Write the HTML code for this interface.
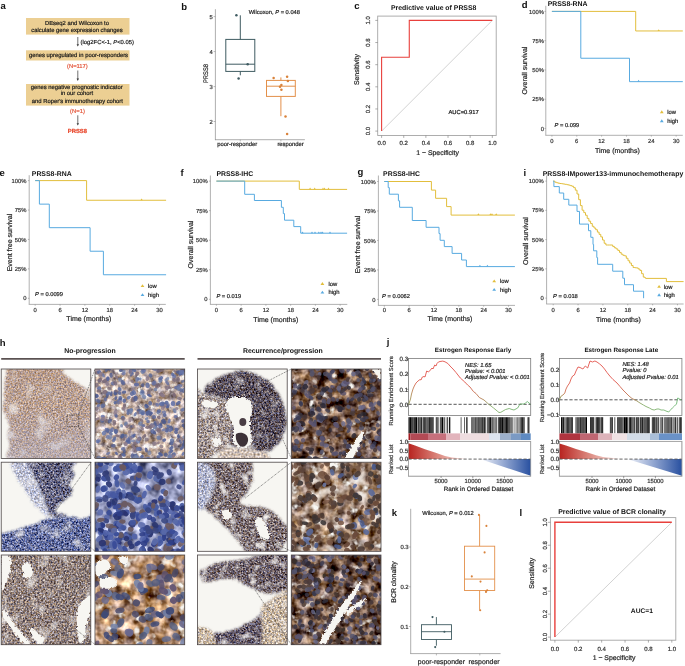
<!DOCTYPE html><html><head><meta charset="utf-8"><title>Figure</title><style>html,body{margin:0;padding:0;background:#fff;}body{width:685px;height:666px;overflow:hidden;font-family:"Liberation Sans",sans-serif;}svg{display:block;will-change:transform;}text{stroke-width:0.2px;paint-order:stroke;}</style></head><body><svg width="685" height="666" viewBox="0 0 685 666" font-family='"Liberation Sans", sans-serif' text-rendering="geometricPrecision"><rect width="685" height="666" fill="#fff"/><defs><filter id="f000" x="0" y="0" width="1" height="1" color-interpolation-filters="sRGB"><feTurbulence type="fractalNoise" baseFrequency="0.6" numOctaves="3" seed="1" result="n"/><feColorMatrix in="n" type="matrix" values="0.700 0.329 0 0 0.215 0.700 0.094 0 0 0.230 0.700 -0.376 0 0 0.411 0 0 0 0 1" result="c"/><feTurbulence type="fractalNoise" baseFrequency="0.06" numOctaves="2" seed="78" result="cn"/><feColorMatrix in="cn" type="matrix" values="0 0 0 0 0.97 0 0 0 0 0.96 0 0 0 0 0.95 2.5 0 0 0 -1.375" result="cw"/><feComposite in="cw" in2="c" operator="over" result="cc"/><feColorMatrix in="n" type="matrix" values="0 0 0 0 0.97 0 0 0 0 0.965 0 0 0 0 0.95 0 0 3 0 -1.920" result="w"/><feComposite in="w" in2="cc" operator="over"/></filter><filter id="f100" x="0" y="0" width="1" height="1" color-interpolation-filters="sRGB"><feTurbulence type="fractalNoise" baseFrequency="0.16" numOctaves="3" seed="4" result="n"/><feColorMatrix in="n" type="matrix" values="1.100 0.192 0 0 0.083 1.100 0.055 0 0 0.074 1.100 -0.220 0 0 0.179 0 0 0 0 1" result="c"/><feColorMatrix in="n" type="matrix" values="0 0 0 0 0.97 0 0 0 0 0.965 0 0 0 0 0.95 0 0 5 0 -2.850" result="w"/><feComposite in="w" in2="c" operator="over"/></filter><filter id="f010" x="0" y="0" width="1" height="1" color-interpolation-filters="sRGB"><feTurbulence type="fractalNoise" baseFrequency="0.55" numOctaves="3" seed="6" result="n"/><feColorMatrix in="n" type="matrix" values="0.900 0.220 0 0 0.166 0.900 0.063 0 0 0.256 0.900 -0.251 0 0 0.499 0 0 0 0 1" result="c"/><feTurbulence type="fractalNoise" baseFrequency="0.08" numOctaves="2" seed="83" result="cn"/><feColorMatrix in="cn" type="matrix" values="0 0 0 0 0.97 0 0 0 0 0.96 0 0 0 0 0.95 2.0 0 0 0 -1.100" result="cw"/><feComposite in="cw" in2="c" operator="over" result="cc"/><feColorMatrix in="n" type="matrix" values="0 0 0 0 0.97 0 0 0 0 0.965 0 0 0 0 0.95 0 0 3 0 -1.800" result="w"/><feComposite in="w" in2="cc" operator="over"/></filter><filter id="f011" x="0" y="0" width="1" height="1" color-interpolation-filters="sRGB"><feTurbulence type="fractalNoise" baseFrequency="0.55" numOctaves="3" seed="7" result="n"/><feColorMatrix in="n" type="matrix" values="1.200 0.275 0 0 -0.376 1.200 0.078 0 0 -0.278 1.200 -0.314 0 0 0.035 0 0 0 0 1" result="c"/><feTurbulence type="fractalNoise" baseFrequency="0.08" numOctaves="2" seed="84" result="cn"/><feColorMatrix in="cn" type="matrix" values="0 0 0 0 0.97 0 0 0 0 0.96 0 0 0 0 0.95 1.5 0 0 0 -0.825" result="cw"/><feComposite in="cw" in2="c" operator="over" result="cc"/><feColorMatrix in="n" type="matrix" values="0 0 0 0 0.97 0 0 0 0 0.965 0 0 0 0 0.95 0 0 3 0 -1.800" result="w"/><feComposite in="w" in2="cc" operator="over"/></filter><filter id="f012" x="0" y="0" width="1" height="1" color-interpolation-filters="sRGB"><feTurbulence type="fractalNoise" baseFrequency="0.55" numOctaves="3" seed="8" result="n"/><feColorMatrix in="n" type="matrix" values="1.200 0.275 0 0 -0.365 1.200 0.078 0 0 -0.227 1.200 -0.314 0 0 0.165 0 0 0 0 1" result="c"/><feTurbulence type="fractalNoise" baseFrequency="0.08" numOctaves="2" seed="85" result="cn"/><feColorMatrix in="cn" type="matrix" values="0 0 0 0 0.97 0 0 0 0 0.96 0 0 0 0 0.95 2.5 0 0 0 -1.375" result="cw"/><feComposite in="cw" in2="c" operator="over" result="cc"/><feColorMatrix in="n" type="matrix" values="0 0 0 0 0.97 0 0 0 0 0.965 0 0 0 0 0.95 0 0 3 0 -1.800" result="w"/><feComposite in="w" in2="cc" operator="over"/></filter><filter id="f110" x="0" y="0" width="1" height="1" color-interpolation-filters="sRGB"><feTurbulence type="fractalNoise" baseFrequency="0.08" numOctaves="3" seed="10" result="n"/><feColorMatrix in="n" type="matrix" values="1.400 0.059 0 0 -0.102 1.400 0.049 0 0 -0.077 1.400 0.020 0 0 0.075 0 0 0 0 1" result="c"/></filter><filter id="f020" x="0" y="0" width="1" height="1" color-interpolation-filters="sRGB"><feTurbulence type="fractalNoise" baseFrequency="0.55" numOctaves="3" seed="13" result="n"/><feColorMatrix in="n" type="matrix" values="1.050 0.275 0 0 -0.113 1.050 0.078 0 0 -0.078 1.050 -0.314 0 0 0.102 0 0 0 0 1" result="c"/><feTurbulence type="fractalNoise" baseFrequency="0.08" numOctaves="2" seed="90" result="cn"/><feColorMatrix in="cn" type="matrix" values="0 0 0 0 0.97 0 0 0 0 0.96 0 0 0 0 0.95 2.5 0 0 0 -1.375" result="cw"/><feComposite in="cw" in2="c" operator="over" result="cc"/><feColorMatrix in="n" type="matrix" values="0 0 0 0 0.97 0 0 0 0 0.965 0 0 0 0 0.95 0 0 3 0 -1.800" result="w"/><feComposite in="w" in2="cc" operator="over"/></filter><filter id="f120" x="0" y="0" width="1" height="1" color-interpolation-filters="sRGB"><feTurbulence type="fractalNoise" baseFrequency="0.09" numOctaves="3" seed="17" result="n"/><feColorMatrix in="n" type="matrix" values="1.500 0.220 0 0 -0.201 1.500 0.063 0 0 -0.272 1.500 -0.251 0 0 -0.232 0 0 0 0 1" result="c"/><feColorMatrix in="n" type="matrix" values="0 0 0 0 0.97 0 0 0 0 0.965 0 0 0 0 0.95 0 0 4.5 0 -2.610" result="w"/><feComposite in="w" in2="c" operator="over"/></filter><filter id="f200" x="0" y="0" width="1" height="1" color-interpolation-filters="sRGB"><feTurbulence type="fractalNoise" baseFrequency="0.55" numOctaves="3" seed="21" result="n"/><feColorMatrix in="n" type="matrix" values="1.050 0.275 0 0 -0.325 1.050 0.078 0 0 -0.266 1.050 -0.314 0 0 -0.023 0 0 0 0 1" result="c"/><feTurbulence type="fractalNoise" baseFrequency="0.09" numOctaves="2" seed="98" result="cn"/><feColorMatrix in="cn" type="matrix" values="0 0 0 0 0.97 0 0 0 0 0.96 0 0 0 0 0.95 2.0 0 0 0 -1.100" result="cw"/><feComposite in="cw" in2="c" operator="over" result="cc"/><feColorMatrix in="n" type="matrix" values="0 0 0 0 0.97 0 0 0 0 0.965 0 0 0 0 0.95 0 0 3 0 -1.860" result="w"/><feComposite in="w" in2="cc" operator="over"/></filter><filter id="f201" x="0" y="0" width="1" height="1" color-interpolation-filters="sRGB"><feTurbulence type="fractalNoise" baseFrequency="0.55" numOctaves="3" seed="20" result="n"/><feColorMatrix in="n" type="matrix" values="1.050 0.275 0 0 -0.074 1.050 0.078 0 0 -0.031 1.050 -0.314 0 0 0.157 0 0 0 0 1" result="c"/><feTurbulence type="fractalNoise" baseFrequency="0.1" numOctaves="2" seed="97" result="cn"/><feColorMatrix in="cn" type="matrix" values="0 0 0 0 0.97 0 0 0 0 0.96 0 0 0 0 0.95 3.5 0 0 0 -1.925" result="cw"/><feComposite in="cw" in2="c" operator="over" result="cc"/><feColorMatrix in="n" type="matrix" values="0 0 0 0 0.97 0 0 0 0 0.965 0 0 0 0 0.95 0 0 3 0 -1.680" result="w"/><feComposite in="w" in2="cc" operator="over"/></filter><filter id="f202" x="0" y="0" width="1" height="1" color-interpolation-filters="sRGB"><feTurbulence type="fractalNoise" baseFrequency="0.5" numOctaves="3" seed="22" result="n"/><feColorMatrix in="n" type="matrix" values="0.800 0.165 0 0 0.322 0.800 0.047 0 0 0.322 0.800 -0.188 0 0 0.400 0 0 0 0 1" result="c"/></filter><filter id="f300" x="0" y="0" width="1" height="1" color-interpolation-filters="sRGB"><feTurbulence type="fractalNoise" baseFrequency="0.11" numOctaves="3" seed="24" result="n"/><feColorMatrix in="n" type="matrix" values="1.400 0.165 0 0 -0.343 1.400 0.047 0 0 -0.402 1.400 -0.188 0 0 -0.355 0 0 0 0 1" result="c"/><feColorMatrix in="n" type="matrix" values="0 0 0 0 0.97 0 0 0 0 0.965 0 0 0 0 0.95 0 0 4 0 -2.400" result="w"/><feComposite in="w" in2="c" operator="over"/></filter><filter id="f210" x="0" y="0" width="1" height="1" color-interpolation-filters="sRGB"><feTurbulence type="fractalNoise" baseFrequency="0.55" numOctaves="3" seed="26" result="n"/><feColorMatrix in="n" type="matrix" values="1.000 0.220 0 0 0.057 1.000 0.063 0 0 0.151 1.000 -0.251 0 0 0.410 0 0 0 0 1" result="c"/><feTurbulence type="fractalNoise" baseFrequency="0.1" numOctaves="2" seed="103" result="cn"/><feColorMatrix in="cn" type="matrix" values="0 0 0 0 0.97 0 0 0 0 0.96 0 0 0 0 0.95 3.0 0 0 0 -1.650" result="cw"/><feComposite in="cw" in2="c" operator="over" result="cc"/><feColorMatrix in="n" type="matrix" values="0 0 0 0 0.97 0 0 0 0 0.965 0 0 0 0 0.95 0 0 3 0 -1.650" result="w"/><feComposite in="w" in2="cc" operator="over"/></filter><filter id="f211" x="0" y="0" width="1" height="1" color-interpolation-filters="sRGB"><feTurbulence type="fractalNoise" baseFrequency="0.55" numOctaves="3" seed="27" result="n"/><feColorMatrix in="n" type="matrix" values="1.050 0.275 0 0 -0.223 1.050 0.078 0 0 -0.180 1.050 -0.314 0 0 0.032 0 0 0 0 1" result="c"/><feTurbulence type="fractalNoise" baseFrequency="0.1" numOctaves="2" seed="104" result="cn"/><feColorMatrix in="cn" type="matrix" values="0 0 0 0 0.97 0 0 0 0 0.96 0 0 0 0 0.95 3.5 0 0 0 -1.925" result="cw"/><feComposite in="cw" in2="c" operator="over" result="cc"/><feColorMatrix in="n" type="matrix" values="0 0 0 0 0.97 0 0 0 0 0.965 0 0 0 0 0.95 0 0 3 0 -1.650" result="w"/><feComposite in="w" in2="cc" operator="over"/></filter><filter id="f310" x="0" y="0" width="1" height="1" color-interpolation-filters="sRGB"><feTurbulence type="fractalNoise" baseFrequency="0.1" numOctaves="3" seed="30" result="n"/><feColorMatrix in="n" type="matrix" values="1.500 0.165 0 0 -0.283 1.500 0.047 0 0 -0.334 1.500 -0.188 0 0 -0.295 0 0 0 0 1" result="c"/><feTurbulence type="fractalNoise" baseFrequency="0.07" numOctaves="2" seed="107" result="cn"/><feColorMatrix in="cn" type="matrix" values="0 0 0 0 0.97 0 0 0 0 0.96 0 0 0 0 0.95 3.0 0 0 0 -1.650" result="cw"/><feComposite in="cw" in2="c" operator="over" result="cc"/><feColorMatrix in="n" type="matrix" values="0 0 0 0 0.97 0 0 0 0 0.965 0 0 0 0 0.95 0 0 4.5 0 -2.520" result="w"/><feComposite in="w" in2="cc" operator="over"/></filter><filter id="f220" x="0" y="0" width="1" height="1" color-interpolation-filters="sRGB"><feTurbulence type="fractalNoise" baseFrequency="0.55" numOctaves="3" seed="33" result="n"/><feColorMatrix in="n" type="matrix" values="1.050 0.275 0 0 -0.250 1.050 0.078 0 0 -0.203 1.050 -0.314 0 0 0.024 0 0 0 0 1" result="c"/><feTurbulence type="fractalNoise" baseFrequency="0.1" numOctaves="2" seed="110" result="cn"/><feColorMatrix in="cn" type="matrix" values="0 0 0 0 0.97 0 0 0 0 0.96 0 0 0 0 0.95 3.0 0 0 0 -1.650" result="cw"/><feComposite in="cw" in2="c" operator="over" result="cc"/><feColorMatrix in="n" type="matrix" values="0 0 0 0 0.97 0 0 0 0 0.965 0 0 0 0 0.95 0 0 3 0 -1.740" result="w"/><feComposite in="w" in2="cc" operator="over"/></filter><filter id="f221" x="0" y="0" width="1" height="1" color-interpolation-filters="sRGB"><feTurbulence type="fractalNoise" baseFrequency="0.55" numOctaves="3" seed="35" result="n"/><feColorMatrix in="n" type="matrix" values="1.050 0.275 0 0 -0.290 1.050 0.078 0 0 -0.231 1.050 -0.314 0 0 0.024 0 0 0 0 1" result="c"/><feTurbulence type="fractalNoise" baseFrequency="0.1" numOctaves="2" seed="112" result="cn"/><feColorMatrix in="cn" type="matrix" values="0 0 0 0 0.97 0 0 0 0 0.96 0 0 0 0 0.95 2.5 0 0 0 -1.375" result="cw"/><feComposite in="cw" in2="c" operator="over" result="cc"/><feColorMatrix in="n" type="matrix" values="0 0 0 0 0.97 0 0 0 0 0.965 0 0 0 0 0.95 0 0 3 0 -1.800" result="w"/><feComposite in="w" in2="cc" operator="over"/></filter><filter id="f222" x="0" y="0" width="1" height="1" color-interpolation-filters="sRGB"><feTurbulence type="fractalNoise" baseFrequency="0.55" numOctaves="3" seed="34" result="n"/><feColorMatrix in="n" type="matrix" values="1.000 0.275 0 0 0.131 1.000 0.078 0 0 0.159 1.000 -0.314 0 0 0.284 0 0 0 0 1" result="c"/><feTurbulence type="fractalNoise" baseFrequency="0.1" numOctaves="2" seed="111" result="cn"/><feColorMatrix in="cn" type="matrix" values="0 0 0 0 0.97 0 0 0 0 0.96 0 0 0 0 0.95 2.5 0 0 0 -1.375" result="cw"/><feComposite in="cw" in2="c" operator="over" result="cc"/><feColorMatrix in="n" type="matrix" values="0 0 0 0 0.97 0 0 0 0 0.965 0 0 0 0 0.95 0 0 3 0 -1.800" result="w"/><feComposite in="w" in2="cc" operator="over"/></filter><filter id="f320" x="0" y="0" width="1" height="1" color-interpolation-filters="sRGB"><feTurbulence type="fractalNoise" baseFrequency="0.11" numOctaves="3" seed="37" result="n"/><feColorMatrix in="n" type="matrix" values="1.400 0.165 0 0 -0.351 1.400 0.047 0 0 -0.402 1.400 -0.188 0 0 -0.347 0 0 0 0 1" result="c"/><feColorMatrix in="n" type="matrix" values="0 0 0 0 0.97 0 0 0 0 0.965 0 0 0 0 0.95 0 0 4 0 -2.400" result="w"/><feComposite in="w" in2="c" operator="over"/></filter></defs><text x="0.50" y="8.80" font-size="9.5" font-weight="bold" fill="#111">a</text>
<rect x="26.00" y="18.00" width="103.50" height="16.60" fill="#ECCF93"/>
<text x="77.00" y="24.80" font-size="5.85" text-anchor="middle" fill="#1a1a1a" stroke="#1a1a1a">DEseq2 and Wilcoxon to</text>
<text x="77.00" y="31.50" font-size="5.85" text-anchor="middle" fill="#1a1a1a" stroke="#1a1a1a">calculate gene expression changes</text>
<line x1="77.80" y1="37.00" x2="77.80" y2="44.50" stroke="#333" stroke-width="0.7"/>
<path d="M76.6,44.2 L79,44.2 L77.8,46.6 Z" fill="#333"/>
<text x="80.6" y="43.6" font-size="5.85" fill="#1a1a1a" stroke="#1a1a1a">(log2FC&lt;-1, <tspan font-style="italic">P</tspan>&lt;0.05)</text>
<rect x="26.00" y="50.30" width="103.50" height="10.20" fill="#ECCF93"/>
<text x="78.50" y="57.40" font-size="5.85" text-anchor="middle" fill="#1a1a1a" stroke="#1a1a1a">genes upregulated in poor-responders</text>
<text x="77.40" y="68.10" font-size="5.85" text-anchor="middle" fill="#E4573C" stroke="#E4573C">(N=117)</text>
<line x1="77.80" y1="70.50" x2="77.80" y2="79.00" stroke="#333" stroke-width="0.7"/>
<path d="M76.6,78.6 L79,78.6 L77.8,81 Z" fill="#333"/>
<rect x="26.00" y="84.00" width="103.50" height="21.60" fill="#ECCF93"/>
<text x="76.70" y="88.90" font-size="5.85" text-anchor="middle" fill="#1a1a1a" stroke="#1a1a1a">genes negative prognostic indicator</text>
<text x="76.90" y="95.40" font-size="5.85" text-anchor="middle" fill="#1a1a1a" stroke="#1a1a1a">in our cohort</text>
<text x="77.40" y="102.60" font-size="5.85" text-anchor="middle" fill="#1a1a1a" stroke="#1a1a1a">and Roper's immunotherapy cohort</text>
<text x="77.50" y="112.90" font-size="5.85" text-anchor="middle" fill="#E4573C" stroke="#E4573C">(N=1)</text>
<line x1="77.80" y1="115.30" x2="77.80" y2="123.50" stroke="#333" stroke-width="0.7"/>
<path d="M76.6,123.2 L79,123.2 L77.8,125.6 Z" fill="#333"/>
<text x="77.40" y="132.80" font-size="5.9" text-anchor="middle" font-weight="bold" fill="#E8452A" stroke="#E8452A">PRSS8</text>
<text x="181.20" y="10.00" font-size="9.5" font-weight="bold" fill="#111">b</text>
<line x1="215.40" y1="9.20" x2="215.40" y2="140.10" stroke="#8C8C8C" stroke-width="0.7"/>
<line x1="215.00" y1="139.70" x2="304.90" y2="139.70" stroke="#8C8C8C" stroke-width="0.7"/>
<line x1="213.60" y1="16.60" x2="215.40" y2="16.60" stroke="#8C8C8C" stroke-width="0.6"/>
<text x="212.80" y="18.70" font-size="5.85" text-anchor="end" fill="#333" stroke="#333">5</text>
<line x1="213.60" y1="51.60" x2="215.40" y2="51.60" stroke="#8C8C8C" stroke-width="0.6"/>
<text x="212.80" y="53.70" font-size="5.85" text-anchor="end" fill="#333" stroke="#333">4</text>
<line x1="213.60" y1="86.60" x2="215.40" y2="86.60" stroke="#8C8C8C" stroke-width="0.6"/>
<text x="212.80" y="88.70" font-size="5.85" text-anchor="end" fill="#333" stroke="#333">3</text>
<line x1="213.60" y1="121.50" x2="215.40" y2="121.50" stroke="#8C8C8C" stroke-width="0.6"/>
<text x="212.80" y="123.60" font-size="5.85" text-anchor="end" fill="#333" stroke="#333">2</text>
<line x1="240.30" y1="139.70" x2="240.30" y2="141.40" stroke="#8C8C8C" stroke-width="0.6"/>
<line x1="280.90" y1="139.70" x2="280.90" y2="141.40" stroke="#8C8C8C" stroke-width="0.6"/>
<text x="237.20" y="146.30" font-size="5.85" text-anchor="middle" fill="#222" stroke="#222">poor-responder</text>
<text x="290.60" y="146.30" font-size="5.85" text-anchor="middle" fill="#222" stroke="#222">responder</text>
<text x="206.60" y="73.50" font-size="6.6" text-anchor="middle" fill="#222" stroke="#222" transform="rotate(-90 206.60 73.50)" dominant-baseline="central" textLength="19" lengthAdjust="spacingAndGlyphs">PRSS8</text>
<text x="248.7" y="14.0" font-size="5.75" fill="#222" stroke="#222">Wilcoxon, <tspan font-style="italic">P</tspan> = 0.048</text>
<rect x="225.80" y="39.40" width="29.00" height="32.00" fill="#fff" stroke="#3F5B61" stroke-width="1.0"/>
<line x1="225.80" y1="64.20" x2="254.80" y2="64.20" stroke="#3F5B61" stroke-width="1.0"/>
<line x1="240.30" y1="39.40" x2="240.30" y2="15.30" stroke="#3F5B61" stroke-width="1.0"/>
<line x1="240.30" y1="71.40" x2="240.30" y2="75.30" stroke="#3F5B61" stroke-width="1.0"/>
<circle cx="236.40" cy="15.30" r="1.25" fill="#3F5B61"/>
<circle cx="247.70" cy="64.30" r="1.25" fill="#3F5B61"/>
<circle cx="238.60" cy="78.40" r="1.25" fill="#3F5B61"/>
<rect x="266.50" y="80.40" width="28.80" height="16.00" fill="#fff" stroke="#E3904A" stroke-width="1.0"/>
<line x1="266.50" y1="86.20" x2="295.30" y2="86.20" stroke="#E3904A" stroke-width="1.0"/>
<line x1="280.90" y1="80.40" x2="280.90" y2="77.40" stroke="#E3904A" stroke-width="1.0"/>
<line x1="280.90" y1="96.40" x2="280.90" y2="116.20" stroke="#E3904A" stroke-width="1.0"/>
<circle cx="273.60" cy="78.00" r="1.25" fill="#D9823A"/>
<circle cx="287.10" cy="76.80" r="1.25" fill="#D9823A"/>
<circle cx="287.90" cy="81.00" r="1.25" fill="#D9823A"/>
<circle cx="281.40" cy="85.10" r="1.25" fill="#D9823A"/>
<circle cx="280.00" cy="86.80" r="1.25" fill="#D9823A"/>
<circle cx="281.40" cy="89.80" r="1.25" fill="#D9823A"/>
<circle cx="285.50" cy="116.40" r="1.25" fill="#D9823A"/>
<circle cx="287.10" cy="134.00" r="1.25" fill="#D9823A"/>
<text x="354.30" y="9.30" font-size="9.5" font-weight="bold" fill="#111">c</text>
<rect x="377.70" y="16.10" width="118.50" height="119.40" fill="none" stroke="#A5A5A5" stroke-width="0.9"/>
<line x1="381.60" y1="131.10" x2="492.30" y2="20.40" stroke="#B4B4B4" stroke-width="0.6"/>
<polyline points="381.60,131.10 381.60,57.26 409.28,57.26 409.28,20.40 492.30,20.40" fill="none" stroke="#E8403C" stroke-width="1.1" stroke-linejoin="miter"/>
<line x1="375.30" y1="131.10" x2="377.70" y2="131.10" stroke="#777" stroke-width="0.6"/>
<text x="369.30" y="131.10" font-size="6.0" text-anchor="middle" fill="#333" stroke="#333" transform="rotate(-90 369.30 131.10)" dominant-baseline="central">0.0</text>
<line x1="381.60" y1="135.50" x2="381.60" y2="137.90" stroke="#777" stroke-width="0.6"/>
<text x="381.60" y="144.70" font-size="6.0" text-anchor="middle" fill="#333" stroke="#333">0.0</text>
<line x1="375.30" y1="108.96" x2="377.70" y2="108.96" stroke="#777" stroke-width="0.6"/>
<text x="369.30" y="108.96" font-size="6.0" text-anchor="middle" fill="#333" stroke="#333" transform="rotate(-90 369.30 108.96)" dominant-baseline="central">0.2</text>
<line x1="403.74" y1="135.50" x2="403.74" y2="137.90" stroke="#777" stroke-width="0.6"/>
<text x="403.74" y="144.70" font-size="6.0" text-anchor="middle" fill="#333" stroke="#333">0.2</text>
<line x1="375.30" y1="86.82" x2="377.70" y2="86.82" stroke="#777" stroke-width="0.6"/>
<text x="369.30" y="86.82" font-size="6.0" text-anchor="middle" fill="#333" stroke="#333" transform="rotate(-90 369.30 86.82)" dominant-baseline="central">0.4</text>
<line x1="425.88" y1="135.50" x2="425.88" y2="137.90" stroke="#777" stroke-width="0.6"/>
<text x="425.88" y="144.70" font-size="6.0" text-anchor="middle" fill="#333" stroke="#333">0.4</text>
<line x1="375.30" y1="64.68" x2="377.70" y2="64.68" stroke="#777" stroke-width="0.6"/>
<text x="369.30" y="64.68" font-size="6.0" text-anchor="middle" fill="#333" stroke="#333" transform="rotate(-90 369.30 64.68)" dominant-baseline="central">0.6</text>
<line x1="448.02" y1="135.50" x2="448.02" y2="137.90" stroke="#777" stroke-width="0.6"/>
<text x="448.02" y="144.70" font-size="6.0" text-anchor="middle" fill="#333" stroke="#333">0.6</text>
<line x1="375.30" y1="42.54" x2="377.70" y2="42.54" stroke="#777" stroke-width="0.6"/>
<text x="369.30" y="42.54" font-size="6.0" text-anchor="middle" fill="#333" stroke="#333" transform="rotate(-90 369.30 42.54)" dominant-baseline="central">0.8</text>
<line x1="470.16" y1="135.50" x2="470.16" y2="137.90" stroke="#777" stroke-width="0.6"/>
<text x="470.16" y="144.70" font-size="6.0" text-anchor="middle" fill="#333" stroke="#333">0.8</text>
<line x1="375.30" y1="20.40" x2="377.70" y2="20.40" stroke="#777" stroke-width="0.6"/>
<text x="369.30" y="20.40" font-size="6.0" text-anchor="middle" fill="#333" stroke="#333" transform="rotate(-90 369.30 20.40)" dominant-baseline="central">1.0</text>
<line x1="492.30" y1="135.50" x2="492.30" y2="137.90" stroke="#777" stroke-width="0.6"/>
<text x="492.30" y="144.70" font-size="6.0" text-anchor="middle" fill="#333" stroke="#333">1.0</text>
<text x="433.70" y="10.10" font-size="6.9" text-anchor="middle" font-weight="bold" fill="#111">Predictive value of PRSS8</text>
<text x="357.10" y="69.60" font-size="6.9" text-anchor="middle" fill="#222" stroke="#222" transform="rotate(-90 357.10 69.60)" dominant-baseline="central">Sensitivity</text>
<text x="437.60" y="154.50" font-size="6.9" text-anchor="middle" fill="#222" stroke="#222">1 − Specificity</text>
<text x="448.50" y="113.80" font-size="5.8" fill="#111" stroke="#111">AUC=0.917</text>
<text x="519.50" y="516.30" font-size="9.5" font-weight="bold" fill="#111">l</text>
<rect x="550.40" y="517.60" width="125.40" height="122.60" fill="none" stroke="#A5A5A5" stroke-width="0.9"/>
<line x1="554.90" y1="637.10" x2="671.80" y2="522.30" stroke="#B4B4B4" stroke-width="0.6"/>
<polyline points="554.90,637.10 554.90,522.30 671.80,522.30" fill="none" stroke="#E8403C" stroke-width="1.4" stroke-linejoin="miter"/>
<line x1="548.00" y1="637.10" x2="550.40" y2="637.10" stroke="#777" stroke-width="0.6"/>
<text x="545.70" y="637.10" font-size="6.0" text-anchor="middle" fill="#333" stroke="#333" transform="rotate(-90 545.70 637.10)" dominant-baseline="central">0.0</text>
<line x1="554.90" y1="640.20" x2="554.90" y2="642.60" stroke="#777" stroke-width="0.6"/>
<text x="554.90" y="651.20" font-size="6.0" text-anchor="middle" fill="#333" stroke="#333">0.0</text>
<line x1="548.00" y1="614.14" x2="550.40" y2="614.14" stroke="#777" stroke-width="0.6"/>
<text x="545.70" y="614.14" font-size="6.0" text-anchor="middle" fill="#333" stroke="#333" transform="rotate(-90 545.70 614.14)" dominant-baseline="central">0.2</text>
<line x1="578.28" y1="640.20" x2="578.28" y2="642.60" stroke="#777" stroke-width="0.6"/>
<text x="578.28" y="651.20" font-size="6.0" text-anchor="middle" fill="#333" stroke="#333">0.2</text>
<line x1="548.00" y1="591.18" x2="550.40" y2="591.18" stroke="#777" stroke-width="0.6"/>
<text x="545.70" y="591.18" font-size="6.0" text-anchor="middle" fill="#333" stroke="#333" transform="rotate(-90 545.70 591.18)" dominant-baseline="central">0.4</text>
<line x1="601.66" y1="640.20" x2="601.66" y2="642.60" stroke="#777" stroke-width="0.6"/>
<text x="601.66" y="651.20" font-size="6.0" text-anchor="middle" fill="#333" stroke="#333">0.4</text>
<line x1="548.00" y1="568.22" x2="550.40" y2="568.22" stroke="#777" stroke-width="0.6"/>
<text x="545.70" y="568.22" font-size="6.0" text-anchor="middle" fill="#333" stroke="#333" transform="rotate(-90 545.70 568.22)" dominant-baseline="central">0.6</text>
<line x1="625.04" y1="640.20" x2="625.04" y2="642.60" stroke="#777" stroke-width="0.6"/>
<text x="625.04" y="651.20" font-size="6.0" text-anchor="middle" fill="#333" stroke="#333">0.6</text>
<line x1="548.00" y1="545.26" x2="550.40" y2="545.26" stroke="#777" stroke-width="0.6"/>
<text x="545.70" y="545.26" font-size="6.0" text-anchor="middle" fill="#333" stroke="#333" transform="rotate(-90 545.70 545.26)" dominant-baseline="central">0.8</text>
<line x1="648.42" y1="640.20" x2="648.42" y2="642.60" stroke="#777" stroke-width="0.6"/>
<text x="648.42" y="651.20" font-size="6.0" text-anchor="middle" fill="#333" stroke="#333">0.8</text>
<line x1="548.00" y1="522.30" x2="550.40" y2="522.30" stroke="#777" stroke-width="0.6"/>
<text x="545.70" y="522.30" font-size="6.0" text-anchor="middle" fill="#333" stroke="#333" transform="rotate(-90 545.70 522.30)" dominant-baseline="central">1.0</text>
<line x1="671.80" y1="640.20" x2="671.80" y2="642.60" stroke="#777" stroke-width="0.6"/>
<text x="671.80" y="651.20" font-size="6.0" text-anchor="middle" fill="#333" stroke="#333">1.0</text>
<text x="612.00" y="514.00" font-size="6.9" text-anchor="middle" font-weight="bold" fill="#111">Predictive value of BCR clonality</text>
<text x="532.30" y="573.30" font-size="6.9" text-anchor="middle" fill="#222" stroke="#222" transform="rotate(-90 532.30 573.30)" dominant-baseline="central">Sensitivity</text>
<text x="614.00" y="660.10" font-size="6.9" text-anchor="middle" fill="#222" stroke="#222">1 − Specificity</text>
<text x="630.80" y="613.00" font-size="6.7" font-weight="bold" fill="#111">AUC=1</text>
<text x="521.80" y="8.00" font-size="9.5" font-weight="bold" fill="#111">d</text>
<line x1="545.80" y1="5.80" x2="545.80" y2="135.30" stroke="#A8A8A8" stroke-width="0.9"/>
<line x1="545.35" y1="135.30" x2="682.80" y2="135.30" stroke="#A8A8A8" stroke-width="0.9"/>
<line x1="544.50" y1="11.40" x2="545.80" y2="11.40" stroke="#888" stroke-width="0.6"/>
<text x="543.90" y="13.50" font-size="5.85" text-anchor="end" fill="#333" stroke="#333">100%</text>
<line x1="544.50" y1="40.68" x2="545.80" y2="40.68" stroke="#888" stroke-width="0.6"/>
<text x="543.90" y="42.78" font-size="5.85" text-anchor="end" fill="#333" stroke="#333">75%</text>
<line x1="544.50" y1="69.95" x2="545.80" y2="69.95" stroke="#888" stroke-width="0.6"/>
<text x="543.90" y="72.05" font-size="5.85" text-anchor="end" fill="#333" stroke="#333">50%</text>
<line x1="544.50" y1="99.22" x2="545.80" y2="99.22" stroke="#888" stroke-width="0.6"/>
<text x="543.90" y="101.32" font-size="5.85" text-anchor="end" fill="#333" stroke="#333">25%</text>
<line x1="544.50" y1="128.50" x2="545.80" y2="128.50" stroke="#888" stroke-width="0.6"/>
<text x="543.90" y="130.60" font-size="5.85" text-anchor="end" fill="#333" stroke="#333">0</text>
<line x1="551.90" y1="135.30" x2="551.90" y2="136.60" stroke="#888" stroke-width="0.6"/>
<text x="551.90" y="142.50" font-size="5.85" text-anchor="middle" fill="#333" stroke="#333">0</text>
<line x1="576.75" y1="135.30" x2="576.75" y2="136.60" stroke="#888" stroke-width="0.6"/>
<text x="576.75" y="142.50" font-size="5.85" text-anchor="middle" fill="#333" stroke="#333">6</text>
<line x1="601.60" y1="135.30" x2="601.60" y2="136.60" stroke="#888" stroke-width="0.6"/>
<text x="601.60" y="142.50" font-size="5.85" text-anchor="middle" fill="#333" stroke="#333">12</text>
<line x1="626.46" y1="135.30" x2="626.46" y2="136.60" stroke="#888" stroke-width="0.6"/>
<text x="626.46" y="142.50" font-size="5.85" text-anchor="middle" fill="#333" stroke="#333">18</text>
<line x1="651.31" y1="135.30" x2="651.31" y2="136.60" stroke="#888" stroke-width="0.6"/>
<text x="651.31" y="142.50" font-size="5.85" text-anchor="middle" fill="#333" stroke="#333">24</text>
<line x1="676.16" y1="135.30" x2="676.16" y2="136.60" stroke="#888" stroke-width="0.6"/>
<text x="676.16" y="142.50" font-size="5.85" text-anchor="middle" fill="#333" stroke="#333">30</text>
<text x="547.70" y="5.75" font-size="6.9" font-weight="bold" fill="#111">PRSS8-RNA</text>
<text x="525.30" y="70.50" font-size="7.0" text-anchor="middle" fill="#222" stroke="#222" transform="rotate(-90 525.30 70.50)" dominant-baseline="central">Overall survival</text>
<text x="554.50" y="126.65" font-size="5.75" fill="#222" stroke="#222"><tspan font-style="italic">P</tspan> = 0.099</text>
<text x="617.40" y="152.50" font-size="7.0" text-anchor="middle" fill="#222" stroke="#222">Time (months)</text>
<path d="M659.90,113.14 L663.70,113.14 L661.80,110.29 Z" fill="#E2BE3C"/>
<path d="M659.90,122.14 L663.70,122.14 L661.80,119.29 Z" fill="#58AAE0"/>
<text x="667.30" y="114.00" font-size="5.85" fill="#222" stroke="#222">low</text>
<text x="667.30" y="123.00" font-size="5.85" fill="#222" stroke="#222">high</text>
<polyline points="551.90,11.40 635.70,11.40 635.70,30.96 682.80,30.96" fill="none" stroke="#E2BE3C" stroke-width="1.0" stroke-linejoin="miter"/>
<path d="M657.60,30.96 L658.70,29.16 L659.80,30.96 Z" fill="#E2BE3C"/>
<polyline points="551.90,11.40 580.80,11.40 580.80,58.24 629.50,58.24 629.50,81.66 682.80,81.66" fill="none" stroke="#58AAE0" stroke-width="1.0" stroke-linejoin="miter"/>
<path d="M637.50,81.66 L638.60,79.86 L639.70,81.66 Z" fill="#58AAE0"/>
<text x="-0.50" y="175.60" font-size="9.5" font-weight="bold" fill="#111">e</text>
<line x1="29.20" y1="175.20" x2="29.20" y2="304.40" stroke="#A8A8A8" stroke-width="0.9"/>
<line x1="28.75" y1="304.40" x2="165.80" y2="304.40" stroke="#A8A8A8" stroke-width="0.9"/>
<line x1="27.90" y1="180.60" x2="29.20" y2="180.60" stroke="#888" stroke-width="0.6"/>
<text x="26.40" y="182.70" font-size="5.85" text-anchor="end" fill="#333" stroke="#333">100%</text>
<line x1="27.90" y1="210.03" x2="29.20" y2="210.03" stroke="#888" stroke-width="0.6"/>
<text x="26.40" y="212.12" font-size="5.85" text-anchor="end" fill="#333" stroke="#333">75%</text>
<line x1="27.90" y1="239.45" x2="29.20" y2="239.45" stroke="#888" stroke-width="0.6"/>
<text x="26.40" y="241.55" font-size="5.85" text-anchor="end" fill="#333" stroke="#333">50%</text>
<line x1="27.90" y1="268.88" x2="29.20" y2="268.88" stroke="#888" stroke-width="0.6"/>
<text x="26.40" y="270.98" font-size="5.85" text-anchor="end" fill="#333" stroke="#333">25%</text>
<line x1="27.90" y1="298.30" x2="29.20" y2="298.30" stroke="#888" stroke-width="0.6"/>
<text x="26.40" y="300.40" font-size="5.85" text-anchor="end" fill="#333" stroke="#333">0</text>
<line x1="35.20" y1="304.40" x2="35.20" y2="305.70" stroke="#888" stroke-width="0.6"/>
<text x="35.20" y="311.70" font-size="5.85" text-anchor="middle" fill="#333" stroke="#333">0</text>
<line x1="60.05" y1="304.40" x2="60.05" y2="305.70" stroke="#888" stroke-width="0.6"/>
<text x="60.05" y="311.70" font-size="5.85" text-anchor="middle" fill="#333" stroke="#333">6</text>
<line x1="84.90" y1="304.40" x2="84.90" y2="305.70" stroke="#888" stroke-width="0.6"/>
<text x="84.90" y="311.70" font-size="5.85" text-anchor="middle" fill="#333" stroke="#333">12</text>
<line x1="109.76" y1="304.40" x2="109.76" y2="305.70" stroke="#888" stroke-width="0.6"/>
<text x="109.76" y="311.70" font-size="5.85" text-anchor="middle" fill="#333" stroke="#333">18</text>
<line x1="134.61" y1="304.40" x2="134.61" y2="305.70" stroke="#888" stroke-width="0.6"/>
<text x="134.61" y="311.70" font-size="5.85" text-anchor="middle" fill="#333" stroke="#333">24</text>
<line x1="159.46" y1="304.40" x2="159.46" y2="305.70" stroke="#888" stroke-width="0.6"/>
<text x="159.46" y="311.70" font-size="5.85" text-anchor="middle" fill="#333" stroke="#333">30</text>
<text x="31.80" y="176.25" font-size="6.9" font-weight="bold" fill="#111">PRSS8-RNA</text>
<text x="10.50" y="242.50" font-size="7.0" text-anchor="middle" fill="#222" stroke="#222" transform="rotate(-90 10.50 242.50)" dominant-baseline="central">Event free survival</text>
<text x="35.00" y="295.65" font-size="5.75" fill="#222" stroke="#222"><tspan font-style="italic">P</tspan> = 0.0099</text>
<text x="88.80" y="321.20" font-size="7.0" text-anchor="middle" fill="#222" stroke="#222">Time (months)</text>
<path d="M140.60,287.04 L144.40,287.04 L142.50,284.19 Z" fill="#E2BE3C"/>
<path d="M140.60,296.04 L144.40,296.04 L142.50,293.19 Z" fill="#58AAE0"/>
<text x="147.90" y="287.90" font-size="5.85" fill="#222" stroke="#222">low</text>
<text x="147.90" y="296.90" font-size="5.85" fill="#222" stroke="#222">high</text>
<polyline points="35.20,180.60 86.60,180.60 86.60,200.26 166.10,200.26" fill="none" stroke="#E2BE3C" stroke-width="1.0" stroke-linejoin="miter"/>
<path d="M140.50,200.26 L141.60,198.46 L142.70,200.26 Z" fill="#E2BE3C"/>
<polyline points="35.20,180.60 39.40,180.60 39.40,204.14 49.30,204.14 49.30,227.68 90.10,227.68 90.10,251.22 103.40,251.22 103.40,274.76 166.10,274.76" fill="none" stroke="#58AAE0" stroke-width="1.0" stroke-linejoin="miter"/>
<text x="180.50" y="176.00" font-size="9.5" font-weight="bold" fill="#111">f</text>
<line x1="210.40" y1="175.50" x2="210.40" y2="304.40" stroke="#A8A8A8" stroke-width="0.9"/>
<line x1="209.95" y1="304.40" x2="347.30" y2="304.40" stroke="#A8A8A8" stroke-width="0.9"/>
<line x1="209.10" y1="181.10" x2="210.40" y2="181.10" stroke="#888" stroke-width="0.6"/>
<text x="207.60" y="183.20" font-size="5.85" text-anchor="end" fill="#333" stroke="#333">100%</text>
<line x1="209.10" y1="210.65" x2="210.40" y2="210.65" stroke="#888" stroke-width="0.6"/>
<text x="207.60" y="212.75" font-size="5.85" text-anchor="end" fill="#333" stroke="#333">75%</text>
<line x1="209.10" y1="240.20" x2="210.40" y2="240.20" stroke="#888" stroke-width="0.6"/>
<text x="207.60" y="242.30" font-size="5.85" text-anchor="end" fill="#333" stroke="#333">50%</text>
<line x1="209.10" y1="269.75" x2="210.40" y2="269.75" stroke="#888" stroke-width="0.6"/>
<text x="207.60" y="271.85" font-size="5.85" text-anchor="end" fill="#333" stroke="#333">25%</text>
<line x1="209.10" y1="299.30" x2="210.40" y2="299.30" stroke="#888" stroke-width="0.6"/>
<text x="207.60" y="301.40" font-size="5.85" text-anchor="end" fill="#333" stroke="#333">0</text>
<line x1="216.40" y1="304.40" x2="216.40" y2="305.70" stroke="#888" stroke-width="0.6"/>
<text x="216.40" y="311.70" font-size="5.85" text-anchor="middle" fill="#333" stroke="#333">0</text>
<line x1="241.15" y1="304.40" x2="241.15" y2="305.70" stroke="#888" stroke-width="0.6"/>
<text x="241.15" y="311.70" font-size="5.85" text-anchor="middle" fill="#333" stroke="#333">6</text>
<line x1="265.90" y1="304.40" x2="265.90" y2="305.70" stroke="#888" stroke-width="0.6"/>
<text x="265.90" y="311.70" font-size="5.85" text-anchor="middle" fill="#333" stroke="#333">12</text>
<line x1="290.65" y1="304.40" x2="290.65" y2="305.70" stroke="#888" stroke-width="0.6"/>
<text x="290.65" y="311.70" font-size="5.85" text-anchor="middle" fill="#333" stroke="#333">18</text>
<line x1="315.40" y1="304.40" x2="315.40" y2="305.70" stroke="#888" stroke-width="0.6"/>
<text x="315.40" y="311.70" font-size="5.85" text-anchor="middle" fill="#333" stroke="#333">24</text>
<line x1="340.15" y1="304.40" x2="340.15" y2="305.70" stroke="#888" stroke-width="0.6"/>
<text x="340.15" y="311.70" font-size="5.85" text-anchor="middle" fill="#333" stroke="#333">30</text>
<text x="216.40" y="176.25" font-size="6.9" font-weight="bold" fill="#111">PRSS8-IHC</text>
<text x="191.80" y="244.50" font-size="7.0" text-anchor="middle" fill="#222" stroke="#222" transform="rotate(-90 191.80 244.50)" dominant-baseline="central">Overall survival</text>
<text x="216.40" y="298.45" font-size="5.75" fill="#222" stroke="#222"><tspan font-style="italic">P</tspan> = 0.019</text>
<text x="275.80" y="322.00" font-size="7.0" text-anchor="middle" fill="#222" stroke="#222">Time (months)</text>
<path d="M320.50,284.94 L324.30,284.94 L322.40,282.09 Z" fill="#E2BE3C"/>
<path d="M320.50,293.54 L324.30,293.54 L322.40,290.69 Z" fill="#58AAE0"/>
<text x="328.40" y="285.80" font-size="5.85" fill="#222" stroke="#222">low</text>
<text x="328.40" y="294.40" font-size="5.85" fill="#222" stroke="#222">high</text>
<polyline points="216.40,181.10 299.30,181.10 299.30,189.40 347.10,189.40" fill="none" stroke="#E2BE3C" stroke-width="1.0" stroke-linejoin="miter"/>
<path d="M309.00,189.40 L310.10,187.60 L311.20,189.40 Z" fill="#E2BE3C"/>
<path d="M313.60,189.40 L314.70,187.60 L315.80,189.40 Z" fill="#E2BE3C"/>
<path d="M321.90,189.40 L323.00,187.60 L324.10,189.40 Z" fill="#E2BE3C"/>
<path d="M323.40,189.40 L324.50,187.60 L325.60,189.40 Z" fill="#E2BE3C"/>
<path d="M327.40,189.40 L328.50,187.60 L329.60,189.40 Z" fill="#E2BE3C"/>
<polyline points="216.40,181.10 244.70,181.10 244.70,194.30 254.40,194.30 254.40,200.50 281.40,200.50 281.40,207.30 283.30,207.30 283.30,213.60 284.50,213.60 284.50,220.20 293.80,220.20 293.80,226.60 300.70,226.60 300.70,233.20 347.10,233.20" fill="none" stroke="#58AAE0" stroke-width="1.0" stroke-linejoin="miter"/>
<path d="M301.40,233.20 L302.50,231.40 L303.60,233.20 Z" fill="#58AAE0"/>
<path d="M310.90,233.20 L312.00,231.40 L313.10,233.20 Z" fill="#58AAE0"/>
<path d="M313.90,233.20 L315.00,231.40 L316.10,233.20 Z" fill="#58AAE0"/>
<path d="M317.70,233.20 L318.80,231.40 L319.90,233.20 Z" fill="#58AAE0"/>
<path d="M319.90,233.20 L321.00,231.40 L322.10,233.20 Z" fill="#58AAE0"/>
<path d="M321.40,233.20 L322.50,231.40 L323.60,233.20 Z" fill="#58AAE0"/>
<path d="M328.90,233.20 L330.00,231.40 L331.10,233.20 Z" fill="#58AAE0"/>
<text x="357.50" y="175.00" font-size="9.5" font-weight="bold" fill="#111">g</text>
<line x1="378.40" y1="175.50" x2="378.40" y2="305.40" stroke="#A8A8A8" stroke-width="0.9"/>
<line x1="377.95" y1="305.40" x2="515.00" y2="305.40" stroke="#A8A8A8" stroke-width="0.9"/>
<line x1="377.10" y1="181.50" x2="378.40" y2="181.50" stroke="#888" stroke-width="0.6"/>
<text x="375.60" y="183.60" font-size="5.85" text-anchor="end" fill="#333" stroke="#333">100%</text>
<line x1="377.10" y1="210.97" x2="378.40" y2="210.97" stroke="#888" stroke-width="0.6"/>
<text x="375.60" y="213.07" font-size="5.85" text-anchor="end" fill="#333" stroke="#333">75%</text>
<line x1="377.10" y1="240.45" x2="378.40" y2="240.45" stroke="#888" stroke-width="0.6"/>
<text x="375.60" y="242.55" font-size="5.85" text-anchor="end" fill="#333" stroke="#333">50%</text>
<line x1="377.10" y1="269.92" x2="378.40" y2="269.92" stroke="#888" stroke-width="0.6"/>
<text x="375.60" y="272.02" font-size="5.85" text-anchor="end" fill="#333" stroke="#333">25%</text>
<line x1="377.10" y1="299.40" x2="378.40" y2="299.40" stroke="#888" stroke-width="0.6"/>
<text x="375.60" y="301.50" font-size="5.85" text-anchor="end" fill="#333" stroke="#333">0</text>
<line x1="384.30" y1="305.40" x2="384.30" y2="306.70" stroke="#888" stroke-width="0.6"/>
<text x="384.30" y="312.00" font-size="5.85" text-anchor="middle" fill="#333" stroke="#333">0</text>
<line x1="409.14" y1="305.40" x2="409.14" y2="306.70" stroke="#888" stroke-width="0.6"/>
<text x="409.14" y="312.00" font-size="5.85" text-anchor="middle" fill="#333" stroke="#333">6</text>
<line x1="433.98" y1="305.40" x2="433.98" y2="306.70" stroke="#888" stroke-width="0.6"/>
<text x="433.98" y="312.00" font-size="5.85" text-anchor="middle" fill="#333" stroke="#333">12</text>
<line x1="458.82" y1="305.40" x2="458.82" y2="306.70" stroke="#888" stroke-width="0.6"/>
<text x="458.82" y="312.00" font-size="5.85" text-anchor="middle" fill="#333" stroke="#333">18</text>
<line x1="483.66" y1="305.40" x2="483.66" y2="306.70" stroke="#888" stroke-width="0.6"/>
<text x="483.66" y="312.00" font-size="5.85" text-anchor="middle" fill="#333" stroke="#333">24</text>
<line x1="508.50" y1="305.40" x2="508.50" y2="306.70" stroke="#888" stroke-width="0.6"/>
<text x="508.50" y="312.00" font-size="5.85" text-anchor="middle" fill="#333" stroke="#333">30</text>
<text x="383.10" y="176.25" font-size="6.9" font-weight="bold" fill="#111">PRSS8-IHC</text>
<text x="358.40" y="244.50" font-size="7.0" text-anchor="middle" fill="#222" stroke="#222" transform="rotate(-90 358.40 244.50)" dominant-baseline="central">Event free survival</text>
<text x="382.00" y="298.45" font-size="5.75" fill="#222" stroke="#222"><tspan font-style="italic">P</tspan> = 0.0062</text>
<text x="450.00" y="320.90" font-size="7.0" text-anchor="middle" fill="#222" stroke="#222">Time (months)</text>
<path d="M492.30,282.34 L496.10,282.34 L494.20,279.49 Z" fill="#E2BE3C"/>
<path d="M492.30,290.74 L496.10,290.74 L494.20,287.89 Z" fill="#58AAE0"/>
<text x="500.00" y="283.20" font-size="5.85" fill="#222" stroke="#222">low</text>
<text x="500.00" y="291.60" font-size="5.85" fill="#222" stroke="#222">high</text>
<polyline points="384.30,181.50 431.40,181.50 431.40,190.10 435.60,190.10 435.60,198.30 446.60,198.30 446.60,206.60 451.10,206.60 451.10,215.10 514.90,215.10" fill="none" stroke="#E2BE3C" stroke-width="1.0" stroke-linejoin="miter"/>
<path d="M477.30,215.10 L478.40,213.30 L479.50,215.10 Z" fill="#E2BE3C"/>
<path d="M489.40,215.10 L490.50,213.30 L491.60,215.10 Z" fill="#E2BE3C"/>
<path d="M490.90,215.10 L492.00,213.30 L493.10,215.10 Z" fill="#E2BE3C"/>
<path d="M495.10,215.10 L496.20,213.30 L497.30,215.10 Z" fill="#E2BE3C"/>
<polyline points="384.30,181.50 388.20,181.50 388.20,187.60 389.30,187.60 389.30,194.20 398.40,194.20 398.40,200.80 399.60,200.80 399.60,207.30 412.30,207.30 412.30,220.50 426.10,220.50 426.10,227.30 439.00,227.30 439.00,233.60 440.10,233.60 440.10,240.30 444.30,240.30 444.30,246.60 452.10,246.60 452.10,253.40 461.60,253.40 461.60,260.00 466.40,260.00 466.40,266.60 514.90,266.60" fill="none" stroke="#58AAE0" stroke-width="1.0" stroke-linejoin="miter"/>
<path d="M478.80,266.60 L479.90,264.80 L481.00,266.60 Z" fill="#58AAE0"/>
<path d="M486.30,266.60 L487.40,264.80 L488.50,266.60 Z" fill="#58AAE0"/>
<text x="523.50" y="175.60" font-size="9.5" font-weight="bold" fill="#111">i</text>
<line x1="546.60" y1="175.50" x2="546.60" y2="304.00" stroke="#A8A8A8" stroke-width="0.9"/>
<line x1="546.15" y1="304.00" x2="683.60" y2="304.00" stroke="#A8A8A8" stroke-width="0.9"/>
<line x1="545.30" y1="181.10" x2="546.60" y2="181.10" stroke="#888" stroke-width="0.6"/>
<text x="543.80" y="183.20" font-size="5.85" text-anchor="end" fill="#333" stroke="#333">100%</text>
<line x1="545.30" y1="210.35" x2="546.60" y2="210.35" stroke="#888" stroke-width="0.6"/>
<text x="543.80" y="212.45" font-size="5.85" text-anchor="end" fill="#333" stroke="#333">75%</text>
<line x1="545.30" y1="239.60" x2="546.60" y2="239.60" stroke="#888" stroke-width="0.6"/>
<text x="543.80" y="241.70" font-size="5.85" text-anchor="end" fill="#333" stroke="#333">50%</text>
<line x1="545.30" y1="268.85" x2="546.60" y2="268.85" stroke="#888" stroke-width="0.6"/>
<text x="543.80" y="270.95" font-size="5.85" text-anchor="end" fill="#333" stroke="#333">25%</text>
<line x1="545.30" y1="298.10" x2="546.60" y2="298.10" stroke="#888" stroke-width="0.6"/>
<text x="543.80" y="300.20" font-size="5.85" text-anchor="end" fill="#333" stroke="#333">0</text>
<line x1="553.20" y1="304.00" x2="553.20" y2="305.30" stroke="#888" stroke-width="0.6"/>
<text x="553.20" y="311.50" font-size="5.85" text-anchor="middle" fill="#333" stroke="#333">0</text>
<line x1="578.05" y1="304.00" x2="578.05" y2="305.30" stroke="#888" stroke-width="0.6"/>
<text x="578.05" y="311.50" font-size="5.85" text-anchor="middle" fill="#333" stroke="#333">6</text>
<line x1="602.90" y1="304.00" x2="602.90" y2="305.30" stroke="#888" stroke-width="0.6"/>
<text x="602.90" y="311.50" font-size="5.85" text-anchor="middle" fill="#333" stroke="#333">12</text>
<line x1="627.76" y1="304.00" x2="627.76" y2="305.30" stroke="#888" stroke-width="0.6"/>
<text x="627.76" y="311.50" font-size="5.85" text-anchor="middle" fill="#333" stroke="#333">18</text>
<line x1="652.61" y1="304.00" x2="652.61" y2="305.30" stroke="#888" stroke-width="0.6"/>
<text x="652.61" y="311.50" font-size="5.85" text-anchor="middle" fill="#333" stroke="#333">24</text>
<line x1="677.46" y1="304.00" x2="677.46" y2="305.30" stroke="#888" stroke-width="0.6"/>
<text x="677.46" y="311.50" font-size="5.85" text-anchor="middle" fill="#333" stroke="#333">30</text>
<text x="542.70" y="175.95" font-size="6.9" font-weight="bold" fill="#111">PRSS8-IMpower133-immunochemotherapy</text>
<text x="526.00" y="241.00" font-size="7.0" text-anchor="middle" fill="#222" stroke="#222" transform="rotate(-90 526.00 241.00)" dominant-baseline="central">Overall survival</text>
<text x="553.00" y="298.05" font-size="5.75" fill="#222" stroke="#222"><tspan font-style="italic">P</tspan> = 0.018</text>
<text x="618.40" y="322.00" font-size="7.0" text-anchor="middle" fill="#222" stroke="#222">Time (months)</text>
<path d="M657.20,287.84 L661.00,287.84 L659.10,284.99 Z" fill="#E2BE3C"/>
<path d="M657.20,296.14 L661.00,296.14 L659.10,293.29 Z" fill="#58AAE0"/>
<text x="663.80" y="288.70" font-size="5.85" fill="#222" stroke="#222">low</text>
<text x="663.80" y="297.00" font-size="5.85" fill="#222" stroke="#222">high</text>
<polyline points="553.20,181.10 554.90,181.10 554.90,182.23 556.60,182.23 556.60,182.78 558.30,182.78 558.30,183.25 560.00,183.25 560.00,183.50 561.70,183.50 561.70,183.76 563.40,183.76 563.40,184.05 565.10,184.05 565.10,184.34 566.80,184.34 566.80,184.69 568.50,184.69 568.50,185.08 570.20,185.08 570.20,185.64 571.90,185.64 571.90,186.26 573.60,186.26 573.60,187.66 575.30,187.66 575.30,190.17 577.00,190.17 577.00,194.00 578.70,194.00 578.70,199.67 580.40,199.67 580.40,205.60 582.10,205.60 582.10,210.20 583.80,210.20 583.80,212.63 585.50,212.63 585.50,215.25 587.20,215.25 587.20,218.40 588.90,218.40 588.90,221.13 590.60,221.13 590.60,223.55 592.30,223.55 592.30,226.30 594.00,226.30 594.00,228.00 595.70,228.00 595.70,229.70 597.40,229.70 597.40,232.10 599.10,232.10 599.10,234.38 600.80,234.38 600.80,236.90 602.50,236.90 602.50,240.00 604.20,240.00 604.20,243.27 605.90,243.27 605.90,245.00 607.60,245.00 607.60,245.00 609.30,245.00 609.30,245.00 611.00,245.00 611.00,245.00 612.70,245.00 612.70,246.42 614.40,246.42 614.40,247.77 616.10,247.77 616.10,248.90 617.80,248.90 617.80,250.43 619.50,250.43 619.50,252.42 621.20,252.42 621.20,254.20 622.90,254.20 622.90,255.30 624.60,255.30 624.60,255.87 626.30,255.87 626.30,258.28 628.00,258.28 628.00,260.75 629.70,260.75 629.70,263.05 631.40,263.05 631.40,265.50 633.10,265.50 633.10,267.51 634.80,267.51 634.80,267.73 636.50,267.73 636.50,267.94 638.20,267.94 638.20,269.00 639.90,269.00 639.90,270.42 641.60,270.42 641.60,273.70 643.30,273.70 643.30,277.10 645.00,277.10 645.00,278.04 646.00,278.04 646.00,278.40 666.40,278.40 666.40,281.60 683.60,281.60" fill="none" stroke="#E2BE3C" stroke-width="1.0" stroke-linejoin="miter"/>
<polyline points="553.20,181.10 553.90,181.10 553.90,186.60 559.30,186.60 559.30,193.00 563.70,193.00 563.70,199.30 568.80,199.30 568.80,205.10 577.00,205.10 577.00,211.40 579.50,211.40 579.50,224.10 588.50,224.10 588.50,230.70 590.80,230.70 590.80,237.30 593.00,237.30 593.00,244.50 593.60,244.50 593.60,250.80 596.80,250.80 596.80,257.60 597.60,257.60 597.60,264.30 612.70,264.30 612.70,271.20 622.80,271.20 622.80,278.20 624.50,278.20 624.50,284.70 633.50,284.70 633.50,291.20 643.60,291.20 643.60,298.20" fill="none" stroke="#58AAE0" stroke-width="1.0" stroke-linejoin="miter"/>
<text x="386.80" y="344.60" font-size="9.5" font-weight="bold" fill="#111">j</text>
<defs><linearGradient id="g1" gradientUnits="userSpaceOnUse" x1="408.5" y1="0" x2="530.7" y2="0"><stop offset="0" stop-color="#8FA050"/><stop offset="0.06" stop-color="#D85A45"/><stop offset="0.12" stop-color="#E14A42"/><stop offset="0.45" stop-color="#E0483F"/><stop offset="0.6" stop-color="#B0784A"/><stop offset="0.68" stop-color="#7FA860"/><stop offset="1" stop-color="#62B46E"/></linearGradient><linearGradient id="r1" gradientUnits="userSpaceOnUse" x1="408.5" y1="0" x2="468.5" y2="0"><stop offset="0" stop-color="#B8231F"/><stop offset="0.5" stop-color="#DC8A80"/><stop offset="1" stop-color="#FBF0EE"/></linearGradient><linearGradient id="b1" gradientUnits="userSpaceOnUse" x1="480.0" y1="0" x2="530.7" y2="0"><stop offset="0" stop-color="#F4F6FB"/><stop offset="0.5" stop-color="#8EA3CF"/><stop offset="1" stop-color="#2850A0"/></linearGradient></defs>
<rect x="408.50" y="358.40" width="122.20" height="57.10" fill="#fff" stroke="#7A7A7A" stroke-width="0.8"/>
<line x1="408.50" y1="404.30" x2="530.70" y2="404.30" stroke="#444" stroke-width="0.9" stroke-dasharray="3.2,1.8"/>
<polyline points="408.50,404.50 409.20,403.00 410.50,399.00 411.50,394.00 412.10,392.00 413.00,389.00 414.30,386.00 416.00,383.00 418.00,381.00 420.00,379.50 421.00,380.00 422.30,377.00 424.00,376.50 425.00,377.00 426.70,371.00 428.50,372.00 430.40,370.00 432.00,368.00 433.00,369.00 434.70,365.00 436.00,366.00 437.00,363.50 438.40,362.00 440.00,361.50 442.80,361.10 445.00,361.80 447.90,363.50 450.00,366.00 453.00,369.00 456.00,372.50 460.30,378.00 464.80,382.00 467.60,385.00 470.00,387.00 473.40,391.50 476.00,393.50 479.30,397.50 484.00,400.00 488.80,404.30 493.60,408.00 497.20,411.00 499.00,412.50 500.80,412.30 503.00,411.00 505.60,409.50 509.20,408.50 512.00,409.50 514.00,410.00 517.70,408.00 520.00,404.00 523.70,404.00 525.50,403.00 527.30,401.50 529.00,403.00 530.30,404.00" fill="none" stroke="url(#g1)" stroke-width="0.85" stroke-linejoin="round"/>
<line x1="406.70" y1="359.20" x2="408.50" y2="359.20" stroke="#555" stroke-width="0.6"/>
<text x="408.20" y="361.40" font-size="6.2" text-anchor="end" fill="#333" stroke="#333">0.3</text>
<line x1="406.70" y1="374.20" x2="408.50" y2="374.20" stroke="#555" stroke-width="0.6"/>
<text x="408.20" y="376.40" font-size="6.2" text-anchor="end" fill="#333" stroke="#333">0.2</text>
<line x1="406.70" y1="389.30" x2="408.50" y2="389.30" stroke="#555" stroke-width="0.6"/>
<text x="408.20" y="391.50" font-size="6.2" text-anchor="end" fill="#333" stroke="#333">0.1</text>
<line x1="406.70" y1="404.30" x2="408.50" y2="404.30" stroke="#555" stroke-width="0.6"/>
<text x="408.20" y="406.50" font-size="6.2" text-anchor="end" fill="#333" stroke="#333">0.0</text>
<text x="473.00" y="351.60" font-size="6.3" text-anchor="middle" font-weight="bold" fill="#111">Estrogen Response Early</text>
<text x="392.50" y="390.70" font-size="5.8" text-anchor="middle" fill="#333" stroke="#333" transform="rotate(-90 392.50 390.70)" dominant-baseline="central" textLength="69.5" lengthAdjust="spacingAndGlyphs">Running Enrichment Score</text>
<text x="465.00" y="366.70" font-size="5.8" font-style="italic" fill="#222" stroke="#222">NES: 1.65</text>
<text x="465.00" y="373.10" font-size="5.8" font-style="italic" fill="#222" stroke="#222">Pvalue: &lt; 0.001</text>
<text x="465.00" y="379.30" font-size="5.8" font-style="italic" fill="#222" stroke="#222">Adjusted Pvalue: &lt; 0.001</text>
<rect x="408.50" y="417.20" width="1.20" height="16.20" fill="rgb(0,0,0)"/><rect x="409.70" y="417.20" width="1.50" height="16.20" fill="rgb(4,4,4)"/><rect x="411.20" y="417.20" width="1.50" height="16.20" fill="rgb(34,34,34)"/><rect x="412.70" y="417.20" width="0.60" height="16.20" fill="rgb(0,0,0)"/><rect x="413.30" y="417.20" width="0.60" height="16.20" fill="rgb(44,44,44)"/><rect x="413.90" y="417.20" width="1.20" height="16.20" fill="rgb(49,49,49)"/><rect x="415.10" y="417.20" width="0.80" height="16.20" fill="rgb(5,5,5)"/><rect x="415.90" y="417.20" width="1.50" height="16.20" fill="rgb(0,0,0)"/><rect x="418.00" y="417.20" width="1.20" height="16.20" fill="rgb(70,70,70)"/><rect x="419.20" y="417.20" width="1.50" height="16.20" fill="rgb(78,78,78)"/><rect x="420.70" y="417.20" width="1.20" height="16.20" fill="rgb(20,20,20)"/><rect x="422.50" y="417.20" width="1.00" height="16.20" fill="rgb(64,64,64)"/><rect x="423.50" y="417.20" width="0.60" height="16.20" fill="rgb(0,0,0)"/><rect x="424.10" y="417.20" width="1.00" height="16.20" fill="rgb(44,44,44)"/><rect x="425.10" y="417.20" width="1.50" height="16.20" fill="rgb(61,61,61)"/><rect x="426.60" y="417.20" width="1.20" height="16.20" fill="rgb(69,69,69)"/><rect x="427.80" y="417.20" width="0.60" height="16.20" fill="rgb(66,66,66)"/><rect x="428.40" y="417.20" width="0.60" height="16.20" fill="rgb(40,40,40)"/><rect x="429.00" y="417.20" width="1.20" height="16.20" fill="rgb(38,38,38)"/><rect x="430.20" y="417.20" width="1.20" height="16.20" fill="rgb(25,25,25)"/><rect x="431.40" y="417.20" width="1.00" height="16.20" fill="rgb(11,11,11)"/><rect x="432.40" y="417.20" width="1.00" height="16.20" fill="rgb(21,21,21)"/><rect x="433.40" y="417.20" width="0.60" height="16.20" fill="rgb(79,79,79)"/><rect x="435.80" y="417.20" width="0.80" height="16.20" fill="rgb(18,18,18)"/><rect x="436.60" y="417.20" width="0.80" height="16.20" fill="rgb(43,43,43)"/><rect x="437.40" y="417.20" width="1.20" height="16.20" fill="rgb(63,63,63)"/><rect x="439.80" y="417.20" width="1.50" height="16.20" fill="rgb(89,89,89)"/><rect x="441.30" y="417.20" width="0.60" height="16.20" fill="rgb(30,30,30)"/><rect x="441.90" y="417.20" width="1.50" height="16.20" fill="rgb(0,0,0)"/><rect x="444.20" y="417.20" width="1.00" height="16.20" fill="rgb(66,66,66)"/><rect x="446.70" y="417.20" width="0.60" height="16.20" fill="rgb(26,26,26)"/><rect x="447.30" y="417.20" width="0.80" height="16.20" fill="rgb(41,41,41)"/><rect x="449.10" y="417.20" width="1.20" height="16.20" fill="rgb(0,0,0)"/><rect x="460.60" y="417.20" width="1.00" height="16.20" fill="rgb(99,99,99)"/><rect x="464.30" y="417.20" width="0.60" height="16.20" fill="rgb(0,0,0)"/><rect x="466.10" y="417.20" width="1.50" height="16.20" fill="rgb(58,58,58)"/><rect x="471.20" y="417.20" width="1.50" height="16.20" fill="rgb(79,79,79)"/><rect x="472.70" y="417.20" width="0.80" height="16.20" fill="rgb(65,65,65)"/><rect x="473.50" y="417.20" width="1.00" height="16.20" fill="rgb(77,77,77)"/><rect x="474.50" y="417.20" width="1.50" height="16.20" fill="rgb(80,80,80)"/><rect x="476.00" y="417.20" width="0.60" height="16.20" fill="rgb(64,64,64)"/><rect x="476.60" y="417.20" width="1.00" height="16.20" fill="rgb(65,65,65)"/><rect x="477.60" y="417.20" width="0.60" height="16.20" fill="rgb(65,65,65)"/><rect x="478.20" y="417.20" width="1.00" height="16.20" fill="rgb(48,48,48)"/><rect x="479.20" y="417.20" width="1.50" height="16.20" fill="rgb(63,63,63)"/><rect x="480.70" y="417.20" width="0.60" height="16.20" fill="rgb(49,49,49)"/><rect x="481.30" y="417.20" width="1.00" height="16.20" fill="rgb(45,45,45)"/><rect x="482.30" y="417.20" width="1.20" height="16.20" fill="rgb(0,0,0)"/><rect x="483.50" y="417.20" width="0.60" height="16.20" fill="rgb(75,75,75)"/><rect x="484.10" y="417.20" width="1.50" height="16.20" fill="rgb(23,23,23)"/><rect x="486.80" y="417.20" width="0.60" height="16.20" fill="rgb(63,63,63)"/><rect x="487.40" y="417.20" width="1.00" height="16.20" fill="rgb(51,51,51)"/><rect x="488.40" y="417.20" width="1.50" height="16.20" fill="rgb(45,45,45)"/><rect x="489.90" y="417.20" width="1.20" height="16.20" fill="rgb(15,15,15)"/><rect x="491.10" y="417.20" width="0.60" height="16.20" fill="rgb(100,100,100)"/><rect x="491.70" y="417.20" width="0.60" height="16.20" fill="rgb(79,79,79)"/><rect x="492.30" y="417.20" width="1.20" height="16.20" fill="rgb(56,56,56)"/><rect x="493.50" y="417.20" width="1.20" height="16.20" fill="rgb(103,103,103)"/><rect x="495.30" y="417.20" width="1.50" height="16.20" fill="rgb(79,79,79)"/><rect x="497.80" y="417.20" width="1.20" height="16.20" fill="rgb(87,87,87)"/><rect x="499.00" y="417.20" width="1.00" height="16.20" fill="rgb(51,51,51)"/><rect x="500.00" y="417.20" width="1.20" height="16.20" fill="rgb(35,35,35)"/><rect x="501.20" y="417.20" width="0.80" height="16.20" fill="rgb(20,20,20)"/><rect x="502.00" y="417.20" width="1.50" height="16.20" fill="rgb(9,9,9)"/><rect x="503.50" y="417.20" width="1.00" height="16.20" fill="rgb(22,22,22)"/><rect x="504.50" y="417.20" width="0.60" height="16.20" fill="rgb(27,27,27)"/><rect x="505.10" y="417.20" width="0.80" height="16.20" fill="rgb(31,31,31)"/><rect x="505.90" y="417.20" width="1.20" height="16.20" fill="rgb(16,16,16)"/><rect x="507.10" y="417.20" width="1.50" height="16.20" fill="rgb(23,23,23)"/><rect x="508.60" y="417.20" width="1.00" height="16.20" fill="rgb(35,35,35)"/><rect x="509.60" y="417.20" width="1.00" height="16.20" fill="rgb(31,31,31)"/><rect x="511.20" y="417.20" width="1.50" height="16.20" fill="rgb(84,84,84)"/><rect x="513.70" y="417.20" width="0.60" height="16.20" fill="rgb(100,100,100)"/><rect x="514.30" y="417.20" width="1.20" height="16.20" fill="rgb(169,169,169)"/><rect x="515.50" y="417.20" width="0.80" height="16.20" fill="rgb(175,175,175)"/><rect x="516.30" y="417.20" width="0.60" height="16.20" fill="rgb(128,128,128)"/><rect x="516.90" y="417.20" width="1.50" height="16.20" fill="rgb(130,130,130)"/><rect x="518.40" y="417.20" width="1.00" height="16.20" fill="rgb(129,129,129)"/><rect x="519.40" y="417.20" width="1.20" height="16.20" fill="rgb(111,111,111)"/><rect x="520.60" y="417.20" width="0.60" height="16.20" fill="rgb(21,21,21)"/><rect x="521.20" y="417.20" width="0.80" height="16.20" fill="rgb(32,32,32)"/><rect x="522.00" y="417.20" width="1.00" height="16.20" fill="rgb(38,38,38)"/><rect x="523.00" y="417.20" width="0.80" height="16.20" fill="rgb(73,73,73)"/><rect x="523.80" y="417.20" width="0.80" height="16.20" fill="rgb(28,28,28)"/><rect x="527.60" y="417.20" width="1.00" height="16.20" fill="rgb(0,0,0)"/><rect x="528.60" y="417.20" width="0.80" height="16.20" fill="rgb(14,14,14)"/>
<rect x="408.50" y="433.40" width="2.00" height="6.60" fill="#A41C22"/>
<rect x="410.50" y="433.40" width="17.50" height="6.60" fill="#B34A55"/>
<rect x="428.00" y="433.40" width="18.00" height="6.60" fill="#C7707C"/>
<rect x="446.00" y="433.40" width="14.00" height="6.60" fill="#E2B4BC"/>
<rect x="460.00" y="433.40" width="29.00" height="6.60" fill="#EEDDE0"/>
<rect x="489.00" y="433.40" width="11.00" height="6.60" fill="#DCE3EE"/>
<rect x="500.00" y="433.40" width="11.00" height="6.60" fill="#9DB0CB"/>
<rect x="511.00" y="433.40" width="10.00" height="6.60" fill="#7B9AC4"/>
<rect x="521.00" y="433.40" width="9.70" height="6.60" fill="#5E8AC2"/>
<rect x="408.50" y="441.40" width="122.20" height="34.80" fill="none" stroke="#BDBDBD" stroke-width="1.0"/>
<polygon points="408.50,459.10 408.50,443.30 415.00,445.60 425.00,449.20 435.00,452.60 445.00,456.00 452.00,457.50 460.00,458.20 467.00,459.10" fill="url(#r1)"/>
<polygon points="480.00,459.1 530.70,459.1 530.70,475.8" fill="url(#b1)"/>
<line x1="408.50" y1="459.10" x2="530.70" y2="459.10" stroke="#555" stroke-width="0.9" stroke-dasharray="3.2,1.8"/>
<rect x="408.50" y="441.40" width="122.20" height="34.80" fill="none" stroke="#9A9A9A" stroke-width="0.6"/>
<line x1="406.70" y1="441.60" x2="408.50" y2="441.60" stroke="#555" stroke-width="0.6"/>
<text x="408.20" y="443.80" font-size="6.2" text-anchor="end" fill="#333" stroke="#333">1.0</text>
<line x1="406.70" y1="450.30" x2="408.50" y2="450.30" stroke="#555" stroke-width="0.6"/>
<text x="408.20" y="452.50" font-size="6.2" text-anchor="end" fill="#333" stroke="#333">0.5</text>
<line x1="406.70" y1="459.10" x2="408.50" y2="459.10" stroke="#555" stroke-width="0.6"/>
<text x="408.20" y="461.30" font-size="6.2" text-anchor="end" fill="#333" stroke="#333">0.0</text>
<line x1="406.70" y1="467.60" x2="408.50" y2="467.60" stroke="#555" stroke-width="0.6"/>
<text x="408.20" y="469.80" font-size="6.2" text-anchor="end" fill="#333" stroke="#333">−0.5</text>
<text x="392.50" y="459.30" font-size="5.8" text-anchor="middle" fill="#333" stroke="#333" transform="rotate(-90 392.50 459.30)" dominant-baseline="central" textLength="29.5" lengthAdjust="spacingAndGlyphs">Ranked List</text>
<line x1="441.10" y1="476.20" x2="441.10" y2="478.00" stroke="#555" stroke-width="0.6"/>
<text x="441.10" y="482.60" font-size="5.9" text-anchor="middle" fill="#333" stroke="#333">5000</text>
<line x1="472.80" y1="476.20" x2="472.80" y2="478.00" stroke="#555" stroke-width="0.6"/>
<text x="472.80" y="482.60" font-size="5.9" text-anchor="middle" fill="#333" stroke="#333">10000</text>
<line x1="504.50" y1="476.20" x2="504.50" y2="478.00" stroke="#555" stroke-width="0.6"/>
<text x="504.50" y="482.60" font-size="5.9" text-anchor="middle" fill="#333" stroke="#333">15000</text>
<text x="478.50" y="491.00" font-size="6.3" text-anchor="middle" fill="#222" stroke="#222">Rank in Ordered Dataset</text>
<defs><linearGradient id="g2" gradientUnits="userSpaceOnUse" x1="559.4" y1="0" x2="681.9" y2="0"><stop offset="0" stop-color="#8FA050"/><stop offset="0.06" stop-color="#D85A45"/><stop offset="0.12" stop-color="#E14A42"/><stop offset="0.45" stop-color="#E0483F"/><stop offset="0.6" stop-color="#B0784A"/><stop offset="0.68" stop-color="#7FA860"/><stop offset="1" stop-color="#62B46E"/></linearGradient><linearGradient id="r2" gradientUnits="userSpaceOnUse" x1="559.4" y1="0" x2="619.4" y2="0"><stop offset="0" stop-color="#B8231F"/><stop offset="0.5" stop-color="#DC8A80"/><stop offset="1" stop-color="#FBF0EE"/></linearGradient><linearGradient id="b2" gradientUnits="userSpaceOnUse" x1="627.0" y1="0" x2="681.9" y2="0"><stop offset="0" stop-color="#F4F6FB"/><stop offset="0.5" stop-color="#8EA3CF"/><stop offset="1" stop-color="#2850A0"/></linearGradient></defs>
<rect x="559.40" y="358.40" width="122.50" height="57.10" fill="#fff" stroke="#7A7A7A" stroke-width="0.8"/>
<line x1="559.40" y1="399.80" x2="681.90" y2="399.80" stroke="#444" stroke-width="0.9" stroke-dasharray="3.2,1.8"/>
<polyline points="559.40,399.80 561.20,396.00 563.00,395.00 564.80,393.00 566.00,389.00 567.50,386.00 569.60,383.00 571.00,379.00 572.60,376.00 574.40,375.00 576.00,371.00 578.00,367.00 580.00,367.50 582.90,369.00 585.30,366.00 587.70,368.00 590.00,361.00 592.50,362.00 594.90,361.00 597.00,362.00 599.70,364.00 602.00,366.00 604.50,369.00 607.00,372.50 609.80,376.00 613.00,379.50 617.00,383.00 620.00,386.50 623.00,390.00 626.00,393.00 629.00,396.00 632.00,398.50 636.20,400.50 640.00,403.00 643.40,405.00 646.00,406.50 649.40,408.00 652.00,409.50 654.20,410.00 657.00,409.00 659.00,409.00 661.00,410.00 663.90,410.00 666.00,411.00 668.70,412.00 670.00,410.50 672.30,408.00 674.50,406.00 676.50,404.00 677.70,398.00 678.90,398.50 680.00,399.50 681.30,400.00" fill="none" stroke="url(#g2)" stroke-width="0.85" stroke-linejoin="round"/>
<line x1="557.60" y1="369.80" x2="559.40" y2="369.80" stroke="#555" stroke-width="0.6"/>
<text x="559.10" y="372.00" font-size="6.2" text-anchor="end" fill="#333" stroke="#333">0.2</text>
<line x1="557.60" y1="384.80" x2="559.40" y2="384.80" stroke="#555" stroke-width="0.6"/>
<text x="559.10" y="387.00" font-size="6.2" text-anchor="end" fill="#333" stroke="#333">0.1</text>
<line x1="557.60" y1="399.80" x2="559.40" y2="399.80" stroke="#555" stroke-width="0.6"/>
<text x="559.10" y="402.00" font-size="6.2" text-anchor="end" fill="#333" stroke="#333">0.0</text>
<line x1="557.60" y1="414.70" x2="559.40" y2="414.70" stroke="#555" stroke-width="0.6"/>
<text x="559.10" y="416.90" font-size="6.2" text-anchor="end" fill="#333" stroke="#333">−0.1</text>
<text x="621.30" y="351.60" font-size="6.3" text-anchor="middle" font-weight="bold" fill="#111">Estrogen Response Late</text>
<text x="542.60" y="387.40" font-size="5.8" text-anchor="middle" fill="#333" stroke="#333" transform="rotate(-90 542.60 387.40)" dominant-baseline="central" textLength="69.5" lengthAdjust="spacingAndGlyphs">Running Enrichment Score</text>
<text x="622.40" y="365.50" font-size="5.8" font-style="italic" fill="#222" stroke="#222">NES: 1.48</text>
<text x="622.40" y="372.10" font-size="5.8" font-style="italic" fill="#222" stroke="#222">Pvalue: 0</text>
<text x="622.40" y="379.10" font-size="5.8" font-style="italic" fill="#222" stroke="#222">Adjusted Pvalue: 0.01</text>
<rect x="559.40" y="417.20" width="0.60" height="16.20" fill="rgb(105,105,105)"/><rect x="561.00" y="417.20" width="1.50" height="16.20" fill="rgb(11,11,11)"/><rect x="562.50" y="417.20" width="0.60" height="16.20" fill="rgb(30,30,30)"/><rect x="563.10" y="417.20" width="1.20" height="16.20" fill="rgb(7,7,7)"/><rect x="564.30" y="417.20" width="1.20" height="16.20" fill="rgb(112,112,112)"/><rect x="565.50" y="417.20" width="1.50" height="16.20" fill="rgb(95,95,95)"/><rect x="567.00" y="417.20" width="0.80" height="16.20" fill="rgb(0,0,0)"/><rect x="567.80" y="417.20" width="1.50" height="16.20" fill="rgb(60,60,60)"/><rect x="569.30" y="417.20" width="1.00" height="16.20" fill="rgb(46,46,46)"/><rect x="570.30" y="417.20" width="1.00" height="16.20" fill="rgb(56,56,56)"/><rect x="571.30" y="417.20" width="1.50" height="16.20" fill="rgb(16,16,16)"/><rect x="575.20" y="417.20" width="1.20" height="16.20" fill="rgb(128,128,128)"/><rect x="576.40" y="417.20" width="1.50" height="16.20" fill="rgb(67,67,67)"/><rect x="577.90" y="417.20" width="1.50" height="16.20" fill="rgb(88,88,88)"/><rect x="579.40" y="417.20" width="0.60" height="16.20" fill="rgb(47,47,47)"/><rect x="580.00" y="417.20" width="1.50" height="16.20" fill="rgb(45,45,45)"/><rect x="581.50" y="417.20" width="1.00" height="16.20" fill="rgb(20,20,20)"/><rect x="582.50" y="417.20" width="1.20" height="16.20" fill="rgb(25,25,25)"/><rect x="583.70" y="417.20" width="0.60" height="16.20" fill="rgb(34,34,34)"/><rect x="584.30" y="417.20" width="1.20" height="16.20" fill="rgb(51,51,51)"/><rect x="585.50" y="417.20" width="1.50" height="16.20" fill="rgb(0,0,0)"/><rect x="590.00" y="417.20" width="0.80" height="16.20" fill="rgb(12,12,12)"/><rect x="590.80" y="417.20" width="0.60" height="16.20" fill="rgb(0,0,0)"/><rect x="591.40" y="417.20" width="1.20" height="16.20" fill="rgb(0,0,0)"/><rect x="592.60" y="417.20" width="1.20" height="16.20" fill="rgb(0,0,0)"/><rect x="593.80" y="417.20" width="0.60" height="16.20" fill="rgb(112,112,112)"/><rect x="595.60" y="417.20" width="1.00" height="16.20" fill="rgb(36,36,36)"/><rect x="596.60" y="417.20" width="0.60" height="16.20" fill="rgb(0,0,0)"/><rect x="597.20" y="417.20" width="1.50" height="16.20" fill="rgb(3,3,3)"/><rect x="598.70" y="417.20" width="1.00" height="16.20" fill="rgb(0,0,0)"/><rect x="600.50" y="417.20" width="1.20" height="16.20" fill="rgb(4,4,4)"/><rect x="601.70" y="417.20" width="1.50" height="16.20" fill="rgb(45,45,45)"/><rect x="609.90" y="417.20" width="0.80" height="16.20" fill="rgb(0,0,0)"/><rect x="611.30" y="417.20" width="1.50" height="16.20" fill="rgb(17,17,17)"/><rect x="614.30" y="417.20" width="1.00" height="16.20" fill="rgb(81,81,81)"/><rect x="617.30" y="417.20" width="1.20" height="16.20" fill="rgb(0,0,0)"/><rect x="618.50" y="417.20" width="1.20" height="16.20" fill="rgb(34,34,34)"/><rect x="619.70" y="417.20" width="0.60" height="16.20" fill="rgb(22,22,22)"/><rect x="620.30" y="417.20" width="1.50" height="16.20" fill="rgb(35,35,35)"/><rect x="621.80" y="417.20" width="0.80" height="16.20" fill="rgb(98,98,98)"/><rect x="622.60" y="417.20" width="0.60" height="16.20" fill="rgb(19,19,19)"/><rect x="623.20" y="417.20" width="0.60" height="16.20" fill="rgb(126,126,126)"/><rect x="623.80" y="417.20" width="1.20" height="16.20" fill="rgb(0,0,0)"/><rect x="625.00" y="417.20" width="1.00" height="16.20" fill="rgb(45,45,45)"/><rect x="626.00" y="417.20" width="1.00" height="16.20" fill="rgb(0,0,0)"/><rect x="627.00" y="417.20" width="1.00" height="16.20" fill="rgb(84,84,84)"/><rect x="628.60" y="417.20" width="1.50" height="16.20" fill="rgb(63,63,63)"/><rect x="630.10" y="417.20" width="1.50" height="16.20" fill="rgb(3,3,3)"/><rect x="631.60" y="417.20" width="1.00" height="16.20" fill="rgb(68,68,68)"/><rect x="632.60" y="417.20" width="0.80" height="16.20" fill="rgb(59,59,59)"/><rect x="633.40" y="417.20" width="0.60" height="16.20" fill="rgb(79,79,79)"/><rect x="634.00" y="417.20" width="1.20" height="16.20" fill="rgb(73,73,73)"/><rect x="635.80" y="417.20" width="1.50" height="16.20" fill="rgb(62,62,62)"/><rect x="637.30" y="417.20" width="0.60" height="16.20" fill="rgb(20,20,20)"/><rect x="637.90" y="417.20" width="1.50" height="16.20" fill="rgb(68,68,68)"/><rect x="640.00" y="417.20" width="1.50" height="16.20" fill="rgb(57,57,57)"/><rect x="641.50" y="417.20" width="0.60" height="16.20" fill="rgb(30,30,30)"/><rect x="642.10" y="417.20" width="1.50" height="16.20" fill="rgb(14,14,14)"/><rect x="644.20" y="417.20" width="1.50" height="16.20" fill="rgb(48,48,48)"/><rect x="645.70" y="417.20" width="1.00" height="16.20" fill="rgb(52,52,52)"/><rect x="646.70" y="417.20" width="0.60" height="16.20" fill="rgb(31,31,31)"/><rect x="647.30" y="417.20" width="1.50" height="16.20" fill="rgb(0,0,0)"/><rect x="648.80" y="417.20" width="1.00" height="16.20" fill="rgb(52,52,52)"/><rect x="651.80" y="417.20" width="1.50" height="16.20" fill="rgb(76,76,76)"/><rect x="653.30" y="417.20" width="1.00" height="16.20" fill="rgb(0,0,0)"/><rect x="654.30" y="417.20" width="0.80" height="16.20" fill="rgb(14,14,14)"/><rect x="655.10" y="417.20" width="0.80" height="16.20" fill="rgb(104,104,104)"/><rect x="655.90" y="417.20" width="1.00" height="16.20" fill="rgb(52,52,52)"/><rect x="656.90" y="417.20" width="0.80" height="16.20" fill="rgb(113,113,113)"/><rect x="657.70" y="417.20" width="1.50" height="16.20" fill="rgb(81,81,81)"/><rect x="660.20" y="417.20" width="1.20" height="16.20" fill="rgb(106,106,106)"/><rect x="661.40" y="417.20" width="0.80" height="16.20" fill="rgb(84,84,84)"/><rect x="662.20" y="417.20" width="1.00" height="16.20" fill="rgb(40,40,40)"/><rect x="664.20" y="417.20" width="0.80" height="16.20" fill="rgb(87,87,87)"/><rect x="665.00" y="417.20" width="0.60" height="16.20" fill="rgb(34,34,34)"/><rect x="665.60" y="417.20" width="1.50" height="16.20" fill="rgb(109,109,109)"/><rect x="667.10" y="417.20" width="1.20" height="16.20" fill="rgb(81,81,81)"/><rect x="668.30" y="417.20" width="1.20" height="16.20" fill="rgb(43,43,43)"/><rect x="669.50" y="417.20" width="1.20" height="16.20" fill="rgb(66,66,66)"/><rect x="670.70" y="417.20" width="0.60" height="16.20" fill="rgb(70,70,70)"/><rect x="671.30" y="417.20" width="1.00" height="16.20" fill="rgb(6,6,6)"/><rect x="672.30" y="417.20" width="0.80" height="16.20" fill="rgb(157,157,157)"/><rect x="673.10" y="417.20" width="1.50" height="16.20" fill="rgb(125,125,125)"/><rect x="674.60" y="417.20" width="0.60" height="16.20" fill="rgb(93,93,93)"/><rect x="675.20" y="417.20" width="1.00" height="16.20" fill="rgb(9,9,9)"/><rect x="676.80" y="417.20" width="1.50" height="16.20" fill="rgb(101,101,101)"/><rect x="679.10" y="417.20" width="1.00" height="16.20" fill="rgb(77,77,77)"/><rect x="680.10" y="417.20" width="1.50" height="16.20" fill="rgb(31,31,31)"/><rect x="681.60" y="417.20" width="0.30" height="16.20" fill="rgb(30,30,30)"/>
<rect x="559.40" y="433.40" width="20.60" height="6.60" fill="#B0343F"/>
<rect x="580.00" y="433.40" width="18.00" height="6.60" fill="#C06672"/>
<rect x="598.00" y="433.40" width="14.00" height="6.60" fill="#DDB3BA"/>
<rect x="612.00" y="433.40" width="15.00" height="6.60" fill="#F0E2E4"/>
<rect x="627.00" y="433.40" width="23.00" height="6.60" fill="#D3DCE7"/>
<rect x="650.00" y="433.40" width="9.00" height="6.60" fill="#A9BED8"/>
<rect x="659.00" y="433.40" width="23.00" height="6.60" fill="#6A92C8"/>
<rect x="559.40" y="441.40" width="122.50" height="34.80" fill="none" stroke="#BDBDBD" stroke-width="1.0"/>
<polygon points="559.40,459.10 559.40,443.40 566.00,445.60 576.00,449.00 586.00,452.00 596.00,455.20 603.00,457.00 611.00,457.80 622.00,459.10" fill="url(#r2)"/>
<polygon points="627.00,459.1 681.90,459.1 681.90,475.8" fill="url(#b2)"/>
<line x1="559.40" y1="459.10" x2="681.90" y2="459.10" stroke="#555" stroke-width="0.9" stroke-dasharray="3.2,1.8"/>
<rect x="559.40" y="441.40" width="122.50" height="34.80" fill="none" stroke="#9A9A9A" stroke-width="0.6"/>
<line x1="557.60" y1="441.60" x2="559.40" y2="441.60" stroke="#555" stroke-width="0.6"/>
<text x="559.10" y="443.80" font-size="6.2" text-anchor="end" fill="#333" stroke="#333">1.0</text>
<line x1="557.60" y1="450.30" x2="559.40" y2="450.30" stroke="#555" stroke-width="0.6"/>
<text x="559.10" y="452.50" font-size="6.2" text-anchor="end" fill="#333" stroke="#333">0.5</text>
<line x1="557.60" y1="459.10" x2="559.40" y2="459.10" stroke="#555" stroke-width="0.6"/>
<text x="559.10" y="461.30" font-size="6.2" text-anchor="end" fill="#333" stroke="#333">0.0</text>
<line x1="557.60" y1="467.60" x2="559.40" y2="467.60" stroke="#555" stroke-width="0.6"/>
<text x="559.10" y="469.80" font-size="6.2" text-anchor="end" fill="#333" stroke="#333">−0.5</text>
<text x="542.60" y="459.30" font-size="5.8" text-anchor="middle" fill="#333" stroke="#333" transform="rotate(-90 542.60 459.30)" dominant-baseline="central" textLength="29.5" lengthAdjust="spacingAndGlyphs">Ranked List</text>
<line x1="592.00" y1="476.20" x2="592.00" y2="478.00" stroke="#555" stroke-width="0.6"/>
<text x="592.00" y="482.60" font-size="5.9" text-anchor="middle" fill="#333" stroke="#333">5000</text>
<line x1="623.70" y1="476.20" x2="623.70" y2="478.00" stroke="#555" stroke-width="0.6"/>
<text x="623.70" y="482.60" font-size="5.9" text-anchor="middle" fill="#333" stroke="#333">10000</text>
<line x1="655.40" y1="476.20" x2="655.40" y2="478.00" stroke="#555" stroke-width="0.6"/>
<text x="655.40" y="482.60" font-size="5.9" text-anchor="middle" fill="#333" stroke="#333">15000</text>
<text x="620.40" y="491.00" font-size="6.3" text-anchor="middle" fill="#222" stroke="#222">Rank in Ordered Dataset</text>
<text x="391.80" y="516.00" font-size="9.5" font-weight="bold" fill="#111">k</text>
<line x1="410.70" y1="508.80" x2="410.70" y2="653.90" stroke="#8C8C8C" stroke-width="0.7"/>
<line x1="410.40" y1="653.60" x2="500.60" y2="653.60" stroke="#8C8C8C" stroke-width="0.7"/>
<line x1="408.90" y1="547.00" x2="410.70" y2="547.00" stroke="#8C8C8C" stroke-width="0.6"/>
<text x="408.60" y="549.10" font-size="5.9" text-anchor="end" fill="#333" stroke="#333">0.3</text>
<line x1="408.90" y1="586.80" x2="410.70" y2="586.80" stroke="#8C8C8C" stroke-width="0.6"/>
<text x="408.60" y="588.90" font-size="5.9" text-anchor="end" fill="#333" stroke="#333">0.2</text>
<line x1="408.90" y1="626.50" x2="410.70" y2="626.50" stroke="#8C8C8C" stroke-width="0.6"/>
<text x="408.60" y="628.60" font-size="5.9" text-anchor="end" fill="#333" stroke="#333">0.1</text>
<line x1="436.40" y1="653.60" x2="436.40" y2="655.40" stroke="#8C8C8C" stroke-width="0.6"/>
<line x1="479.80" y1="653.60" x2="479.80" y2="655.40" stroke="#8C8C8C" stroke-width="0.6"/>
<text x="441.40" y="663.90" font-size="6.9" text-anchor="middle" fill="#222" stroke="#222">poor-responder</text>
<text x="484.00" y="663.90" font-size="6.9" text-anchor="middle" fill="#222" stroke="#222">responder</text>
<text x="394.40" y="582.00" font-size="6.9" text-anchor="middle" fill="#222" stroke="#222" transform="rotate(-90 394.40 582.00)" dominant-baseline="central">BCR clonality</text>
<text x="422.3" y="514.9" font-size="5.78" fill="#222" stroke="#222">Wilcoxon, <tspan font-style="italic">P</tspan> = 0.012</text>
<rect x="464.50" y="546.20" width="30.20" height="44.30" fill="#fff" stroke="#E3904A" stroke-width="0.9"/>
<line x1="464.50" y1="579.10" x2="494.70" y2="579.10" stroke="#E3904A" stroke-width="0.9"/>
<line x1="479.60" y1="546.20" x2="479.60" y2="514.90" stroke="#E3904A" stroke-width="0.9"/>
<line x1="479.60" y1="590.50" x2="479.60" y2="609.80" stroke="#E3904A" stroke-width="0.9"/>
<circle cx="478.90" cy="514.90" r="1.05" fill="#D9823A"/>
<circle cx="486.40" cy="525.90" r="1.05" fill="#D9823A"/>
<circle cx="484.60" cy="552.40" r="1.05" fill="#D9823A"/>
<circle cx="471.80" cy="576.40" r="1.05" fill="#D9823A"/>
<circle cx="480.50" cy="581.60" r="1.05" fill="#D9823A"/>
<circle cx="486.00" cy="591.90" r="1.05" fill="#D9823A"/>
<circle cx="487.20" cy="590.20" r="1.05" fill="#D9823A"/>
<circle cx="480.20" cy="610.30" r="1.05" fill="#D9823A"/>
<rect x="421.50" y="624.70" width="30.00" height="14.80" fill="#fff" stroke="#3F5B61" stroke-width="0.9"/>
<line x1="421.50" y1="631.70" x2="451.50" y2="631.70" stroke="#3F5B61" stroke-width="0.9"/>
<line x1="436.40" y1="624.70" x2="436.40" y2="617.10" stroke="#3F5B61" stroke-width="0.9"/>
<line x1="436.40" y1="639.50" x2="436.40" y2="645.70" stroke="#3F5B61" stroke-width="0.9"/>
<circle cx="432.50" cy="617.10" r="1.05" fill="#3F5B61"/>
<circle cx="444.40" cy="631.70" r="1.05" fill="#3F5B61"/>
<circle cx="435.20" cy="647.10" r="1.05" fill="#3F5B61"/>
<text x="-0.20" y="346.20" font-size="9.5" font-weight="bold" fill="#111">h</text>
<text x="90.00" y="352.50" font-size="6.9" text-anchor="middle" font-weight="bold" fill="#111">No-progression</text>
<text x="282.80" y="352.60" font-size="6.9" text-anchor="middle" font-weight="bold" fill="#111">Recurrence/progression</text>
<line x1="1.20" y1="358.90" x2="184.70" y2="358.90" stroke="#5B5252" stroke-width="1.8"/>
<line x1="197.50" y1="358.90" x2="381.00" y2="358.90" stroke="#5B5252" stroke-width="1.8"/>
<defs><filter id="soft" x="-5%" y="-5%" width="110%" height="110%"><feGaussianBlur stdDeviation="0.35"/></filter><filter id="mblur" x="-10%" y="-10%" width="120%" height="120%"><feTurbulence type="fractalNoise" baseFrequency="0.35" numOctaves="2" seed="5" result="t"/><feDisplacementMap in="SourceGraphic" in2="t" scale="5" xChannelSelector="R" yChannelSelector="G" result="d"/><feGaussianBlur in="d" stdDeviation="0.8"/></filter><filter id="rough" x="-10%" y="-10%" width="120%" height="120%"><feTurbulence type="fractalNoise" baseFrequency="0.4" numOctaves="2" seed="9" result="t"/><feDisplacementMap in="SourceGraphic" in2="t" scale="4.5" xChannelSelector="R" yChannelSelector="G" result="d"/><feGaussianBlur in="d" stdDeviation="0.5"/></filter></defs>
<defs><linearGradient id="ov11" x1="0" y1="369" x2="0" y2="458.5" gradientUnits="userSpaceOnUse"><stop offset="0" stop-color="#A07050" stop-opacity="0.12"/><stop offset="0.4" stop-color="#9098C8" stop-opacity="0"/><stop offset="1" stop-color="#B8C0E0" stop-opacity="0.35"/></linearGradient></defs>
<clipPath id="k00"><rect x="1.2" y="369.0" width="89.60" height="89.50"/></clipPath>
<g clip-path="url(#k00)">
<rect x="1.20" y="369.00" width="89.60" height="89.50" fill="#F7F6F2"/>
<mask id="m000" maskUnits="userSpaceOnUse" x="-3.8" y="364.0" width="99.6" height="99.5"><path d="M8.0,364.0 C9.0,361.7 10.8,362.3 12.0,364.0 C13.2,365.7 14.0,374.0 15.0,374.0 C16.0,374.0 10.8,365.7 18.0,364.0 C25.2,362.3 50.3,362.3 58.0,364.0 C65.7,365.7 61.7,371.3 64.0,374.0 C66.3,376.7 69.3,378.2 72.0,380.0 C74.7,381.8 77.3,383.5 80.0,385.0 C82.7,386.5 85.4,388.0 88.0,389.0 C90.6,390.0 94.5,378.6 95.8,391.0 C97.1,403.4 109.5,451.4 95.8,463.5 C82.1,475.6 27.9,466.6 13.6,463.5 C-0.7,460.4 11.1,450.0 10.0,445.0 C8.9,440.0 7.2,436.8 7.1,433.5 C7.0,430.2 9.4,427.6 9.3,425.0 C9.2,422.4 7.5,420.8 6.5,418.0 C5.5,415.2 4.0,413.3 3.6,408.0 C3.2,402.7 3.9,391.0 4.3,386.0 C4.7,381.0 5.4,381.7 6.0,378.0 C6.6,374.3 7.0,366.3 8.0,364.0 Z" fill="#fff" filter="url(#mblur)"/></mask>
<g mask="url(#m000)">
<rect x="1.20" y="369.00" width="89.60" height="89.50" fill="#000" filter="url(#f000)"/>
<rect x="1.20" y="369.00" width="89.60" height="89.50" fill="url(#ov11)"/>
</g>
</g>
<rect x="1.20" y="369.00" width="89.60" height="89.50" fill="none" stroke="#4A4444" stroke-width="0.8"/>
<rect x="67.00" y="415.00" width="11.70" height="11.60" fill="none" stroke="#222" stroke-width="0.6" stroke-dasharray="0.9,0.9"/>
<line x1="78.70" y1="415.00" x2="95.00" y2="369.00" stroke="#222" stroke-width="0.6" stroke-dasharray="0.9,0.9"/>
<line x1="78.70" y1="426.60" x2="95.00" y2="458.50" stroke="#222" stroke-width="0.6" stroke-dasharray="0.9,0.9"/>
<clipPath id="k10"><rect x="95.0" y="369.0" width="89.70" height="89.50"/></clipPath>
<g clip-path="url(#k10)">
<rect x="95.00" y="369.00" width="89.70" height="89.50" fill="#F7F6F2"/>
<rect x="95.00" y="369.00" width="89.70" height="89.50" fill="#000" filter="url(#f100)"/>
<g filter="url(#soft)"><ellipse cx="147.5" cy="385.2" rx="2.8" ry="2.2" transform="rotate(84 147.5 385.2)" fill="#56649A" fill-opacity="0.82"/><ellipse cx="149.4" cy="452.8" rx="2.2" ry="2.1" transform="rotate(59 149.4 452.8)" fill="#7080A8" fill-opacity="0.73"/><ellipse cx="111.1" cy="375.3" rx="2.5" ry="1.7" transform="rotate(85 111.1 375.3)" fill="#4E5C90" fill-opacity="0.77"/><ellipse cx="167.1" cy="406.5" rx="1.7" ry="1.8" transform="rotate(38 167.1 406.5)" fill="#56649A" fill-opacity="0.88"/><ellipse cx="156.7" cy="429.2" rx="2.7" ry="1.7" transform="rotate(68 156.7 429.2)" fill="#7080A8" fill-opacity="0.74"/><ellipse cx="162.8" cy="406.1" rx="2.6" ry="1.5" transform="rotate(17 162.8 406.1)" fill="#7A6A78" fill-opacity="0.72"/><ellipse cx="159.0" cy="367.9" rx="2.3" ry="1.5" transform="rotate(6 159.0 367.9)" fill="#6674A8" fill-opacity="0.78"/><ellipse cx="164.5" cy="404.8" rx="2.8" ry="2.1" transform="rotate(161 164.5 404.8)" fill="#8A7A8A" fill-opacity="0.82"/><ellipse cx="139.7" cy="448.9" rx="2.0" ry="2.2" transform="rotate(124 139.7 448.9)" fill="#56649A" fill-opacity="0.89"/><ellipse cx="182.4" cy="373.2" rx="2.3" ry="1.8" transform="rotate(126 182.4 373.2)" fill="#7080A8" fill-opacity="0.89"/><ellipse cx="104.1" cy="433.0" rx="2.5" ry="2.1" transform="rotate(143 104.1 433.0)" fill="#6674A8" fill-opacity="0.86"/><ellipse cx="179.6" cy="385.8" rx="2.7" ry="1.8" transform="rotate(176 179.6 385.8)" fill="#6674A8" fill-opacity="0.74"/><ellipse cx="107.1" cy="396.2" rx="2.1" ry="1.4" transform="rotate(99 107.1 396.2)" fill="#4E5C90" fill-opacity="0.81"/><ellipse cx="111.0" cy="430.5" rx="2.0" ry="1.6" transform="rotate(28 111.0 430.5)" fill="#7080A8" fill-opacity="0.76"/><ellipse cx="103.5" cy="458.7" rx="2.7" ry="1.6" transform="rotate(17 103.5 458.7)" fill="#56649A" fill-opacity="0.92"/><ellipse cx="109.5" cy="368.3" rx="2.1" ry="1.9" transform="rotate(118 109.5 368.3)" fill="#5A6A9E" fill-opacity="0.88"/><ellipse cx="115.3" cy="392.5" rx="2.4" ry="1.9" transform="rotate(96 115.3 392.5)" fill="#4E5C90" fill-opacity="0.72"/><ellipse cx="105.5" cy="399.3" rx="2.0" ry="1.7" transform="rotate(115 105.5 399.3)" fill="#56649A" fill-opacity="0.76"/><ellipse cx="99.2" cy="380.8" rx="1.7" ry="1.6" transform="rotate(67 99.2 380.8)" fill="#7080A8" fill-opacity="0.89"/><ellipse cx="112.0" cy="429.8" rx="2.6" ry="1.8" transform="rotate(113 112.0 429.8)" fill="#6674A8" fill-opacity="0.75"/><ellipse cx="144.1" cy="396.8" rx="2.4" ry="2.0" transform="rotate(43 144.1 396.8)" fill="#7080A8" fill-opacity="0.76"/><ellipse cx="184.3" cy="437.3" rx="1.9" ry="1.9" transform="rotate(62 184.3 437.3)" fill="#7080A8" fill-opacity="0.81"/><ellipse cx="97.8" cy="418.7" rx="1.8" ry="1.3" transform="rotate(162 97.8 418.7)" fill="#8A7A8A" fill-opacity="0.90"/><ellipse cx="98.5" cy="405.5" rx="2.1" ry="1.6" transform="rotate(111 98.5 405.5)" fill="#6674A8" fill-opacity="0.82"/><ellipse cx="168.5" cy="426.4" rx="1.6" ry="2.2" transform="rotate(109 168.5 426.4)" fill="#5A6A9E" fill-opacity="0.86"/><ellipse cx="184.5" cy="441.6" rx="2.0" ry="2.0" transform="rotate(26 184.5 441.6)" fill="#56649A" fill-opacity="0.92"/><ellipse cx="103.2" cy="367.6" rx="2.0" ry="1.9" transform="rotate(96 103.2 367.6)" fill="#6674A8" fill-opacity="0.87"/><ellipse cx="154.0" cy="383.1" rx="2.7" ry="2.1" transform="rotate(133 154.0 383.1)" fill="#6674A8" fill-opacity="0.81"/><ellipse cx="96.5" cy="384.7" rx="2.2" ry="2.0" transform="rotate(165 96.5 384.7)" fill="#8A7A8A" fill-opacity="0.90"/><ellipse cx="102.8" cy="416.3" rx="1.6" ry="2.2" transform="rotate(92 102.8 416.3)" fill="#6674A8" fill-opacity="0.84"/><ellipse cx="138.1" cy="379.1" rx="1.7" ry="1.3" transform="rotate(110 138.1 379.1)" fill="#56649A" fill-opacity="0.89"/><ellipse cx="150.5" cy="375.5" rx="1.9" ry="2.1" transform="rotate(126 150.5 375.5)" fill="#5A6A9E" fill-opacity="0.78"/><ellipse cx="142.7" cy="459.2" rx="2.0" ry="1.5" transform="rotate(130 142.7 459.2)" fill="#7080A8" fill-opacity="0.85"/><ellipse cx="128.5" cy="441.5" rx="2.7" ry="2.0" transform="rotate(128 128.5 441.5)" fill="#56649A" fill-opacity="0.79"/><ellipse cx="96.0" cy="395.5" rx="2.7" ry="1.8" transform="rotate(36 96.0 395.5)" fill="#6674A8" fill-opacity="0.84"/><ellipse cx="139.4" cy="412.5" rx="1.8" ry="1.6" transform="rotate(5 139.4 412.5)" fill="#6674A8" fill-opacity="0.79"/><ellipse cx="96.6" cy="396.1" rx="1.9" ry="2.1" transform="rotate(68 96.6 396.1)" fill="#4E5C90" fill-opacity="0.84"/><ellipse cx="155.0" cy="427.2" rx="2.4" ry="1.7" transform="rotate(143 155.0 427.2)" fill="#7080A8" fill-opacity="0.84"/><ellipse cx="184.8" cy="446.5" rx="1.7" ry="2.0" transform="rotate(16 184.8 446.5)" fill="#56649A" fill-opacity="0.72"/><ellipse cx="138.2" cy="457.7" rx="2.6" ry="1.7" transform="rotate(64 138.2 457.7)" fill="#6674A8" fill-opacity="0.72"/><ellipse cx="104.8" cy="459.2" rx="2.6" ry="2.2" transform="rotate(34 104.8 459.2)" fill="#56649A" fill-opacity="0.85"/><ellipse cx="162.8" cy="408.0" rx="2.0" ry="2.1" transform="rotate(39 162.8 408.0)" fill="#8A7A8A" fill-opacity="0.78"/><ellipse cx="130.2" cy="437.9" rx="2.2" ry="1.8" transform="rotate(166 130.2 437.9)" fill="#7080A8" fill-opacity="0.90"/><ellipse cx="142.2" cy="372.0" rx="1.7" ry="2.0" transform="rotate(135 142.2 372.0)" fill="#7080A8" fill-opacity="0.78"/><ellipse cx="151.6" cy="425.3" rx="1.8" ry="2.2" transform="rotate(44 151.6 425.3)" fill="#6674A8" fill-opacity="0.87"/><ellipse cx="162.6" cy="403.3" rx="2.3" ry="1.8" transform="rotate(180 162.6 403.3)" fill="#5A6A9E" fill-opacity="0.90"/><ellipse cx="135.5" cy="443.2" rx="2.6" ry="1.5" transform="rotate(14 135.5 443.2)" fill="#7A6A78" fill-opacity="0.77"/><ellipse cx="163.8" cy="460.5" rx="2.2" ry="2.1" transform="rotate(75 163.8 460.5)" fill="#7080A8" fill-opacity="0.87"/><ellipse cx="178.4" cy="372.1" rx="2.5" ry="1.9" transform="rotate(2 178.4 372.1)" fill="#4E5C90" fill-opacity="0.88"/><ellipse cx="107.8" cy="378.8" rx="2.5" ry="1.8" transform="rotate(105 107.8 378.8)" fill="#56649A" fill-opacity="0.92"/><ellipse cx="144.8" cy="435.4" rx="1.7" ry="1.4" transform="rotate(101 144.8 435.4)" fill="#7A6A78" fill-opacity="0.82"/><ellipse cx="149.8" cy="412.1" rx="2.8" ry="1.5" transform="rotate(33 149.8 412.1)" fill="#7080A8" fill-opacity="0.80"/><ellipse cx="167.3" cy="383.0" rx="2.6" ry="1.4" transform="rotate(45 167.3 383.0)" fill="#56649A" fill-opacity="0.72"/><ellipse cx="185.3" cy="370.5" rx="1.9" ry="2.2" transform="rotate(114 185.3 370.5)" fill="#56649A" fill-opacity="0.89"/><ellipse cx="131.4" cy="426.7" rx="1.8" ry="1.4" transform="rotate(167 131.4 426.7)" fill="#4E5C90" fill-opacity="0.79"/><ellipse cx="176.0" cy="432.1" rx="2.0" ry="1.9" transform="rotate(53 176.0 432.1)" fill="#4E5C90" fill-opacity="0.82"/><ellipse cx="132.6" cy="440.9" rx="2.4" ry="1.4" transform="rotate(176 132.6 440.9)" fill="#7080A8" fill-opacity="0.74"/><ellipse cx="133.8" cy="450.0" rx="2.6" ry="1.6" transform="rotate(80 133.8 450.0)" fill="#8A7A8A" fill-opacity="0.76"/><ellipse cx="102.8" cy="405.8" rx="2.4" ry="2.2" transform="rotate(158 102.8 405.8)" fill="#5A6A9E" fill-opacity="0.78"/><ellipse cx="150.9" cy="413.9" rx="2.5" ry="1.4" transform="rotate(128 150.9 413.9)" fill="#4E5C90" fill-opacity="0.84"/><ellipse cx="157.4" cy="386.2" rx="2.7" ry="2.2" transform="rotate(148 157.4 386.2)" fill="#7A6A78" fill-opacity="0.72"/><ellipse cx="178.3" cy="403.1" rx="2.8" ry="1.8" transform="rotate(143 178.3 403.1)" fill="#56649A" fill-opacity="0.89"/><ellipse cx="158.3" cy="412.3" rx="1.8" ry="2.1" transform="rotate(31 158.3 412.3)" fill="#7080A8" fill-opacity="0.81"/><ellipse cx="176.5" cy="429.5" rx="2.0" ry="1.7" transform="rotate(12 176.5 429.5)" fill="#56649A" fill-opacity="0.81"/><ellipse cx="158.7" cy="370.6" rx="2.4" ry="1.8" transform="rotate(144 158.7 370.6)" fill="#4E5C90" fill-opacity="0.79"/><ellipse cx="123.7" cy="373.5" rx="1.7" ry="2.1" transform="rotate(68 123.7 373.5)" fill="#6674A8" fill-opacity="0.77"/><ellipse cx="113.4" cy="445.8" rx="1.8" ry="2.3" transform="rotate(93 113.4 445.8)" fill="#4E5C90" fill-opacity="0.77"/><ellipse cx="174.1" cy="376.6" rx="2.5" ry="1.7" transform="rotate(111 174.1 376.6)" fill="#6674A8" fill-opacity="0.84"/><ellipse cx="155.7" cy="422.7" rx="2.0" ry="1.6" transform="rotate(26 155.7 422.7)" fill="#56649A" fill-opacity="0.82"/><ellipse cx="166.3" cy="388.1" rx="2.8" ry="1.3" transform="rotate(67 166.3 388.1)" fill="#7A6A78" fill-opacity="0.76"/><ellipse cx="164.3" cy="440.1" rx="1.7" ry="2.0" transform="rotate(56 164.3 440.1)" fill="#4E5C90" fill-opacity="0.83"/><ellipse cx="107.3" cy="368.7" rx="1.9" ry="2.0" transform="rotate(95 107.3 368.7)" fill="#4E5C90" fill-opacity="0.85"/><ellipse cx="130.4" cy="410.0" rx="2.5" ry="1.7" transform="rotate(161 130.4 410.0)" fill="#7080A8" fill-opacity="0.86"/><ellipse cx="124.4" cy="405.8" rx="2.3" ry="1.6" transform="rotate(98 124.4 405.8)" fill="#7A6A78" fill-opacity="0.87"/><ellipse cx="132.2" cy="381.4" rx="1.9" ry="1.5" transform="rotate(15 132.2 381.4)" fill="#7A6A78" fill-opacity="0.75"/><ellipse cx="142.3" cy="393.4" rx="2.5" ry="2.1" transform="rotate(173 142.3 393.4)" fill="#7080A8" fill-opacity="0.74"/><ellipse cx="108.0" cy="393.5" rx="2.6" ry="2.0" transform="rotate(164 108.0 393.5)" fill="#5A6A9E" fill-opacity="0.87"/><ellipse cx="157.4" cy="424.6" rx="2.5" ry="1.6" transform="rotate(150 157.4 424.6)" fill="#56649A" fill-opacity="0.86"/><ellipse cx="125.7" cy="423.8" rx="2.4" ry="1.7" transform="rotate(121 125.7 423.8)" fill="#7080A8" fill-opacity="0.85"/><ellipse cx="160.7" cy="454.1" rx="2.7" ry="1.5" transform="rotate(35 160.7 454.1)" fill="#5A6A9E" fill-opacity="0.87"/><ellipse cx="107.1" cy="383.5" rx="2.6" ry="1.8" transform="rotate(60 107.1 383.5)" fill="#8A7A8A" fill-opacity="0.89"/><ellipse cx="164.7" cy="415.0" rx="2.1" ry="1.8" transform="rotate(83 164.7 415.0)" fill="#56649A" fill-opacity="0.85"/><ellipse cx="107.8" cy="436.8" rx="2.2" ry="1.8" transform="rotate(128 107.8 436.8)" fill="#6674A8" fill-opacity="0.74"/><ellipse cx="135.2" cy="455.0" rx="2.4" ry="1.4" transform="rotate(165 135.2 455.0)" fill="#56649A" fill-opacity="0.85"/><ellipse cx="160.0" cy="379.1" rx="1.8" ry="1.5" transform="rotate(15 160.0 379.1)" fill="#5A6A9E" fill-opacity="0.85"/><ellipse cx="150.3" cy="426.9" rx="2.2" ry="1.9" transform="rotate(20 150.3 426.9)" fill="#7A6A78" fill-opacity="0.92"/><ellipse cx="158.5" cy="400.6" rx="1.7" ry="1.6" transform="rotate(32 158.5 400.6)" fill="#8A7A8A" fill-opacity="0.88"/><ellipse cx="173.6" cy="454.6" rx="2.3" ry="2.1" transform="rotate(152 173.6 454.6)" fill="#5A6A9E" fill-opacity="0.86"/><ellipse cx="99.9" cy="380.1" rx="2.4" ry="2.0" transform="rotate(142 99.9 380.1)" fill="#7A6A78" fill-opacity="0.89"/><ellipse cx="152.5" cy="425.6" rx="2.5" ry="2.2" transform="rotate(23 152.5 425.6)" fill="#8A7A8A" fill-opacity="0.74"/><ellipse cx="133.9" cy="392.5" rx="2.6" ry="2.1" transform="rotate(59 133.9 392.5)" fill="#6674A8" fill-opacity="0.86"/><ellipse cx="169.2" cy="421.0" rx="2.5" ry="1.5" transform="rotate(102 169.2 421.0)" fill="#6674A8" fill-opacity="0.85"/><ellipse cx="132.9" cy="436.3" rx="2.4" ry="1.8" transform="rotate(147 132.9 436.3)" fill="#6674A8" fill-opacity="0.88"/><ellipse cx="96.6" cy="408.7" rx="2.0" ry="2.2" transform="rotate(52 96.6 408.7)" fill="#7A6A78" fill-opacity="0.81"/><ellipse cx="119.3" cy="392.9" rx="2.1" ry="1.7" transform="rotate(37 119.3 392.9)" fill="#56649A" fill-opacity="0.79"/><ellipse cx="94.7" cy="416.1" rx="2.0" ry="1.4" transform="rotate(136 94.7 416.1)" fill="#8A7A8A" fill-opacity="0.86"/><ellipse cx="148.2" cy="413.1" rx="2.8" ry="2.3" transform="rotate(145 148.2 413.1)" fill="#4E5C90" fill-opacity="0.77"/><ellipse cx="142.2" cy="368.9" rx="2.6" ry="1.7" transform="rotate(39 142.2 368.9)" fill="#8A7A8A" fill-opacity="0.86"/><ellipse cx="116.5" cy="453.5" rx="1.8" ry="1.3" transform="rotate(50 116.5 453.5)" fill="#56649A" fill-opacity="0.88"/><ellipse cx="130.0" cy="419.7" rx="2.8" ry="1.6" transform="rotate(96 130.0 419.7)" fill="#8A7A8A" fill-opacity="0.74"/><ellipse cx="120.0" cy="379.5" rx="2.3" ry="2.0" transform="rotate(33 120.0 379.5)" fill="#7080A8" fill-opacity="0.74"/><ellipse cx="186.6" cy="400.9" rx="2.5" ry="2.1" transform="rotate(176 186.6 400.9)" fill="#7080A8" fill-opacity="0.73"/><ellipse cx="138.9" cy="410.4" rx="2.4" ry="1.4" transform="rotate(172 138.9 410.4)" fill="#4E5C90" fill-opacity="0.83"/><ellipse cx="185.2" cy="426.7" rx="2.4" ry="2.0" transform="rotate(114 185.2 426.7)" fill="#56649A" fill-opacity="0.91"/><ellipse cx="109.5" cy="456.7" rx="2.4" ry="1.5" transform="rotate(177 109.5 456.7)" fill="#7A6A78" fill-opacity="0.80"/><ellipse cx="136.6" cy="447.6" rx="1.6" ry="1.7" transform="rotate(57 136.6 447.6)" fill="#7A6A78" fill-opacity="0.79"/><ellipse cx="186.0" cy="421.2" rx="2.5" ry="2.1" transform="rotate(24 186.0 421.2)" fill="#56649A" fill-opacity="0.84"/><ellipse cx="104.5" cy="381.1" rx="2.6" ry="1.9" transform="rotate(167 104.5 381.1)" fill="#7A6A78" fill-opacity="0.92"/><ellipse cx="144.1" cy="436.8" rx="2.2" ry="1.6" transform="rotate(159 144.1 436.8)" fill="#7A6A78" fill-opacity="0.74"/><ellipse cx="97.1" cy="372.7" rx="2.0" ry="1.9" transform="rotate(155 97.1 372.7)" fill="#7A6A78" fill-opacity="0.89"/><ellipse cx="135.7" cy="450.9" rx="1.9" ry="1.8" transform="rotate(128 135.7 450.9)" fill="#7A6A78" fill-opacity="0.81"/><ellipse cx="98.5" cy="401.2" rx="2.3" ry="2.0" transform="rotate(28 98.5 401.2)" fill="#4E5C90" fill-opacity="0.79"/><ellipse cx="147.5" cy="427.2" rx="2.2" ry="1.8" transform="rotate(180 147.5 427.2)" fill="#7A6A78" fill-opacity="0.84"/><ellipse cx="161.7" cy="404.7" rx="2.7" ry="1.4" transform="rotate(13 161.7 404.7)" fill="#5A6A9E" fill-opacity="0.76"/><ellipse cx="113.8" cy="440.2" rx="1.7" ry="2.0" transform="rotate(40 113.8 440.2)" fill="#6674A8" fill-opacity="0.85"/><ellipse cx="183.5" cy="390.6" rx="2.3" ry="2.2" transform="rotate(79 183.5 390.6)" fill="#4E5C90" fill-opacity="0.73"/><ellipse cx="146.6" cy="439.7" rx="2.2" ry="2.1" transform="rotate(177 146.6 439.7)" fill="#7A6A78" fill-opacity="0.80"/><ellipse cx="130.9" cy="438.2" rx="1.8" ry="1.8" transform="rotate(135 130.9 438.2)" fill="#8A7A8A" fill-opacity="0.75"/><ellipse cx="158.8" cy="417.4" rx="2.0" ry="1.8" transform="rotate(36 158.8 417.4)" fill="#7A6A78" fill-opacity="0.88"/><ellipse cx="132.3" cy="388.9" rx="1.7" ry="1.5" transform="rotate(89 132.3 388.9)" fill="#8A7A8A" fill-opacity="0.85"/><ellipse cx="137.9" cy="449.1" rx="2.0" ry="2.1" transform="rotate(99 137.9 449.1)" fill="#6674A8" fill-opacity="0.85"/><ellipse cx="180.7" cy="393.1" rx="1.9" ry="1.8" transform="rotate(47 180.7 393.1)" fill="#8A7A8A" fill-opacity="0.76"/><ellipse cx="164.0" cy="412.2" rx="2.1" ry="1.7" transform="rotate(13 164.0 412.2)" fill="#5A6A9E" fill-opacity="0.72"/><ellipse cx="127.5" cy="441.6" rx="2.4" ry="1.6" transform="rotate(173 127.5 441.6)" fill="#4E5C90" fill-opacity="0.73"/><ellipse cx="114.3" cy="424.0" rx="2.0" ry="1.5" transform="rotate(145 114.3 424.0)" fill="#7A6A78" fill-opacity="0.82"/><ellipse cx="183.4" cy="420.8" rx="2.4" ry="1.8" transform="rotate(143 183.4 420.8)" fill="#4E5C90" fill-opacity="0.82"/><ellipse cx="137.8" cy="441.2" rx="2.6" ry="2.0" transform="rotate(29 137.8 441.2)" fill="#6674A8" fill-opacity="0.73"/><ellipse cx="186.5" cy="413.9" rx="2.0" ry="2.2" transform="rotate(17 186.5 413.9)" fill="#4E5C90" fill-opacity="0.85"/><ellipse cx="176.5" cy="387.5" rx="2.5" ry="1.7" transform="rotate(2 176.5 387.5)" fill="#56649A" fill-opacity="0.74"/><ellipse cx="138.1" cy="368.6" rx="1.9" ry="1.7" transform="rotate(68 138.1 368.6)" fill="#8A7A8A" fill-opacity="0.83"/><ellipse cx="146.0" cy="406.8" rx="1.8" ry="2.1" transform="rotate(165 146.0 406.8)" fill="#7080A8" fill-opacity="0.87"/><ellipse cx="102.2" cy="420.5" rx="2.1" ry="2.2" transform="rotate(171 102.2 420.5)" fill="#5A6A9E" fill-opacity="0.76"/><ellipse cx="123.4" cy="408.7" rx="1.9" ry="1.9" transform="rotate(129 123.4 408.7)" fill="#8A7A8A" fill-opacity="0.74"/><ellipse cx="161.6" cy="369.8" rx="2.8" ry="2.0" transform="rotate(139 161.6 369.8)" fill="#7A6A78" fill-opacity="0.80"/><ellipse cx="155.2" cy="404.1" rx="2.5" ry="1.5" transform="rotate(176 155.2 404.1)" fill="#7A6A78" fill-opacity="0.74"/><ellipse cx="168.2" cy="405.8" rx="2.5" ry="1.4" transform="rotate(99 168.2 405.8)" fill="#56649A" fill-opacity="0.79"/><ellipse cx="131.9" cy="374.4" rx="2.5" ry="1.3" transform="rotate(136 131.9 374.4)" fill="#56649A" fill-opacity="0.72"/><ellipse cx="160.3" cy="437.6" rx="2.4" ry="2.3" transform="rotate(114 160.3 437.6)" fill="#7A6A78" fill-opacity="0.86"/><ellipse cx="120.0" cy="400.1" rx="2.7" ry="2.0" transform="rotate(140 120.0 400.1)" fill="#6674A8" fill-opacity="0.86"/><ellipse cx="150.2" cy="403.3" rx="2.0" ry="2.2" transform="rotate(25 150.2 403.3)" fill="#5A6A9E" fill-opacity="0.83"/><ellipse cx="135.3" cy="414.2" rx="2.4" ry="1.4" transform="rotate(121 135.3 414.2)" fill="#6674A8" fill-opacity="0.85"/><ellipse cx="154.5" cy="443.7" rx="2.2" ry="2.2" transform="rotate(81 154.5 443.7)" fill="#8A7A8A" fill-opacity="0.80"/><ellipse cx="161.2" cy="394.3" rx="2.4" ry="2.1" transform="rotate(11 161.2 394.3)" fill="#7A6A78" fill-opacity="0.89"/><ellipse cx="133.7" cy="447.1" rx="2.8" ry="1.3" transform="rotate(53 133.7 447.1)" fill="#8A7A8A" fill-opacity="0.84"/><ellipse cx="125.7" cy="443.9" rx="2.1" ry="2.1" transform="rotate(57 125.7 443.9)" fill="#8A7A8A" fill-opacity="0.89"/><ellipse cx="93.6" cy="429.3" rx="2.7" ry="2.2" transform="rotate(76 93.6 429.3)" fill="#7A6A78" fill-opacity="0.77"/><ellipse cx="123.1" cy="448.9" rx="2.4" ry="1.8" transform="rotate(180 123.1 448.9)" fill="#56649A" fill-opacity="0.75"/><ellipse cx="122.9" cy="417.7" rx="2.0" ry="1.9" transform="rotate(27 122.9 417.7)" fill="#5A6A9E" fill-opacity="0.90"/><ellipse cx="103.4" cy="375.2" rx="2.2" ry="1.3" transform="rotate(65 103.4 375.2)" fill="#6674A8" fill-opacity="0.79"/><ellipse cx="94.7" cy="381.5" rx="2.5" ry="1.4" transform="rotate(119 94.7 381.5)" fill="#8A7A8A" fill-opacity="0.76"/><ellipse cx="181.6" cy="438.8" rx="2.4" ry="1.6" transform="rotate(43 181.6 438.8)" fill="#7A6A78" fill-opacity="0.77"/><ellipse cx="116.0" cy="415.5" rx="2.3" ry="1.6" transform="rotate(73 116.0 415.5)" fill="#56649A" fill-opacity="0.86"/><ellipse cx="99.1" cy="372.0" rx="1.9" ry="2.1" transform="rotate(61 99.1 372.0)" fill="#5A6A9E" fill-opacity="0.89"/><ellipse cx="171.5" cy="443.4" rx="2.0" ry="1.9" transform="rotate(169 171.5 443.4)" fill="#4E5C90" fill-opacity="0.82"/><ellipse cx="183.2" cy="453.8" rx="2.2" ry="1.4" transform="rotate(125 183.2 453.8)" fill="#6674A8" fill-opacity="0.91"/><ellipse cx="168.2" cy="387.5" rx="2.6" ry="1.6" transform="rotate(130 168.2 387.5)" fill="#8A7A8A" fill-opacity="0.91"/><ellipse cx="133.4" cy="399.4" rx="2.8" ry="2.1" transform="rotate(90 133.4 399.4)" fill="#7A6A78" fill-opacity="0.88"/><ellipse cx="167.2" cy="430.1" rx="2.6" ry="1.9" transform="rotate(119 167.2 430.1)" fill="#56649A" fill-opacity="0.88"/><ellipse cx="137.9" cy="412.9" rx="1.9" ry="1.5" transform="rotate(95 137.9 412.9)" fill="#7A6A78" fill-opacity="0.74"/><ellipse cx="180.5" cy="374.2" rx="2.1" ry="1.3" transform="rotate(155 180.5 374.2)" fill="#56649A" fill-opacity="0.92"/><ellipse cx="157.3" cy="404.8" rx="1.7" ry="2.1" transform="rotate(135 157.3 404.8)" fill="#6674A8" fill-opacity="0.74"/><ellipse cx="137.2" cy="373.8" rx="2.4" ry="1.9" transform="rotate(130 137.2 373.8)" fill="#7A6A78" fill-opacity="0.83"/><ellipse cx="124.3" cy="400.7" rx="2.2" ry="1.8" transform="rotate(119 124.3 400.7)" fill="#5A6A9E" fill-opacity="0.91"/><ellipse cx="143.0" cy="412.7" rx="2.4" ry="2.2" transform="rotate(133 143.0 412.7)" fill="#6674A8" fill-opacity="0.86"/><ellipse cx="130.2" cy="371.7" rx="2.1" ry="1.5" transform="rotate(100 130.2 371.7)" fill="#5A6A9E" fill-opacity="0.76"/><ellipse cx="148.5" cy="458.7" rx="2.6" ry="1.6" transform="rotate(11 148.5 458.7)" fill="#6674A8" fill-opacity="0.90"/><ellipse cx="131.9" cy="368.4" rx="2.5" ry="2.1" transform="rotate(17 131.9 368.4)" fill="#5A6A9E" fill-opacity="0.80"/><ellipse cx="123.1" cy="418.7" rx="1.8" ry="1.8" transform="rotate(93 123.1 418.7)" fill="#7A6A78" fill-opacity="0.80"/><ellipse cx="148.7" cy="393.5" rx="2.7" ry="2.0" transform="rotate(98 148.7 393.5)" fill="#7A6A78" fill-opacity="0.86"/><ellipse cx="158.5" cy="457.1" rx="1.7" ry="2.2" transform="rotate(139 158.5 457.1)" fill="#4E5C90" fill-opacity="0.75"/><ellipse cx="117.6" cy="435.8" rx="2.4" ry="1.4" transform="rotate(7 117.6 435.8)" fill="#7A6A78" fill-opacity="0.86"/><ellipse cx="128.2" cy="410.9" rx="1.8" ry="1.6" transform="rotate(173 128.2 410.9)" fill="#5A6A9E" fill-opacity="0.80"/><ellipse cx="174.8" cy="371.4" rx="1.7" ry="1.3" transform="rotate(28 174.8 371.4)" fill="#7A6A78" fill-opacity="0.83"/><ellipse cx="132.3" cy="455.7" rx="2.5" ry="1.7" transform="rotate(97 132.3 455.7)" fill="#4E5C90" fill-opacity="0.81"/><ellipse cx="115.6" cy="412.2" rx="2.7" ry="1.8" transform="rotate(105 115.6 412.2)" fill="#8A7A8A" fill-opacity="0.77"/><ellipse cx="110.8" cy="433.7" rx="1.7" ry="2.1" transform="rotate(129 110.8 433.7)" fill="#5A6A9E" fill-opacity="0.82"/><ellipse cx="124.1" cy="392.2" rx="2.3" ry="1.5" transform="rotate(166 124.1 392.2)" fill="#4E5C90" fill-opacity="0.84"/><ellipse cx="98.2" cy="441.8" rx="1.8" ry="1.3" transform="rotate(112 98.2 441.8)" fill="#56649A" fill-opacity="0.89"/><ellipse cx="118.2" cy="402.2" rx="1.8" ry="2.3" transform="rotate(142 118.2 402.2)" fill="#6674A8" fill-opacity="0.74"/><ellipse cx="160.2" cy="454.6" rx="2.2" ry="1.5" transform="rotate(44 160.2 454.6)" fill="#4E5C90" fill-opacity="0.81"/><ellipse cx="173.0" cy="403.6" rx="2.5" ry="2.3" transform="rotate(87 173.0 403.6)" fill="#6674A8" fill-opacity="0.89"/><ellipse cx="178.5" cy="436.6" rx="2.5" ry="1.4" transform="rotate(84 178.5 436.6)" fill="#4E5C90" fill-opacity="0.90"/><ellipse cx="135.6" cy="397.5" rx="1.9" ry="1.6" transform="rotate(50 135.6 397.5)" fill="#6674A8" fill-opacity="0.74"/><ellipse cx="128.7" cy="397.6" rx="2.1" ry="1.6" transform="rotate(144 128.7 397.6)" fill="#6674A8" fill-opacity="0.86"/><ellipse cx="116.0" cy="431.4" rx="2.3" ry="2.3" transform="rotate(128 116.0 431.4)" fill="#4E5C90" fill-opacity="0.78"/><ellipse cx="175.7" cy="416.6" rx="2.0" ry="1.6" transform="rotate(4 175.7 416.6)" fill="#6674A8" fill-opacity="0.82"/><ellipse cx="127.0" cy="426.4" rx="1.8" ry="1.7" transform="rotate(50 127.0 426.4)" fill="#8A7A8A" fill-opacity="0.84"/><ellipse cx="123.5" cy="454.8" rx="2.4" ry="1.7" transform="rotate(19 123.5 454.8)" fill="#5A6A9E" fill-opacity="0.91"/><ellipse cx="114.4" cy="421.7" rx="1.8" ry="1.9" transform="rotate(131 114.4 421.7)" fill="#7A6A78" fill-opacity="0.82"/><ellipse cx="146.7" cy="418.7" rx="1.9" ry="1.4" transform="rotate(146 146.7 418.7)" fill="#7080A8" fill-opacity="0.86"/><ellipse cx="115.2" cy="402.7" rx="1.6" ry="1.6" transform="rotate(152 115.2 402.7)" fill="#5A6A9E" fill-opacity="0.91"/><ellipse cx="157.4" cy="422.8" rx="2.4" ry="1.8" transform="rotate(61 157.4 422.8)" fill="#8A7A8A" fill-opacity="0.89"/><ellipse cx="172.1" cy="440.8" rx="2.5" ry="2.1" transform="rotate(78 172.1 440.8)" fill="#5A6A9E" fill-opacity="0.80"/><ellipse cx="136.5" cy="384.6" rx="2.6" ry="2.0" transform="rotate(178 136.5 384.6)" fill="#56649A" fill-opacity="0.87"/><ellipse cx="120.3" cy="402.3" rx="1.8" ry="1.8" transform="rotate(26 120.3 402.3)" fill="#8A7A8A" fill-opacity="0.74"/><ellipse cx="173.3" cy="456.2" rx="2.0" ry="1.4" transform="rotate(122 173.3 456.2)" fill="#8A7A8A" fill-opacity="0.91"/><ellipse cx="129.7" cy="431.7" rx="1.9" ry="1.5" transform="rotate(141 129.7 431.7)" fill="#8A7A8A" fill-opacity="0.77"/><ellipse cx="121.6" cy="425.7" rx="1.8" ry="1.5" transform="rotate(88 121.6 425.7)" fill="#7080A8" fill-opacity="0.76"/><ellipse cx="176.3" cy="408.8" rx="1.7" ry="2.0" transform="rotate(74 176.3 408.8)" fill="#8A7A8A" fill-opacity="0.81"/><ellipse cx="135.8" cy="457.4" rx="2.8" ry="2.2" transform="rotate(136 135.8 457.4)" fill="#7080A8" fill-opacity="0.81"/><ellipse cx="113.0" cy="383.5" rx="2.3" ry="2.0" transform="rotate(12 113.0 383.5)" fill="#56649A" fill-opacity="0.74"/><ellipse cx="162.8" cy="395.5" rx="2.5" ry="1.8" transform="rotate(24 162.8 395.5)" fill="#8A7A8A" fill-opacity="0.86"/><ellipse cx="142.3" cy="391.6" rx="2.1" ry="2.0" transform="rotate(43 142.3 391.6)" fill="#5A6A9E" fill-opacity="0.80"/><ellipse cx="155.4" cy="389.6" rx="2.0" ry="1.8" transform="rotate(168 155.4 389.6)" fill="#7080A8" fill-opacity="0.78"/><ellipse cx="98.1" cy="441.1" rx="2.6" ry="1.8" transform="rotate(165 98.1 441.1)" fill="#6674A8" fill-opacity="0.87"/><ellipse cx="143.6" cy="370.4" rx="2.3" ry="2.3" transform="rotate(123 143.6 370.4)" fill="#6674A8" fill-opacity="0.87"/><ellipse cx="119.6" cy="389.1" rx="2.0" ry="1.8" transform="rotate(40 119.6 389.1)" fill="#5A6A9E" fill-opacity="0.84"/><ellipse cx="128.1" cy="441.5" rx="1.8" ry="1.7" transform="rotate(60 128.1 441.5)" fill="#6674A8" fill-opacity="0.89"/><ellipse cx="114.7" cy="438.3" rx="2.1" ry="1.5" transform="rotate(116 114.7 438.3)" fill="#5A6A9E" fill-opacity="0.79"/><ellipse cx="133.4" cy="459.1" rx="2.1" ry="1.5" transform="rotate(159 133.4 459.1)" fill="#7080A8" fill-opacity="0.74"/><ellipse cx="170.0" cy="388.0" rx="1.9" ry="1.3" transform="rotate(14 170.0 388.0)" fill="#7A6A78" fill-opacity="0.75"/><ellipse cx="107.4" cy="420.5" rx="2.2" ry="1.4" transform="rotate(14 107.4 420.5)" fill="#7A6A78" fill-opacity="0.79"/><ellipse cx="141.6" cy="412.1" rx="2.5" ry="2.1" transform="rotate(68 141.6 412.1)" fill="#7080A8" fill-opacity="0.86"/><ellipse cx="158.2" cy="442.8" rx="1.8" ry="1.3" transform="rotate(147 158.2 442.8)" fill="#8A7A8A" fill-opacity="0.74"/><ellipse cx="163.4" cy="429.8" rx="2.1" ry="1.4" transform="rotate(163 163.4 429.8)" fill="#6674A8" fill-opacity="0.74"/><ellipse cx="171.2" cy="428.3" rx="2.8" ry="1.8" transform="rotate(71 171.2 428.3)" fill="#4E5C90" fill-opacity="0.87"/><ellipse cx="107.6" cy="430.1" rx="2.0" ry="1.5" transform="rotate(130 107.6 430.1)" fill="#7080A8" fill-opacity="0.83"/><ellipse cx="166.6" cy="402.8" rx="2.0" ry="2.0" transform="rotate(121 166.6 402.8)" fill="#5A6A9E" fill-opacity="0.91"/><ellipse cx="109.4" cy="388.6" rx="2.2" ry="1.7" transform="rotate(14 109.4 388.6)" fill="#7A6A78" fill-opacity="0.74"/><ellipse cx="93.4" cy="372.8" rx="2.3" ry="2.3" transform="rotate(173 93.4 372.8)" fill="#8A7A8A" fill-opacity="0.88"/><ellipse cx="173.5" cy="379.5" rx="1.7" ry="1.7" transform="rotate(138 173.5 379.5)" fill="#8A7A8A" fill-opacity="0.81"/><ellipse cx="152.6" cy="431.4" rx="2.3" ry="2.2" transform="rotate(45 152.6 431.4)" fill="#6674A8" fill-opacity="0.88"/><ellipse cx="105.0" cy="392.0" rx="2.6" ry="2.0" transform="rotate(169 105.0 392.0)" fill="#7A6A78" fill-opacity="0.88"/><ellipse cx="121.0" cy="370.4" rx="2.1" ry="1.7" transform="rotate(177 121.0 370.4)" fill="#4E5C90" fill-opacity="0.88"/><ellipse cx="186.3" cy="427.5" rx="2.2" ry="2.0" transform="rotate(98 186.3 427.5)" fill="#4E5C90" fill-opacity="0.90"/><ellipse cx="106.2" cy="369.8" rx="2.3" ry="1.6" transform="rotate(103 106.2 369.8)" fill="#5A6A9E" fill-opacity="0.76"/><ellipse cx="120.2" cy="457.3" rx="2.3" ry="2.1" transform="rotate(129 120.2 457.3)" fill="#7A6A78" fill-opacity="0.77"/><ellipse cx="157.9" cy="429.3" rx="2.3" ry="1.6" transform="rotate(22 157.9 429.3)" fill="#8A7A8A" fill-opacity="0.80"/><ellipse cx="178.1" cy="440.0" rx="2.0" ry="2.0" transform="rotate(14 178.1 440.0)" fill="#7A6A78" fill-opacity="0.86"/><ellipse cx="183.5" cy="444.8" rx="1.7" ry="1.9" transform="rotate(36 183.5 444.8)" fill="#4E5C90" fill-opacity="0.89"/><ellipse cx="154.3" cy="369.3" rx="2.8" ry="1.5" transform="rotate(15 154.3 369.3)" fill="#56649A" fill-opacity="0.73"/><ellipse cx="136.9" cy="379.5" rx="2.7" ry="1.7" transform="rotate(99 136.9 379.5)" fill="#7080A8" fill-opacity="0.76"/><ellipse cx="94.8" cy="399.9" rx="1.7" ry="1.8" transform="rotate(82 94.8 399.9)" fill="#6674A8" fill-opacity="0.79"/><ellipse cx="169.3" cy="457.0" rx="1.8" ry="2.2" transform="rotate(15 169.3 457.0)" fill="#7080A8" fill-opacity="0.79"/><ellipse cx="175.1" cy="444.8" rx="1.9" ry="1.6" transform="rotate(42 175.1 444.8)" fill="#8A7A8A" fill-opacity="0.88"/><ellipse cx="169.9" cy="456.5" rx="2.3" ry="2.2" transform="rotate(37 169.9 456.5)" fill="#7080A8" fill-opacity="0.91"/><ellipse cx="158.9" cy="430.4" rx="2.1" ry="2.3" transform="rotate(45 158.9 430.4)" fill="#7A6A78" fill-opacity="0.77"/><ellipse cx="122.9" cy="382.5" rx="2.6" ry="2.0" transform="rotate(59 122.9 382.5)" fill="#56649A" fill-opacity="0.82"/><ellipse cx="142.4" cy="413.2" rx="1.7" ry="1.7" transform="rotate(142 142.4 413.2)" fill="#5A6A9E" fill-opacity="0.80"/><ellipse cx="183.4" cy="381.2" rx="2.5" ry="1.3" transform="rotate(163 183.4 381.2)" fill="#5A6A9E" fill-opacity="0.80"/><ellipse cx="132.1" cy="393.6" rx="2.4" ry="2.1" transform="rotate(129 132.1 393.6)" fill="#5A6A9E" fill-opacity="0.81"/><ellipse cx="124.0" cy="371.1" rx="1.8" ry="1.6" transform="rotate(133 124.0 371.1)" fill="#7080A8" fill-opacity="0.76"/><ellipse cx="181.3" cy="371.9" rx="2.5" ry="2.1" transform="rotate(143 181.3 371.9)" fill="#6674A8" fill-opacity="0.85"/><ellipse cx="115.7" cy="393.0" rx="2.5" ry="1.8" transform="rotate(122 115.7 393.0)" fill="#4E5C90" fill-opacity="0.81"/><ellipse cx="94.9" cy="419.0" rx="1.7" ry="2.2" transform="rotate(131 94.9 419.0)" fill="#8A7A8A" fill-opacity="0.88"/><ellipse cx="135.5" cy="398.6" rx="2.8" ry="2.2" transform="rotate(100 135.5 398.6)" fill="#4E5C90" fill-opacity="0.76"/><ellipse cx="183.0" cy="409.6" rx="2.7" ry="1.8" transform="rotate(163 183.0 409.6)" fill="#6674A8" fill-opacity="0.86"/><ellipse cx="171.3" cy="448.0" rx="2.3" ry="1.6" transform="rotate(138 171.3 448.0)" fill="#56649A" fill-opacity="0.89"/><ellipse cx="149.6" cy="395.6" rx="2.5" ry="1.4" transform="rotate(26 149.6 395.6)" fill="#56649A" fill-opacity="0.91"/><ellipse cx="174.6" cy="410.8" rx="2.6" ry="1.7" transform="rotate(60 174.6 410.8)" fill="#7080A8" fill-opacity="0.81"/><ellipse cx="158.7" cy="371.0" rx="2.2" ry="1.9" transform="rotate(164 158.7 371.0)" fill="#7A6A78" fill-opacity="0.76"/><ellipse cx="115.8" cy="398.1" rx="1.9" ry="1.4" transform="rotate(110 115.8 398.1)" fill="#56649A" fill-opacity="0.88"/><ellipse cx="115.2" cy="383.3" rx="2.5" ry="1.7" transform="rotate(54 115.2 383.3)" fill="#7A6A78" fill-opacity="0.83"/><ellipse cx="174.2" cy="394.9" rx="2.1" ry="1.7" transform="rotate(71 174.2 394.9)" fill="#7A6A78" fill-opacity="0.89"/><ellipse cx="159.1" cy="411.1" rx="2.3" ry="1.8" transform="rotate(11 159.1 411.1)" fill="#56649A" fill-opacity="0.76"/><ellipse cx="185.5" cy="389.0" rx="2.5" ry="2.3" transform="rotate(119 185.5 389.0)" fill="#7080A8" fill-opacity="0.81"/><ellipse cx="141.6" cy="420.6" rx="2.4" ry="1.5" transform="rotate(61 141.6 420.6)" fill="#7A6A78" fill-opacity="0.85"/><ellipse cx="124.4" cy="451.8" rx="2.0" ry="1.5" transform="rotate(98 124.4 451.8)" fill="#4E5C90" fill-opacity="0.76"/><ellipse cx="145.3" cy="459.7" rx="2.5" ry="2.0" transform="rotate(51 145.3 459.7)" fill="#8A7A8A" fill-opacity="0.78"/><ellipse cx="100.6" cy="374.2" rx="2.6" ry="1.8" transform="rotate(123 100.6 374.2)" fill="#8A7A8A" fill-opacity="0.85"/><ellipse cx="170.3" cy="430.2" rx="2.0" ry="1.7" transform="rotate(127 170.3 430.2)" fill="#6674A8" fill-opacity="0.89"/><ellipse cx="178.5" cy="388.5" rx="2.4" ry="2.0" transform="rotate(71 178.5 388.5)" fill="#7080A8" fill-opacity="0.83"/><ellipse cx="133.3" cy="426.2" rx="1.9" ry="1.3" transform="rotate(88 133.3 426.2)" fill="#8A7A8A" fill-opacity="0.91"/><ellipse cx="131.1" cy="411.1" rx="2.8" ry="1.9" transform="rotate(114 131.1 411.1)" fill="#7080A8" fill-opacity="0.86"/><ellipse cx="160.4" cy="380.8" rx="2.1" ry="1.8" transform="rotate(140 160.4 380.8)" fill="#7080A8" fill-opacity="0.91"/><ellipse cx="139.5" cy="438.8" rx="2.1" ry="2.3" transform="rotate(29 139.5 438.8)" fill="#4E5C90" fill-opacity="0.78"/><ellipse cx="142.7" cy="385.2" rx="1.7" ry="2.0" transform="rotate(5 142.7 385.2)" fill="#4E5C90" fill-opacity="0.77"/><ellipse cx="115.6" cy="431.6" rx="2.7" ry="1.4" transform="rotate(77 115.6 431.6)" fill="#5A6A9E" fill-opacity="0.83"/><ellipse cx="116.2" cy="391.1" rx="1.8" ry="1.3" transform="rotate(28 116.2 391.1)" fill="#7A6A78" fill-opacity="0.88"/><ellipse cx="133.8" cy="370.1" rx="2.6" ry="1.7" transform="rotate(15 133.8 370.1)" fill="#5A6A9E" fill-opacity="0.90"/><ellipse cx="165.7" cy="454.6" rx="1.9" ry="2.1" transform="rotate(56 165.7 454.6)" fill="#4E5C90" fill-opacity="0.79"/><ellipse cx="181.8" cy="448.1" rx="2.2" ry="1.6" transform="rotate(139 181.8 448.1)" fill="#56649A" fill-opacity="0.89"/><ellipse cx="148.0" cy="421.5" rx="1.9" ry="1.8" transform="rotate(178 148.0 421.5)" fill="#56649A" fill-opacity="0.79"/><ellipse cx="121.4" cy="459.8" rx="2.4" ry="1.9" transform="rotate(42 121.4 459.8)" fill="#6674A8" fill-opacity="0.77"/><ellipse cx="161.0" cy="378.1" rx="1.7" ry="2.2" transform="rotate(52 161.0 378.1)" fill="#5A6A9E" fill-opacity="0.88"/><ellipse cx="97.9" cy="369.5" rx="2.3" ry="1.4" transform="rotate(175 97.9 369.5)" fill="#8A7A8A" fill-opacity="0.74"/><ellipse cx="146.2" cy="450.0" rx="2.6" ry="1.5" transform="rotate(74 146.2 450.0)" fill="#4E5C90" fill-opacity="0.86"/><ellipse cx="160.4" cy="426.2" rx="2.5" ry="2.3" transform="rotate(94 160.4 426.2)" fill="#56649A" fill-opacity="0.81"/><ellipse cx="131.3" cy="372.1" rx="2.2" ry="1.5" transform="rotate(14 131.3 372.1)" fill="#4E5C90" fill-opacity="0.72"/><ellipse cx="140.4" cy="423.7" rx="2.3" ry="2.2" transform="rotate(18 140.4 423.7)" fill="#7080A8" fill-opacity="0.74"/><ellipse cx="109.9" cy="437.3" rx="2.3" ry="2.2" transform="rotate(36 109.9 437.3)" fill="#7080A8" fill-opacity="0.74"/><ellipse cx="184.8" cy="390.1" rx="1.7" ry="2.1" transform="rotate(63 184.8 390.1)" fill="#7080A8" fill-opacity="0.73"/><ellipse cx="172.7" cy="374.4" rx="1.6" ry="2.0" transform="rotate(168 172.7 374.4)" fill="#56649A" fill-opacity="0.86"/><ellipse cx="99.2" cy="388.4" rx="2.1" ry="2.1" transform="rotate(3 99.2 388.4)" fill="#6674A8" fill-opacity="0.85"/><ellipse cx="128.7" cy="441.8" rx="2.6" ry="1.4" transform="rotate(43 128.7 441.8)" fill="#5A6A9E" fill-opacity="0.88"/><ellipse cx="109.8" cy="421.0" rx="2.7" ry="1.6" transform="rotate(135 109.8 421.0)" fill="#4E5C90" fill-opacity="0.75"/><ellipse cx="183.6" cy="425.2" rx="1.8" ry="2.2" transform="rotate(61 183.6 425.2)" fill="#4E5C90" fill-opacity="0.82"/><ellipse cx="120.4" cy="398.0" rx="2.1" ry="2.0" transform="rotate(176 120.4 398.0)" fill="#4E5C90" fill-opacity="0.82"/><ellipse cx="179.4" cy="398.4" rx="2.6" ry="1.5" transform="rotate(4 179.4 398.4)" fill="#7A6A78" fill-opacity="0.86"/><ellipse cx="154.5" cy="432.8" rx="1.8" ry="1.7" transform="rotate(30 154.5 432.8)" fill="#4E5C90" fill-opacity="0.85"/><ellipse cx="171.3" cy="451.2" rx="1.6" ry="2.1" transform="rotate(55 171.3 451.2)" fill="#5A6A9E" fill-opacity="0.89"/><ellipse cx="103.0" cy="418.9" rx="2.4" ry="2.1" transform="rotate(161 103.0 418.9)" fill="#8A7A8A" fill-opacity="0.78"/><ellipse cx="143.4" cy="425.6" rx="1.9" ry="1.6" transform="rotate(0 143.4 425.6)" fill="#56649A" fill-opacity="0.73"/><ellipse cx="107.0" cy="430.3" rx="2.8" ry="2.0" transform="rotate(53 107.0 430.3)" fill="#56649A" fill-opacity="0.80"/><ellipse cx="130.8" cy="428.3" rx="2.1" ry="1.3" transform="rotate(64 130.8 428.3)" fill="#7A6A78" fill-opacity="0.76"/><ellipse cx="158.6" cy="437.7" rx="2.2" ry="2.2" transform="rotate(80 158.6 437.7)" fill="#7080A8" fill-opacity="0.88"/><ellipse cx="116.6" cy="377.4" rx="1.9" ry="1.3" transform="rotate(50 116.6 377.4)" fill="#8A7A8A" fill-opacity="0.91"/><ellipse cx="186.2" cy="431.4" rx="1.7" ry="2.1" transform="rotate(157 186.2 431.4)" fill="#56649A" fill-opacity="0.86"/><ellipse cx="154.9" cy="423.8" rx="1.8" ry="1.5" transform="rotate(18 154.9 423.8)" fill="#4E5C90" fill-opacity="0.75"/><ellipse cx="98.7" cy="458.0" rx="2.4" ry="2.0" transform="rotate(137 98.7 458.0)" fill="#7080A8" fill-opacity="0.76"/><ellipse cx="127.9" cy="439.8" rx="2.4" ry="2.2" transform="rotate(147 127.9 439.8)" fill="#56649A" fill-opacity="0.72"/><ellipse cx="169.6" cy="453.1" rx="1.9" ry="1.4" transform="rotate(72 169.6 453.1)" fill="#6674A8" fill-opacity="0.73"/><ellipse cx="127.9" cy="413.5" rx="1.6" ry="1.4" transform="rotate(48 127.9 413.5)" fill="#5A6A9E" fill-opacity="0.78"/><ellipse cx="142.6" cy="428.7" rx="1.7" ry="1.3" transform="rotate(60 142.6 428.7)" fill="#7A6A78" fill-opacity="0.73"/><ellipse cx="180.4" cy="441.7" rx="2.3" ry="1.3" transform="rotate(66 180.4 441.7)" fill="#4E5C90" fill-opacity="0.75"/><ellipse cx="141.9" cy="456.5" rx="2.1" ry="1.5" transform="rotate(136 141.9 456.5)" fill="#56649A" fill-opacity="0.89"/><ellipse cx="134.2" cy="435.3" rx="1.9" ry="1.3" transform="rotate(139 134.2 435.3)" fill="#56649A" fill-opacity="0.90"/><ellipse cx="147.3" cy="378.7" rx="2.4" ry="1.8" transform="rotate(104 147.3 378.7)" fill="#8A7A8A" fill-opacity="0.88"/><ellipse cx="125.4" cy="436.0" rx="2.1" ry="2.1" transform="rotate(93 125.4 436.0)" fill="#6674A8" fill-opacity="0.73"/><ellipse cx="140.2" cy="379.1" rx="1.6" ry="1.4" transform="rotate(101 140.2 379.1)" fill="#7080A8" fill-opacity="0.83"/><ellipse cx="130.7" cy="371.5" rx="2.2" ry="1.6" transform="rotate(110 130.7 371.5)" fill="#8A7A8A" fill-opacity="0.76"/><ellipse cx="138.6" cy="439.0" rx="1.7" ry="2.0" transform="rotate(24 138.6 439.0)" fill="#8A7A8A" fill-opacity="0.90"/><ellipse cx="98.8" cy="391.0" rx="2.3" ry="1.5" transform="rotate(169 98.8 391.0)" fill="#7A6A78" fill-opacity="0.84"/><ellipse cx="181.0" cy="390.1" rx="2.0" ry="1.6" transform="rotate(80 181.0 390.1)" fill="#5A6A9E" fill-opacity="0.77"/><ellipse cx="111.3" cy="393.8" rx="2.6" ry="1.3" transform="rotate(101 111.3 393.8)" fill="#4E5C90" fill-opacity="0.82"/><ellipse cx="146.7" cy="405.9" rx="2.4" ry="1.7" transform="rotate(44 146.7 405.9)" fill="#4E5C90" fill-opacity="0.90"/><ellipse cx="161.0" cy="424.1" rx="1.7" ry="1.3" transform="rotate(88 161.0 424.1)" fill="#4E5C90" fill-opacity="0.77"/><ellipse cx="174.5" cy="380.0" rx="1.6" ry="2.1" transform="rotate(152 174.5 380.0)" fill="#7A6A78" fill-opacity="0.78"/><ellipse cx="166.9" cy="379.3" rx="2.8" ry="1.6" transform="rotate(144 166.9 379.3)" fill="#7080A8" fill-opacity="0.77"/><ellipse cx="154.1" cy="417.1" rx="2.0" ry="2.1" transform="rotate(81 154.1 417.1)" fill="#56649A" fill-opacity="0.75"/><ellipse cx="160.6" cy="404.1" rx="2.0" ry="1.8" transform="rotate(15 160.6 404.1)" fill="#6674A8" fill-opacity="0.77"/><ellipse cx="147.4" cy="413.1" rx="1.9" ry="2.2" transform="rotate(165 147.4 413.1)" fill="#56649A" fill-opacity="0.82"/><ellipse cx="124.1" cy="438.5" rx="2.4" ry="1.4" transform="rotate(100 124.1 438.5)" fill="#7A6A78" fill-opacity="0.88"/><ellipse cx="163.6" cy="421.5" rx="2.7" ry="2.2" transform="rotate(55 163.6 421.5)" fill="#4E5C90" fill-opacity="0.89"/><ellipse cx="161.3" cy="446.4" rx="1.8" ry="2.1" transform="rotate(119 161.3 446.4)" fill="#7A6A78" fill-opacity="0.72"/><ellipse cx="122.3" cy="436.0" rx="2.7" ry="1.8" transform="rotate(121 122.3 436.0)" fill="#4E5C90" fill-opacity="0.90"/><ellipse cx="161.5" cy="450.4" rx="1.6" ry="1.6" transform="rotate(124 161.5 450.4)" fill="#7A6A78" fill-opacity="0.79"/><ellipse cx="185.3" cy="399.4" rx="1.8" ry="1.8" transform="rotate(37 185.3 399.4)" fill="#4E5C90" fill-opacity="0.81"/><ellipse cx="108.2" cy="453.5" rx="2.3" ry="1.4" transform="rotate(149 108.2 453.5)" fill="#6674A8" fill-opacity="0.74"/><ellipse cx="178.4" cy="379.2" rx="2.5" ry="1.6" transform="rotate(90 178.4 379.2)" fill="#7A6A78" fill-opacity="0.72"/></g>
</g>
<rect x="95.00" y="369.00" width="89.70" height="89.50" fill="none" stroke="#4A4444" stroke-width="0.8"/>
<clipPath id="k01"><rect x="1.2" y="462.2" width="89.60" height="89.10"/></clipPath>
<g clip-path="url(#k01)">
<rect x="1.20" y="462.20" width="89.60" height="89.10" fill="#F7F6F2"/>
<mask id="m010" maskUnits="userSpaceOnUse" x="-3.8" y="457.2" width="99.6" height="99.09999999999997"><path d="M10.5,457.2 C13.2,454.7 26.1,454.2 30.0,457.2 C33.9,460.2 32.3,469.5 34.0,475.0 C35.7,480.5 38.0,485.0 40.0,490.0 C42.0,495.0 44.7,500.7 46.0,505.0 C47.3,509.3 49.0,515.2 48.0,516.0 C47.0,516.8 43.0,513.0 40.0,510.0 C37.0,507.0 33.0,502.2 30.0,498.0 C27.0,493.8 24.7,489.3 22.0,485.0 C19.3,480.7 15.9,476.6 14.0,472.0 C12.1,467.4 7.8,459.7 10.5,457.2 Z" fill="#fff" filter="url(#mblur)"/></mask>
<g mask="url(#m010)">
<rect x="1.20" y="462.20" width="89.60" height="89.10" fill="#000" filter="url(#f010)"/>
</g>
<mask id="m011" maskUnits="userSpaceOnUse" x="-3.8" y="457.2" width="99.6" height="99.09999999999997"><path d="M28.0,457.2 C34.8,454.2 67.5,455.4 75.0,457.2 C82.5,459.0 73.2,464.9 73.0,468.0 C72.8,471.1 74.5,473.2 74.0,476.0 C73.5,478.8 70.3,482.3 70.0,485.0 C69.7,487.7 72.8,489.5 72.0,492.0 C71.2,494.5 67.3,497.7 65.0,500.0 C62.7,502.3 59.7,504.0 58.0,506.0 C56.3,508.0 54.3,510.7 55.0,512.0 C55.7,513.3 59.8,513.5 62.0,514.0 C64.2,514.5 68.3,514.3 68.0,515.0 C67.7,515.7 63.0,518.0 60.0,518.0 C57.0,518.0 52.3,517.2 50.0,515.0 C47.7,512.8 47.7,509.2 46.0,505.0 C44.3,500.8 42.0,495.0 40.0,490.0 C38.0,485.0 36.0,480.5 34.0,475.0 C32.0,469.5 21.2,460.2 28.0,457.2 Z" fill="#fff" filter="url(#mblur)"/></mask>
<g mask="url(#m011)">
<rect x="1.20" y="462.20" width="89.60" height="89.10" fill="#000" filter="url(#f011)"/>
</g>
<mask id="m012" maskUnits="userSpaceOnUse" x="-3.8" y="457.2" width="99.6" height="99.09999999999997"><path d="M-3.8,556.3 C-20.4,552.9 -6.4,540.2 -3.8,536.0 C-1.2,531.8 7.2,532.5 12.0,531.0 C16.8,529.5 20.3,528.5 25.0,527.0 C29.7,525.5 36.2,523.3 40.0,522.0 C43.8,520.7 44.3,519.8 48.0,519.0 C51.7,518.2 57.5,517.3 62.0,517.0 C66.5,516.7 71.3,516.7 75.0,517.0 C78.7,517.3 80.5,518.8 84.0,519.0 C87.5,519.2 93.8,511.8 95.8,518.0 C97.8,524.2 112.4,549.9 95.8,556.3 C79.2,562.7 12.8,559.7 -3.8,556.3 Z" fill="#fff" filter="url(#mblur)"/></mask>
<g mask="url(#m012)">
<rect x="1.20" y="462.20" width="89.60" height="89.10" fill="#000" filter="url(#f012)"/>
</g>
</g>
<rect x="1.20" y="462.20" width="89.60" height="89.10" fill="none" stroke="#4A4444" stroke-width="0.8"/>
<line x1="91.00" y1="462.40" x2="55.00" y2="512.00" stroke="#222" stroke-width="0.6" stroke-dasharray="0.9,0.9"/>
<line x1="95.00" y1="551.30" x2="60.00" y2="520.00" stroke="#222" stroke-width="0.6" stroke-dasharray="0.9,0.9"/>
<clipPath id="k11"><rect x="95.0" y="462.2" width="89.70" height="89.10"/></clipPath>
<g clip-path="url(#k11)">
<rect x="95.00" y="462.20" width="89.70" height="89.10" fill="#F7F6F2"/>
<rect x="95.00" y="462.20" width="89.70" height="89.10" fill="#000" filter="url(#f110)"/>
<g filter="url(#soft)"><ellipse cx="106.9" cy="517.5" rx="2.9" ry="2.9" transform="rotate(109 106.9 517.5)" fill="#5A6AAA" fill-opacity="0.89"/><ellipse cx="133.2" cy="514.3" rx="3.8" ry="2.7" transform="rotate(134 133.2 514.3)" fill="#2E3E88" fill-opacity="0.94"/><ellipse cx="128.3" cy="481.3" rx="2.8" ry="3.0" transform="rotate(124 128.3 481.3)" fill="#6B5A60" fill-opacity="0.96"/><ellipse cx="171.5" cy="526.7" rx="3.4" ry="2.6" transform="rotate(74 171.5 526.7)" fill="#6B5A60" fill-opacity="0.93"/><ellipse cx="116.1" cy="468.8" rx="3.1" ry="2.8" transform="rotate(92 116.1 468.8)" fill="#5A6AAA" fill-opacity="0.95"/><ellipse cx="105.5" cy="535.1" rx="3.2" ry="2.1" transform="rotate(43 105.5 535.1)" fill="#3A4680" fill-opacity="0.90"/><ellipse cx="155.7" cy="542.9" rx="3.9" ry="2.8" transform="rotate(85 155.7 542.9)" fill="#6B5A60" fill-opacity="0.95"/><ellipse cx="185.8" cy="507.8" rx="2.9" ry="2.3" transform="rotate(37 185.8 507.8)" fill="#2E3E88" fill-opacity="0.91"/><ellipse cx="184.3" cy="509.3" rx="3.2" ry="3.1" transform="rotate(170 184.3 509.3)" fill="#2E3E88" fill-opacity="0.89"/><ellipse cx="166.0" cy="508.9" rx="4.1" ry="2.9" transform="rotate(75 166.0 508.9)" fill="#2E3E88" fill-opacity="0.88"/><ellipse cx="135.0" cy="521.9" rx="3.0" ry="2.5" transform="rotate(26 135.0 521.9)" fill="#6B5A60" fill-opacity="0.91"/><ellipse cx="94.0" cy="482.7" rx="3.0" ry="2.1" transform="rotate(140 94.0 482.7)" fill="#3A4C98" fill-opacity="0.90"/><ellipse cx="122.8" cy="528.0" rx="3.3" ry="2.3" transform="rotate(34 122.8 528.0)" fill="#3A4680" fill-opacity="0.95"/><ellipse cx="110.6" cy="533.0" rx="3.9" ry="2.7" transform="rotate(37 110.6 533.0)" fill="#5062A8" fill-opacity="0.88"/><ellipse cx="181.2" cy="543.5" rx="3.7" ry="2.8" transform="rotate(138 181.2 543.5)" fill="#6B5A60" fill-opacity="0.87"/><ellipse cx="116.9" cy="498.0" rx="2.9" ry="2.5" transform="rotate(170 116.9 498.0)" fill="#5062A8" fill-opacity="0.93"/><ellipse cx="182.9" cy="519.6" rx="3.4" ry="3.0" transform="rotate(49 182.9 519.6)" fill="#2E3E88" fill-opacity="0.94"/><ellipse cx="174.2" cy="465.8" rx="2.9" ry="3.1" transform="rotate(26 174.2 465.8)" fill="#6B5A60" fill-opacity="0.94"/><ellipse cx="130.8" cy="529.2" rx="2.7" ry="2.9" transform="rotate(98 130.8 529.2)" fill="#6B5A60" fill-opacity="0.96"/><ellipse cx="135.5" cy="483.4" rx="2.8" ry="2.0" transform="rotate(105 135.5 483.4)" fill="#3A4680" fill-opacity="0.96"/><ellipse cx="107.1" cy="553.3" rx="4.2" ry="2.2" transform="rotate(16 107.1 553.3)" fill="#5062A8" fill-opacity="0.97"/><ellipse cx="95.9" cy="507.4" rx="3.5" ry="2.7" transform="rotate(85 95.9 507.4)" fill="#3A4680" fill-opacity="0.86"/><ellipse cx="158.0" cy="530.0" rx="2.9" ry="2.3" transform="rotate(163 158.0 530.0)" fill="#4458A0" fill-opacity="0.86"/><ellipse cx="169.3" cy="521.4" rx="4.1" ry="2.9" transform="rotate(126 169.3 521.4)" fill="#5A6AAA" fill-opacity="0.88"/><ellipse cx="124.7" cy="504.2" rx="3.2" ry="3.2" transform="rotate(43 124.7 504.2)" fill="#6B5A60" fill-opacity="0.93"/><ellipse cx="129.8" cy="464.0" rx="3.7" ry="2.4" transform="rotate(97 129.8 464.0)" fill="#4458A0" fill-opacity="0.92"/><ellipse cx="165.1" cy="502.6" rx="2.9" ry="3.1" transform="rotate(5 165.1 502.6)" fill="#4458A0" fill-opacity="0.95"/><ellipse cx="185.7" cy="509.5" rx="4.2" ry="2.1" transform="rotate(85 185.7 509.5)" fill="#5A6AAA" fill-opacity="0.86"/><ellipse cx="111.5" cy="528.3" rx="4.2" ry="3.1" transform="rotate(115 111.5 528.3)" fill="#3A4680" fill-opacity="0.89"/><ellipse cx="168.3" cy="529.5" rx="3.9" ry="2.8" transform="rotate(165 168.3 529.5)" fill="#4458A0" fill-opacity="0.93"/><ellipse cx="119.6" cy="468.1" rx="4.0" ry="3.0" transform="rotate(160 119.6 468.1)" fill="#3A4680" fill-opacity="0.88"/><ellipse cx="100.5" cy="527.9" rx="3.5" ry="2.3" transform="rotate(107 100.5 527.9)" fill="#3A4680" fill-opacity="0.95"/><ellipse cx="157.6" cy="551.3" rx="4.2" ry="2.5" transform="rotate(166 157.6 551.3)" fill="#5062A8" fill-opacity="0.92"/><ellipse cx="158.5" cy="527.9" rx="3.4" ry="2.6" transform="rotate(146 158.5 527.9)" fill="#3A4C98" fill-opacity="0.90"/><ellipse cx="119.5" cy="466.2" rx="3.4" ry="2.4" transform="rotate(18 119.5 466.2)" fill="#5A6AAA" fill-opacity="0.96"/><ellipse cx="162.4" cy="506.7" rx="3.0" ry="3.1" transform="rotate(3 162.4 506.7)" fill="#4458A0" fill-opacity="0.89"/><ellipse cx="123.4" cy="537.0" rx="3.4" ry="2.8" transform="rotate(130 123.4 537.0)" fill="#5062A8" fill-opacity="0.87"/><ellipse cx="115.5" cy="495.9" rx="3.5" ry="3.1" transform="rotate(90 115.5 495.9)" fill="#4458A0" fill-opacity="0.91"/><ellipse cx="119.5" cy="515.7" rx="3.8" ry="2.0" transform="rotate(90 119.5 515.7)" fill="#2A3470" fill-opacity="0.90"/><ellipse cx="96.1" cy="550.2" rx="2.6" ry="2.6" transform="rotate(137 96.1 550.2)" fill="#2A3470" fill-opacity="0.88"/><ellipse cx="155.1" cy="469.4" rx="4.1" ry="2.3" transform="rotate(34 155.1 469.4)" fill="#2A3470" fill-opacity="0.87"/><ellipse cx="126.9" cy="544.2" rx="3.1" ry="2.6" transform="rotate(150 126.9 544.2)" fill="#6B5A60" fill-opacity="0.89"/><ellipse cx="107.4" cy="537.4" rx="3.1" ry="3.1" transform="rotate(100 107.4 537.4)" fill="#2E3E88" fill-opacity="0.85"/><ellipse cx="104.3" cy="546.4" rx="4.2" ry="3.0" transform="rotate(141 104.3 546.4)" fill="#5062A8" fill-opacity="0.95"/><ellipse cx="107.0" cy="542.8" rx="2.8" ry="2.7" transform="rotate(26 107.0 542.8)" fill="#6B5A60" fill-opacity="0.94"/><ellipse cx="137.7" cy="543.3" rx="3.6" ry="2.2" transform="rotate(148 137.7 543.3)" fill="#2E3E88" fill-opacity="0.95"/><ellipse cx="131.9" cy="524.3" rx="3.8" ry="2.8" transform="rotate(33 131.9 524.3)" fill="#2A3470" fill-opacity="0.89"/><ellipse cx="163.4" cy="491.4" rx="2.8" ry="2.7" transform="rotate(158 163.4 491.4)" fill="#4458A0" fill-opacity="0.86"/><ellipse cx="182.3" cy="523.5" rx="3.5" ry="2.4" transform="rotate(108 182.3 523.5)" fill="#2E3E88" fill-opacity="0.88"/><ellipse cx="153.2" cy="519.5" rx="3.1" ry="2.6" transform="rotate(57 153.2 519.5)" fill="#2E3E88" fill-opacity="0.87"/><ellipse cx="120.1" cy="538.4" rx="3.2" ry="2.4" transform="rotate(111 120.1 538.4)" fill="#3A4680" fill-opacity="0.95"/><ellipse cx="145.9" cy="539.7" rx="4.0" ry="3.1" transform="rotate(165 145.9 539.7)" fill="#5A6AAA" fill-opacity="0.93"/><ellipse cx="129.4" cy="470.1" rx="4.1" ry="2.5" transform="rotate(61 129.4 470.1)" fill="#3A4C98" fill-opacity="0.86"/><ellipse cx="166.4" cy="547.8" rx="4.2" ry="3.1" transform="rotate(103 166.4 547.8)" fill="#6B5A60" fill-opacity="0.92"/><ellipse cx="172.5" cy="552.3" rx="3.2" ry="2.1" transform="rotate(135 172.5 552.3)" fill="#6B5A60" fill-opacity="0.95"/><ellipse cx="112.7" cy="502.4" rx="4.1" ry="2.5" transform="rotate(69 112.7 502.4)" fill="#3A4680" fill-opacity="0.91"/><ellipse cx="162.9" cy="532.0" rx="2.9" ry="2.6" transform="rotate(146 162.9 532.0)" fill="#4458A0" fill-opacity="0.95"/><ellipse cx="172.3" cy="505.1" rx="4.0" ry="2.3" transform="rotate(103 172.3 505.1)" fill="#3A4C98" fill-opacity="0.93"/><ellipse cx="140.1" cy="497.5" rx="3.0" ry="2.3" transform="rotate(50 140.1 497.5)" fill="#6B5A60" fill-opacity="0.86"/><ellipse cx="154.7" cy="472.9" rx="2.6" ry="2.9" transform="rotate(110 154.7 472.9)" fill="#2A3470" fill-opacity="0.87"/><ellipse cx="132.8" cy="515.3" rx="4.0" ry="2.8" transform="rotate(88 132.8 515.3)" fill="#3A4680" fill-opacity="0.95"/><ellipse cx="116.4" cy="477.3" rx="2.6" ry="3.0" transform="rotate(38 116.4 477.3)" fill="#3A4C98" fill-opacity="0.93"/><ellipse cx="180.9" cy="521.4" rx="2.9" ry="2.5" transform="rotate(33 180.9 521.4)" fill="#5A6AAA" fill-opacity="0.95"/><ellipse cx="185.0" cy="481.7" rx="3.9" ry="2.1" transform="rotate(132 185.0 481.7)" fill="#4458A0" fill-opacity="0.93"/><ellipse cx="185.9" cy="497.3" rx="3.7" ry="2.3" transform="rotate(76 185.9 497.3)" fill="#4458A0" fill-opacity="0.94"/><ellipse cx="152.5" cy="528.5" rx="3.0" ry="2.2" transform="rotate(34 152.5 528.5)" fill="#6B5A60" fill-opacity="0.94"/><ellipse cx="169.0" cy="540.1" rx="3.0" ry="2.4" transform="rotate(48 169.0 540.1)" fill="#2A3470" fill-opacity="0.90"/><ellipse cx="186.0" cy="528.6" rx="3.2" ry="2.7" transform="rotate(79 186.0 528.6)" fill="#3A4C98" fill-opacity="0.91"/><ellipse cx="135.4" cy="499.2" rx="4.0" ry="3.0" transform="rotate(44 135.4 499.2)" fill="#5A6AAA" fill-opacity="0.86"/><ellipse cx="138.9" cy="500.3" rx="3.7" ry="2.3" transform="rotate(126 138.9 500.3)" fill="#3A4680" fill-opacity="0.94"/><ellipse cx="134.3" cy="498.3" rx="3.3" ry="2.7" transform="rotate(39 134.3 498.3)" fill="#4458A0" fill-opacity="0.89"/><ellipse cx="143.7" cy="549.3" rx="3.7" ry="2.0" transform="rotate(68 143.7 549.3)" fill="#2E3E88" fill-opacity="0.97"/><ellipse cx="119.1" cy="468.0" rx="3.7" ry="3.2" transform="rotate(52 119.1 468.0)" fill="#5062A8" fill-opacity="0.96"/><ellipse cx="126.5" cy="512.4" rx="3.3" ry="2.8" transform="rotate(178 126.5 512.4)" fill="#3A4C98" fill-opacity="0.89"/><ellipse cx="159.3" cy="513.3" rx="4.0" ry="2.5" transform="rotate(114 159.3 513.3)" fill="#6B5A60" fill-opacity="0.89"/><ellipse cx="186.6" cy="546.2" rx="3.2" ry="2.1" transform="rotate(171 186.6 546.2)" fill="#5A6AAA" fill-opacity="0.90"/><ellipse cx="165.7" cy="493.2" rx="3.2" ry="2.4" transform="rotate(103 165.7 493.2)" fill="#6B5A60" fill-opacity="0.96"/><ellipse cx="117.1" cy="553.2" rx="4.0" ry="2.2" transform="rotate(89 117.1 553.2)" fill="#5062A8" fill-opacity="0.95"/><ellipse cx="126.3" cy="472.1" rx="3.9" ry="3.1" transform="rotate(155 126.3 472.1)" fill="#5A6AAA" fill-opacity="0.96"/><ellipse cx="106.1" cy="520.8" rx="3.0" ry="2.5" transform="rotate(32 106.1 520.8)" fill="#3A4680" fill-opacity="0.93"/><ellipse cx="126.6" cy="535.5" rx="3.8" ry="2.1" transform="rotate(70 126.6 535.5)" fill="#3A4C98" fill-opacity="0.92"/><ellipse cx="147.4" cy="529.0" rx="4.0" ry="2.9" transform="rotate(52 147.4 529.0)" fill="#4458A0" fill-opacity="0.97"/><ellipse cx="110.5" cy="537.4" rx="3.0" ry="3.1" transform="rotate(91 110.5 537.4)" fill="#5062A8" fill-opacity="0.90"/><ellipse cx="119.2" cy="542.7" rx="2.6" ry="2.2" transform="rotate(25 119.2 542.7)" fill="#2A3470" fill-opacity="0.94"/><ellipse cx="116.0" cy="514.3" rx="4.0" ry="2.0" transform="rotate(137 116.0 514.3)" fill="#2E3E88" fill-opacity="0.93"/><ellipse cx="178.1" cy="552.2" rx="3.6" ry="2.1" transform="rotate(102 178.1 552.2)" fill="#6B5A60" fill-opacity="0.95"/><ellipse cx="156.5" cy="512.8" rx="3.9" ry="2.4" transform="rotate(104 156.5 512.8)" fill="#5062A8" fill-opacity="0.95"/><ellipse cx="164.1" cy="537.1" rx="4.1" ry="2.4" transform="rotate(102 164.1 537.1)" fill="#2E3E88" fill-opacity="0.94"/><ellipse cx="164.6" cy="520.8" rx="3.6" ry="2.7" transform="rotate(26 164.6 520.8)" fill="#3A4680" fill-opacity="0.92"/><ellipse cx="129.7" cy="494.5" rx="3.8" ry="2.3" transform="rotate(17 129.7 494.5)" fill="#2E3E88" fill-opacity="0.92"/><ellipse cx="177.0" cy="551.2" rx="3.3" ry="2.4" transform="rotate(139 177.0 551.2)" fill="#4458A0" fill-opacity="0.91"/><ellipse cx="150.1" cy="533.8" rx="3.8" ry="3.1" transform="rotate(110 150.1 533.8)" fill="#2A3470" fill-opacity="0.93"/><ellipse cx="146.1" cy="540.4" rx="2.7" ry="2.6" transform="rotate(131 146.1 540.4)" fill="#2E3E88" fill-opacity="0.93"/><ellipse cx="129.6" cy="537.4" rx="2.6" ry="2.1" transform="rotate(53 129.6 537.4)" fill="#4458A0" fill-opacity="0.95"/><ellipse cx="161.9" cy="501.3" rx="3.8" ry="3.1" transform="rotate(170 161.9 501.3)" fill="#6B5A60" fill-opacity="0.94"/><ellipse cx="183.7" cy="548.1" rx="3.6" ry="2.5" transform="rotate(125 183.7 548.1)" fill="#4458A0" fill-opacity="0.90"/><ellipse cx="177.4" cy="515.0" rx="4.0" ry="2.1" transform="rotate(41 177.4 515.0)" fill="#6B5A60" fill-opacity="0.92"/><ellipse cx="145.0" cy="506.3" rx="2.6" ry="2.2" transform="rotate(97 145.0 506.3)" fill="#4458A0" fill-opacity="0.85"/><ellipse cx="173.2" cy="552.1" rx="3.4" ry="3.1" transform="rotate(116 173.2 552.1)" fill="#5A6AAA" fill-opacity="0.96"/><ellipse cx="98.6" cy="476.3" rx="2.8" ry="2.5" transform="rotate(61 98.6 476.3)" fill="#3A4680" fill-opacity="0.91"/><ellipse cx="158.1" cy="479.5" rx="3.5" ry="2.5" transform="rotate(28 158.1 479.5)" fill="#4458A0" fill-opacity="0.91"/><ellipse cx="116.1" cy="523.1" rx="2.8" ry="2.2" transform="rotate(171 116.1 523.1)" fill="#4458A0" fill-opacity="0.92"/><ellipse cx="113.9" cy="531.3" rx="4.0" ry="2.4" transform="rotate(138 113.9 531.3)" fill="#5A6AAA" fill-opacity="0.92"/><ellipse cx="130.4" cy="505.5" rx="4.1" ry="2.0" transform="rotate(40 130.4 505.5)" fill="#6B5A60" fill-opacity="0.89"/><ellipse cx="139.6" cy="469.2" rx="3.3" ry="3.1" transform="rotate(125 139.6 469.2)" fill="#2E3E88" fill-opacity="0.95"/><ellipse cx="109.5" cy="526.0" rx="4.1" ry="2.4" transform="rotate(3 109.5 526.0)" fill="#6B5A60" fill-opacity="0.86"/><ellipse cx="118.7" cy="525.8" rx="3.4" ry="3.2" transform="rotate(99 118.7 525.8)" fill="#2A3470" fill-opacity="0.95"/><ellipse cx="118.6" cy="509.1" rx="3.2" ry="2.6" transform="rotate(115 118.6 509.1)" fill="#4458A0" fill-opacity="0.92"/><ellipse cx="110.3" cy="505.5" rx="3.2" ry="2.0" transform="rotate(122 110.3 505.5)" fill="#4458A0" fill-opacity="0.93"/><ellipse cx="95.0" cy="529.5" rx="2.6" ry="2.2" transform="rotate(37 95.0 529.5)" fill="#3A4C98" fill-opacity="0.97"/><ellipse cx="99.4" cy="468.0" rx="4.1" ry="3.1" transform="rotate(21 99.4 468.0)" fill="#6B5A60" fill-opacity="0.85"/><ellipse cx="133.9" cy="478.1" rx="4.1" ry="2.7" transform="rotate(179 133.9 478.1)" fill="#3A4680" fill-opacity="0.85"/><ellipse cx="162.7" cy="504.9" rx="3.5" ry="2.2" transform="rotate(4 162.7 504.9)" fill="#3A4680" fill-opacity="0.90"/><ellipse cx="116.0" cy="526.1" rx="3.8" ry="2.0" transform="rotate(121 116.0 526.1)" fill="#2E3E88" fill-opacity="0.97"/><ellipse cx="149.4" cy="517.4" rx="2.7" ry="2.6" transform="rotate(9 149.4 517.4)" fill="#2E3E88" fill-opacity="0.86"/><ellipse cx="130.0" cy="543.1" rx="2.7" ry="2.5" transform="rotate(69 130.0 543.1)" fill="#2A3470" fill-opacity="0.89"/><ellipse cx="148.2" cy="532.2" rx="3.2" ry="2.8" transform="rotate(125 148.2 532.2)" fill="#4458A0" fill-opacity="0.87"/><ellipse cx="115.1" cy="541.1" rx="3.4" ry="2.3" transform="rotate(117 115.1 541.1)" fill="#5062A8" fill-opacity="0.96"/><ellipse cx="104.6" cy="488.3" rx="3.4" ry="3.0" transform="rotate(178 104.6 488.3)" fill="#4458A0" fill-opacity="0.86"/><ellipse cx="149.9" cy="506.0" rx="3.8" ry="2.8" transform="rotate(97 149.9 506.0)" fill="#2E3E88" fill-opacity="0.87"/><ellipse cx="145.8" cy="534.5" rx="3.4" ry="2.1" transform="rotate(63 145.8 534.5)" fill="#3A4C98" fill-opacity="0.85"/><ellipse cx="181.6" cy="464.0" rx="3.0" ry="2.5" transform="rotate(30 181.6 464.0)" fill="#3A4680" fill-opacity="0.94"/><ellipse cx="134.6" cy="536.5" rx="2.8" ry="3.1" transform="rotate(173 134.6 536.5)" fill="#5062A8" fill-opacity="0.92"/><ellipse cx="136.8" cy="477.7" rx="3.0" ry="2.8" transform="rotate(59 136.8 477.7)" fill="#6B5A60" fill-opacity="0.89"/><ellipse cx="184.9" cy="532.5" rx="3.5" ry="3.0" transform="rotate(144 184.9 532.5)" fill="#5A6AAA" fill-opacity="0.95"/><ellipse cx="132.7" cy="522.5" rx="3.3" ry="3.0" transform="rotate(1 132.7 522.5)" fill="#4458A0" fill-opacity="0.91"/><ellipse cx="116.3" cy="468.6" rx="3.7" ry="2.5" transform="rotate(155 116.3 468.6)" fill="#4458A0" fill-opacity="0.88"/><ellipse cx="175.0" cy="508.8" rx="4.1" ry="3.1" transform="rotate(155 175.0 508.8)" fill="#6B5A60" fill-opacity="0.88"/><ellipse cx="123.0" cy="512.7" rx="3.4" ry="2.7" transform="rotate(5 123.0 512.7)" fill="#2A3470" fill-opacity="0.90"/><ellipse cx="185.0" cy="525.3" rx="2.8" ry="2.8" transform="rotate(15 185.0 525.3)" fill="#5A6AAA" fill-opacity="0.96"/><ellipse cx="100.7" cy="469.8" rx="3.1" ry="2.6" transform="rotate(71 100.7 469.8)" fill="#5062A8" fill-opacity="0.92"/><ellipse cx="109.9" cy="462.4" rx="4.1" ry="3.1" transform="rotate(50 109.9 462.4)" fill="#5A6AAA" fill-opacity="0.86"/><ellipse cx="170.2" cy="544.2" rx="4.2" ry="2.1" transform="rotate(175 170.2 544.2)" fill="#4458A0" fill-opacity="0.90"/><ellipse cx="119.6" cy="506.3" rx="3.3" ry="3.1" transform="rotate(82 119.6 506.3)" fill="#6B5A60" fill-opacity="0.95"/><ellipse cx="155.6" cy="507.5" rx="3.5" ry="2.9" transform="rotate(135 155.6 507.5)" fill="#4458A0" fill-opacity="0.95"/><ellipse cx="118.6" cy="491.4" rx="3.2" ry="2.3" transform="rotate(128 118.6 491.4)" fill="#3A4C98" fill-opacity="0.86"/><ellipse cx="147.8" cy="508.5" rx="3.9" ry="3.1" transform="rotate(3 147.8 508.5)" fill="#5062A8" fill-opacity="0.91"/><ellipse cx="115.1" cy="505.8" rx="3.6" ry="2.1" transform="rotate(111 115.1 505.8)" fill="#5A6AAA" fill-opacity="0.88"/><ellipse cx="125.9" cy="495.9" rx="3.1" ry="2.5" transform="rotate(23 125.9 495.9)" fill="#2A3470" fill-opacity="0.93"/><ellipse cx="122.3" cy="467.4" rx="3.4" ry="2.4" transform="rotate(40 122.3 467.4)" fill="#6B5A60" fill-opacity="0.91"/><ellipse cx="177.7" cy="523.3" rx="2.6" ry="3.1" transform="rotate(5 177.7 523.3)" fill="#5A6AAA" fill-opacity="0.89"/><ellipse cx="100.2" cy="512.4" rx="3.0" ry="3.1" transform="rotate(10 100.2 512.4)" fill="#5A6AAA" fill-opacity="0.85"/><ellipse cx="156.8" cy="478.6" rx="3.5" ry="3.0" transform="rotate(11 156.8 478.6)" fill="#5A6AAA" fill-opacity="0.95"/><ellipse cx="132.5" cy="509.6" rx="3.2" ry="3.0" transform="rotate(174 132.5 509.6)" fill="#6B5A60" fill-opacity="0.95"/><ellipse cx="186.6" cy="510.2" rx="3.3" ry="3.1" transform="rotate(160 186.6 510.2)" fill="#3A4C98" fill-opacity="0.94"/><ellipse cx="99.1" cy="538.8" rx="3.5" ry="2.6" transform="rotate(128 99.1 538.8)" fill="#5A6AAA" fill-opacity="0.88"/><ellipse cx="109.3" cy="552.7" rx="3.9" ry="3.0" transform="rotate(70 109.3 552.7)" fill="#4458A0" fill-opacity="0.87"/><ellipse cx="174.3" cy="515.1" rx="4.1" ry="2.8" transform="rotate(137 174.3 515.1)" fill="#5A6AAA" fill-opacity="0.91"/><ellipse cx="104.9" cy="551.3" rx="2.6" ry="3.0" transform="rotate(179 104.9 551.3)" fill="#2E3E88" fill-opacity="0.92"/><ellipse cx="106.0" cy="460.9" rx="3.0" ry="3.0" transform="rotate(68 106.0 460.9)" fill="#3A4680" fill-opacity="0.87"/><ellipse cx="157.2" cy="473.7" rx="3.6" ry="2.1" transform="rotate(175 157.2 473.7)" fill="#3A4680" fill-opacity="0.88"/><ellipse cx="137.8" cy="514.9" rx="2.8" ry="2.8" transform="rotate(48 137.8 514.9)" fill="#4458A0" fill-opacity="0.85"/><ellipse cx="171.5" cy="511.6" rx="4.0" ry="2.8" transform="rotate(9 171.5 511.6)" fill="#5062A8" fill-opacity="0.86"/><ellipse cx="171.4" cy="539.6" rx="3.1" ry="2.6" transform="rotate(25 171.4 539.6)" fill="#6B5A60" fill-opacity="0.97"/><ellipse cx="186.0" cy="535.7" rx="4.1" ry="2.5" transform="rotate(53 186.0 535.7)" fill="#6B5A60" fill-opacity="0.88"/><ellipse cx="117.2" cy="517.1" rx="3.2" ry="3.1" transform="rotate(25 117.2 517.1)" fill="#2A3470" fill-opacity="0.89"/><ellipse cx="93.1" cy="464.2" rx="3.2" ry="2.9" transform="rotate(165 93.1 464.2)" fill="#2A3470" fill-opacity="0.89"/><ellipse cx="131.0" cy="497.5" rx="3.9" ry="2.8" transform="rotate(27 131.0 497.5)" fill="#3A4680" fill-opacity="0.94"/><ellipse cx="100.3" cy="532.1" rx="3.8" ry="2.4" transform="rotate(80 100.3 532.1)" fill="#5062A8" fill-opacity="0.93"/><ellipse cx="114.3" cy="494.0" rx="3.1" ry="2.0" transform="rotate(109 114.3 494.0)" fill="#5A6AAA" fill-opacity="0.86"/><ellipse cx="154.0" cy="543.9" rx="3.1" ry="2.5" transform="rotate(131 154.0 543.9)" fill="#2E3E88" fill-opacity="0.95"/><ellipse cx="120.2" cy="529.0" rx="2.7" ry="2.2" transform="rotate(132 120.2 529.0)" fill="#5062A8" fill-opacity="0.93"/><ellipse cx="131.7" cy="470.0" rx="3.3" ry="2.0" transform="rotate(85 131.7 470.0)" fill="#4458A0" fill-opacity="0.89"/><ellipse cx="102.0" cy="525.1" rx="3.1" ry="3.2" transform="rotate(145 102.0 525.1)" fill="#3A4680" fill-opacity="0.92"/><ellipse cx="167.9" cy="529.4" rx="4.1" ry="3.1" transform="rotate(35 167.9 529.4)" fill="#5062A8" fill-opacity="0.89"/><ellipse cx="154.5" cy="501.8" rx="3.2" ry="2.5" transform="rotate(175 154.5 501.8)" fill="#2A3470" fill-opacity="0.95"/><ellipse cx="173.9" cy="544.1" rx="2.8" ry="2.2" transform="rotate(134 173.9 544.1)" fill="#6B5A60" fill-opacity="0.92"/><ellipse cx="102.4" cy="543.2" rx="3.7" ry="3.2" transform="rotate(164 102.4 543.2)" fill="#2A3470" fill-opacity="0.92"/><ellipse cx="177.3" cy="462.2" rx="4.0" ry="2.2" transform="rotate(142 177.3 462.2)" fill="#5062A8" fill-opacity="0.88"/><ellipse cx="185.5" cy="508.4" rx="3.2" ry="3.0" transform="rotate(119 185.5 508.4)" fill="#2E3E88" fill-opacity="0.93"/><ellipse cx="146.7" cy="528.7" rx="3.8" ry="2.9" transform="rotate(5 146.7 528.7)" fill="#4458A0" fill-opacity="0.97"/><ellipse cx="159.2" cy="513.1" rx="2.8" ry="2.6" transform="rotate(79 159.2 513.1)" fill="#2E3E88" fill-opacity="0.86"/><ellipse cx="119.6" cy="513.7" rx="3.1" ry="2.5" transform="rotate(169 119.6 513.7)" fill="#2E3E88" fill-opacity="0.89"/><ellipse cx="168.5" cy="481.3" rx="2.7" ry="2.9" transform="rotate(152 168.5 481.3)" fill="#6B5A60" fill-opacity="0.88"/><ellipse cx="112.3" cy="551.4" rx="3.3" ry="2.4" transform="rotate(102 112.3 551.4)" fill="#5A6AAA" fill-opacity="0.87"/><ellipse cx="148.4" cy="487.9" rx="3.3" ry="2.3" transform="rotate(50 148.4 487.9)" fill="#5A6AAA" fill-opacity="0.89"/><ellipse cx="125.5" cy="464.1" rx="3.7" ry="3.0" transform="rotate(130 125.5 464.1)" fill="#3A4680" fill-opacity="0.89"/><ellipse cx="168.8" cy="526.6" rx="4.1" ry="3.0" transform="rotate(47 168.8 526.6)" fill="#6B5A60" fill-opacity="0.90"/><ellipse cx="109.0" cy="484.3" rx="3.4" ry="2.8" transform="rotate(56 109.0 484.3)" fill="#2A3470" fill-opacity="0.91"/><ellipse cx="150.7" cy="549.6" rx="3.4" ry="2.7" transform="rotate(35 150.7 549.6)" fill="#2A3470" fill-opacity="0.94"/><ellipse cx="149.2" cy="531.3" rx="3.5" ry="2.6" transform="rotate(161 149.2 531.3)" fill="#3A4680" fill-opacity="0.97"/><ellipse cx="123.6" cy="493.2" rx="3.8" ry="2.4" transform="rotate(79 123.6 493.2)" fill="#5A6AAA" fill-opacity="0.88"/><ellipse cx="179.0" cy="486.8" rx="2.7" ry="2.4" transform="rotate(26 179.0 486.8)" fill="#3A4680" fill-opacity="0.88"/><ellipse cx="141.7" cy="525.2" rx="3.7" ry="3.1" transform="rotate(15 141.7 525.2)" fill="#5A6AAA" fill-opacity="0.88"/><ellipse cx="170.2" cy="549.7" rx="3.6" ry="2.3" transform="rotate(14 170.2 549.7)" fill="#2A3470" fill-opacity="0.88"/><ellipse cx="181.7" cy="506.1" rx="3.5" ry="2.4" transform="rotate(115 181.7 506.1)" fill="#3A4C98" fill-opacity="0.87"/><ellipse cx="162.3" cy="481.9" rx="3.3" ry="3.1" transform="rotate(177 162.3 481.9)" fill="#2A3470" fill-opacity="0.90"/><ellipse cx="157.0" cy="551.2" rx="2.7" ry="3.1" transform="rotate(114 157.0 551.2)" fill="#6B5A60" fill-opacity="0.90"/><ellipse cx="107.4" cy="462.3" rx="3.1" ry="2.1" transform="rotate(104 107.4 462.3)" fill="#2A3470" fill-opacity="0.86"/><ellipse cx="160.7" cy="498.4" rx="3.1" ry="2.4" transform="rotate(121 160.7 498.4)" fill="#2E3E88" fill-opacity="0.86"/><ellipse cx="155.3" cy="525.2" rx="3.5" ry="2.8" transform="rotate(52 155.3 525.2)" fill="#2A3470" fill-opacity="0.88"/><ellipse cx="153.2" cy="505.7" rx="3.1" ry="2.2" transform="rotate(92 153.2 505.7)" fill="#6B5A60" fill-opacity="0.96"/><ellipse cx="119.8" cy="547.3" rx="3.9" ry="2.0" transform="rotate(62 119.8 547.3)" fill="#5062A8" fill-opacity="0.94"/><ellipse cx="111.6" cy="544.6" rx="3.8" ry="2.7" transform="rotate(106 111.6 544.6)" fill="#5A6AAA" fill-opacity="0.90"/><ellipse cx="177.3" cy="523.0" rx="3.1" ry="2.3" transform="rotate(168 177.3 523.0)" fill="#5062A8" fill-opacity="0.90"/><ellipse cx="117.6" cy="540.8" rx="2.8" ry="2.9" transform="rotate(114 117.6 540.8)" fill="#3A4C98" fill-opacity="0.96"/><ellipse cx="172.7" cy="508.3" rx="2.7" ry="2.1" transform="rotate(35 172.7 508.3)" fill="#2A3470" fill-opacity="0.93"/><ellipse cx="138.5" cy="477.9" rx="3.7" ry="2.7" transform="rotate(98 138.5 477.9)" fill="#3A4C98" fill-opacity="0.87"/><ellipse cx="138.3" cy="500.4" rx="3.9" ry="3.1" transform="rotate(163 138.3 500.4)" fill="#4458A0" fill-opacity="0.86"/><ellipse cx="159.9" cy="539.5" rx="3.7" ry="2.5" transform="rotate(85 159.9 539.5)" fill="#5062A8" fill-opacity="0.97"/><ellipse cx="110.2" cy="494.7" rx="3.7" ry="2.1" transform="rotate(120 110.2 494.7)" fill="#3A4680" fill-opacity="0.91"/><ellipse cx="131.8" cy="546.5" rx="3.0" ry="2.5" transform="rotate(144 131.8 546.5)" fill="#2A3470" fill-opacity="0.90"/><ellipse cx="112.3" cy="494.1" rx="3.4" ry="3.2" transform="rotate(88 112.3 494.1)" fill="#5A6AAA" fill-opacity="0.85"/><ellipse cx="177.0" cy="508.2" rx="3.1" ry="3.0" transform="rotate(28 177.0 508.2)" fill="#3A4C98" fill-opacity="0.92"/><ellipse cx="165.6" cy="515.4" rx="3.8" ry="3.1" transform="rotate(15 165.6 515.4)" fill="#2E3E88" fill-opacity="0.91"/><ellipse cx="144.2" cy="494.6" rx="4.0" ry="2.3" transform="rotate(108 144.2 494.6)" fill="#5062A8" fill-opacity="0.93"/><ellipse cx="174.0" cy="533.5" rx="2.9" ry="3.2" transform="rotate(91 174.0 533.5)" fill="#2A3470" fill-opacity="0.86"/><ellipse cx="125.8" cy="514.0" rx="2.6" ry="2.2" transform="rotate(55 125.8 514.0)" fill="#2A3470" fill-opacity="0.95"/><ellipse cx="98.5" cy="526.1" rx="3.8" ry="2.9" transform="rotate(52 98.5 526.1)" fill="#5A6AAA" fill-opacity="0.89"/><ellipse cx="157.1" cy="487.2" rx="3.5" ry="3.1" transform="rotate(25 157.1 487.2)" fill="#6B5A60" fill-opacity="0.90"/><ellipse cx="186.0" cy="460.9" rx="2.6" ry="2.5" transform="rotate(48 186.0 460.9)" fill="#3A4C98" fill-opacity="0.92"/><ellipse cx="102.8" cy="525.4" rx="2.6" ry="2.3" transform="rotate(90 102.8 525.4)" fill="#2E3E88" fill-opacity="0.91"/><ellipse cx="99.0" cy="498.6" rx="4.2" ry="2.0" transform="rotate(7 99.0 498.6)" fill="#5A6AAA" fill-opacity="0.94"/><ellipse cx="104.5" cy="478.4" rx="3.5" ry="2.9" transform="rotate(15 104.5 478.4)" fill="#3A4C98" fill-opacity="0.95"/><ellipse cx="183.2" cy="467.6" rx="3.8" ry="3.2" transform="rotate(175 183.2 467.6)" fill="#5062A8" fill-opacity="0.96"/><ellipse cx="114.0" cy="529.5" rx="3.7" ry="2.7" transform="rotate(106 114.0 529.5)" fill="#6B5A60" fill-opacity="0.96"/><ellipse cx="117.0" cy="506.7" rx="4.0" ry="2.3" transform="rotate(161 117.0 506.7)" fill="#3A4C98" fill-opacity="0.87"/><ellipse cx="175.4" cy="533.7" rx="3.0" ry="2.3" transform="rotate(163 175.4 533.7)" fill="#5062A8" fill-opacity="0.89"/><ellipse cx="181.9" cy="540.3" rx="3.7" ry="2.3" transform="rotate(24 181.9 540.3)" fill="#5062A8" fill-opacity="0.97"/><ellipse cx="103.6" cy="489.1" rx="3.2" ry="3.0" transform="rotate(147 103.6 489.1)" fill="#3A4C98" fill-opacity="0.95"/><ellipse cx="99.5" cy="500.4" rx="3.2" ry="2.0" transform="rotate(176 99.5 500.4)" fill="#3A4680" fill-opacity="0.91"/><ellipse cx="105.6" cy="473.4" rx="3.5" ry="3.1" transform="rotate(144 105.6 473.4)" fill="#2A3470" fill-opacity="0.89"/><ellipse cx="95.5" cy="505.8" rx="4.0" ry="2.8" transform="rotate(132 95.5 505.8)" fill="#6B5A60" fill-opacity="0.91"/><ellipse cx="97.9" cy="489.2" rx="3.7" ry="2.3" transform="rotate(105 97.9 489.2)" fill="#5A6AAA" fill-opacity="0.91"/><ellipse cx="174.1" cy="541.9" rx="3.4" ry="2.4" transform="rotate(100 174.1 541.9)" fill="#2A3470" fill-opacity="0.96"/><ellipse cx="142.0" cy="549.5" rx="3.0" ry="3.1" transform="rotate(26 142.0 549.5)" fill="#4458A0" fill-opacity="0.89"/><ellipse cx="160.2" cy="475.6" rx="4.1" ry="2.6" transform="rotate(141 160.2 475.6)" fill="#3A4680" fill-opacity="0.95"/><ellipse cx="142.7" cy="513.0" rx="3.8" ry="3.1" transform="rotate(56 142.7 513.0)" fill="#6B5A60" fill-opacity="0.89"/><ellipse cx="169.2" cy="472.3" rx="3.3" ry="2.5" transform="rotate(72 169.2 472.3)" fill="#3A4680" fill-opacity="0.91"/><ellipse cx="177.4" cy="539.7" rx="4.1" ry="2.7" transform="rotate(118 177.4 539.7)" fill="#5062A8" fill-opacity="0.89"/><ellipse cx="134.6" cy="469.6" rx="3.8" ry="2.9" transform="rotate(52 134.6 469.6)" fill="#3A4C98" fill-opacity="0.87"/><ellipse cx="114.8" cy="542.7" rx="3.6" ry="2.3" transform="rotate(52 114.8 542.7)" fill="#5A6AAA" fill-opacity="0.89"/><ellipse cx="172.3" cy="535.3" rx="4.0" ry="3.0" transform="rotate(80 172.3 535.3)" fill="#5A6AAA" fill-opacity="0.96"/><ellipse cx="108.0" cy="494.9" rx="3.8" ry="3.1" transform="rotate(118 108.0 494.9)" fill="#5062A8" fill-opacity="0.93"/><ellipse cx="147.3" cy="509.5" rx="3.5" ry="2.4" transform="rotate(69 147.3 509.5)" fill="#4458A0" fill-opacity="0.90"/><ellipse cx="142.3" cy="534.3" rx="3.1" ry="2.3" transform="rotate(165 142.3 534.3)" fill="#2E3E88" fill-opacity="0.90"/><ellipse cx="121.5" cy="549.2" rx="3.2" ry="2.5" transform="rotate(69 121.5 549.2)" fill="#5A6AAA" fill-opacity="0.94"/><ellipse cx="177.3" cy="515.5" rx="3.4" ry="2.0" transform="rotate(152 177.3 515.5)" fill="#2E3E88" fill-opacity="0.94"/><ellipse cx="119.6" cy="524.5" rx="3.5" ry="2.7" transform="rotate(30 119.6 524.5)" fill="#5A6AAA" fill-opacity="0.91"/><ellipse cx="109.1" cy="512.7" rx="2.7" ry="2.7" transform="rotate(139 109.1 512.7)" fill="#3A4C98" fill-opacity="0.94"/><ellipse cx="171.7" cy="504.3" rx="4.1" ry="2.8" transform="rotate(165 171.7 504.3)" fill="#2A3470" fill-opacity="0.91"/><ellipse cx="137.4" cy="489.9" rx="3.0" ry="2.0" transform="rotate(14 137.4 489.9)" fill="#2E3E88" fill-opacity="0.88"/><ellipse cx="142.5" cy="529.8" rx="3.3" ry="2.5" transform="rotate(158 142.5 529.8)" fill="#3A4C98" fill-opacity="0.87"/><ellipse cx="155.4" cy="530.7" rx="3.4" ry="3.0" transform="rotate(13 155.4 530.7)" fill="#3A4680" fill-opacity="0.87"/><ellipse cx="161.7" cy="516.4" rx="3.3" ry="2.2" transform="rotate(18 161.7 516.4)" fill="#5A6AAA" fill-opacity="0.97"/><ellipse cx="138.2" cy="517.5" rx="3.9" ry="2.5" transform="rotate(85 138.2 517.5)" fill="#3A4C98" fill-opacity="0.95"/><ellipse cx="143.8" cy="543.5" rx="3.4" ry="2.8" transform="rotate(33 143.8 543.5)" fill="#2E3E88" fill-opacity="0.93"/><ellipse cx="164.1" cy="532.1" rx="2.9" ry="3.0" transform="rotate(173 164.1 532.1)" fill="#5A6AAA" fill-opacity="0.90"/><ellipse cx="121.7" cy="495.4" rx="4.0" ry="2.4" transform="rotate(45 121.7 495.4)" fill="#4458A0" fill-opacity="0.91"/><ellipse cx="181.5" cy="514.1" rx="3.9" ry="2.1" transform="rotate(65 181.5 514.1)" fill="#3A4680" fill-opacity="0.85"/><ellipse cx="122.4" cy="485.5" rx="3.6" ry="2.4" transform="rotate(58 122.4 485.5)" fill="#5A6AAA" fill-opacity="0.86"/><ellipse cx="105.1" cy="467.7" rx="3.4" ry="2.8" transform="rotate(151 105.1 467.7)" fill="#5A6AAA" fill-opacity="0.93"/><ellipse cx="141.2" cy="516.3" rx="2.6" ry="3.0" transform="rotate(37 141.2 516.3)" fill="#5A6AAA" fill-opacity="0.92"/><ellipse cx="114.6" cy="545.1" rx="4.2" ry="2.3" transform="rotate(82 114.6 545.1)" fill="#3A4C98" fill-opacity="0.95"/><ellipse cx="183.2" cy="508.7" rx="3.3" ry="2.9" transform="rotate(31 183.2 508.7)" fill="#2A3470" fill-opacity="0.95"/><ellipse cx="167.9" cy="503.4" rx="2.9" ry="2.1" transform="rotate(77 167.9 503.4)" fill="#5A6AAA" fill-opacity="0.89"/><ellipse cx="123.4" cy="527.3" rx="3.1" ry="2.3" transform="rotate(174 123.4 527.3)" fill="#4458A0" fill-opacity="0.91"/><ellipse cx="175.3" cy="521.3" rx="2.8" ry="2.6" transform="rotate(121 175.3 521.3)" fill="#5A6AAA" fill-opacity="0.93"/><ellipse cx="100.4" cy="463.8" rx="2.8" ry="2.9" transform="rotate(162 100.4 463.8)" fill="#2E3E88" fill-opacity="0.92"/><ellipse cx="125.2" cy="536.2" rx="4.0" ry="2.6" transform="rotate(168 125.2 536.2)" fill="#5A6AAA" fill-opacity="0.91"/><ellipse cx="93.5" cy="521.1" rx="3.0" ry="3.0" transform="rotate(95 93.5 521.1)" fill="#5062A8" fill-opacity="0.86"/><ellipse cx="97.8" cy="479.2" rx="3.0" ry="2.4" transform="rotate(28 97.8 479.2)" fill="#2A3470" fill-opacity="0.96"/><ellipse cx="101.4" cy="530.9" rx="3.6" ry="2.3" transform="rotate(85 101.4 530.9)" fill="#3A4C98" fill-opacity="0.92"/><ellipse cx="180.4" cy="551.3" rx="4.1" ry="2.2" transform="rotate(21 180.4 551.3)" fill="#3A4680" fill-opacity="0.93"/><ellipse cx="138.9" cy="475.2" rx="3.3" ry="2.7" transform="rotate(24 138.9 475.2)" fill="#6B5A60" fill-opacity="0.92"/><ellipse cx="147.2" cy="528.0" rx="2.8" ry="2.9" transform="rotate(5 147.2 528.0)" fill="#3A4680" fill-opacity="0.89"/><ellipse cx="154.9" cy="541.8" rx="3.7" ry="2.9" transform="rotate(128 154.9 541.8)" fill="#5A6AAA" fill-opacity="0.97"/><ellipse cx="134.8" cy="488.6" rx="3.8" ry="2.4" transform="rotate(5 134.8 488.6)" fill="#3A4680" fill-opacity="0.95"/><ellipse cx="121.8" cy="534.9" rx="3.5" ry="2.2" transform="rotate(64 121.8 534.9)" fill="#3A4680" fill-opacity="0.85"/><ellipse cx="126.5" cy="538.6" rx="2.7" ry="2.7" transform="rotate(16 126.5 538.6)" fill="#2A3470" fill-opacity="0.90"/><ellipse cx="134.3" cy="466.9" rx="3.8" ry="3.1" transform="rotate(44 134.3 466.9)" fill="#5062A8" fill-opacity="0.95"/><ellipse cx="125.1" cy="549.2" rx="3.6" ry="2.3" transform="rotate(59 125.1 549.2)" fill="#3A4C98" fill-opacity="0.94"/><ellipse cx="150.0" cy="475.0" rx="4.1" ry="3.0" transform="rotate(103 150.0 475.0)" fill="#5062A8" fill-opacity="0.90"/><ellipse cx="101.2" cy="530.4" rx="3.7" ry="2.0" transform="rotate(25 101.2 530.4)" fill="#2A3470" fill-opacity="0.89"/><ellipse cx="133.6" cy="460.2" rx="3.9" ry="2.3" transform="rotate(61 133.6 460.2)" fill="#2E3E88" fill-opacity="0.89"/><ellipse cx="142.8" cy="538.7" rx="3.5" ry="2.3" transform="rotate(156 142.8 538.7)" fill="#5062A8" fill-opacity="0.89"/><ellipse cx="100.9" cy="519.9" rx="3.9" ry="2.1" transform="rotate(172 100.9 519.9)" fill="#6B5A60" fill-opacity="0.96"/><ellipse cx="184.1" cy="522.2" rx="3.6" ry="2.1" transform="rotate(55 184.1 522.2)" fill="#2E3E88" fill-opacity="0.88"/><ellipse cx="128.1" cy="462.7" rx="3.3" ry="3.1" transform="rotate(72 128.1 462.7)" fill="#5062A8" fill-opacity="0.86"/><ellipse cx="96.0" cy="471.5" rx="3.1" ry="2.7" transform="rotate(69 96.0 471.5)" fill="#5062A8" fill-opacity="0.85"/><ellipse cx="120.5" cy="496.0" rx="4.0" ry="2.0" transform="rotate(88 120.5 496.0)" fill="#2A3470" fill-opacity="0.88"/><ellipse cx="170.9" cy="542.4" rx="2.7" ry="2.9" transform="rotate(117 170.9 542.4)" fill="#2E3E88" fill-opacity="0.92"/><ellipse cx="120.9" cy="535.1" rx="2.9" ry="2.8" transform="rotate(83 120.9 535.1)" fill="#6B5A60" fill-opacity="0.91"/><ellipse cx="169.8" cy="548.4" rx="3.4" ry="2.1" transform="rotate(147 169.8 548.4)" fill="#6B5A60" fill-opacity="0.88"/><ellipse cx="148.2" cy="510.3" rx="3.1" ry="2.8" transform="rotate(45 148.2 510.3)" fill="#3A4680" fill-opacity="0.87"/><ellipse cx="160.3" cy="543.2" rx="3.6" ry="2.4" transform="rotate(123 160.3 543.2)" fill="#4458A0" fill-opacity="0.92"/><ellipse cx="122.4" cy="521.6" rx="3.1" ry="2.1" transform="rotate(180 122.4 521.6)" fill="#6B5A60" fill-opacity="0.97"/><ellipse cx="169.4" cy="534.4" rx="3.2" ry="3.1" transform="rotate(66 169.4 534.4)" fill="#3A4680" fill-opacity="0.91"/><ellipse cx="114.3" cy="530.6" rx="3.1" ry="2.9" transform="rotate(162 114.3 530.6)" fill="#5A6AAA" fill-opacity="0.86"/><ellipse cx="114.6" cy="501.6" rx="3.8" ry="2.9" transform="rotate(110 114.6 501.6)" fill="#2A3470" fill-opacity="0.86"/><ellipse cx="135.5" cy="489.5" rx="4.1" ry="3.2" transform="rotate(23 135.5 489.5)" fill="#3A4680" fill-opacity="0.92"/><ellipse cx="172.1" cy="531.6" rx="3.0" ry="2.6" transform="rotate(18 172.1 531.6)" fill="#3A4C98" fill-opacity="0.94"/><ellipse cx="180.6" cy="498.8" rx="3.2" ry="2.6" transform="rotate(141 180.6 498.8)" fill="#6B5A60" fill-opacity="0.88"/><ellipse cx="113.4" cy="495.3" rx="3.4" ry="3.1" transform="rotate(46 113.4 495.3)" fill="#4458A0" fill-opacity="0.88"/><ellipse cx="116.5" cy="534.2" rx="2.8" ry="2.1" transform="rotate(161 116.5 534.2)" fill="#3A4C98" fill-opacity="0.97"/><ellipse cx="109.0" cy="504.1" rx="2.6" ry="2.9" transform="rotate(178 109.0 504.1)" fill="#2A3470" fill-opacity="0.93"/><ellipse cx="116.9" cy="483.4" rx="4.0" ry="2.3" transform="rotate(81 116.9 483.4)" fill="#4458A0" fill-opacity="0.90"/><ellipse cx="105.7" cy="533.0" rx="3.0" ry="2.7" transform="rotate(74 105.7 533.0)" fill="#5062A8" fill-opacity="0.91"/><ellipse cx="105.4" cy="498.4" rx="3.5" ry="3.0" transform="rotate(85 105.4 498.4)" fill="#3A4680" fill-opacity="0.86"/><ellipse cx="126.2" cy="466.1" rx="3.4" ry="2.4" transform="rotate(62 126.2 466.1)" fill="#3A4C98" fill-opacity="0.90"/><ellipse cx="123.1" cy="467.6" rx="3.2" ry="3.0" transform="rotate(41 123.1 467.6)" fill="#6B5A60" fill-opacity="0.96"/><ellipse cx="144.5" cy="515.2" rx="3.8" ry="3.1" transform="rotate(161 144.5 515.2)" fill="#5062A8" fill-opacity="0.93"/><ellipse cx="107.8" cy="478.0" rx="3.6" ry="2.3" transform="rotate(63 107.8 478.0)" fill="#3A4680" fill-opacity="0.97"/></g>
</g>
<rect x="95.00" y="462.20" width="89.70" height="89.10" fill="none" stroke="#4A4444" stroke-width="0.8"/>
<clipPath id="k02"><rect x="1.2" y="555.0" width="89.60" height="89.70"/></clipPath>
<g clip-path="url(#k02)">
<rect x="1.20" y="555.00" width="89.60" height="89.70" fill="#F7F6F2"/>
<rect x="1.20" y="555.00" width="89.60" height="89.70" fill="#000" filter="url(#f020)"/>
<path d="M1.2,556.0 C2.5,550.3 7.4,554.3 9.0,556.0 C10.6,557.7 11.2,562.3 11.0,566.0 C10.8,569.7 9.2,574.3 8.0,578.0 C6.8,581.7 5.1,586.0 4.0,588.0 C2.9,590.0 1.7,595.3 1.2,590.0 C0.7,584.7 -0.1,561.7 1.2,556.0 Z" fill="#F7F6F2" filter="url(#rough)"/>
<path d="M22.0,566.0 C22.7,563.8 26.2,562.3 28.0,563.0 C29.8,563.7 32.7,567.5 33.0,570.0 C33.3,572.5 31.5,577.0 30.0,578.0 C28.5,579.0 25.3,578.0 24.0,576.0 C22.7,574.0 21.3,568.2 22.0,566.0 Z" fill="#F7F6F2" filter="url(#rough)"/>
<path d="M78.0,608.0 C79.2,603.3 81.9,602.0 84.0,600.0 C86.1,598.0 89.7,594.0 90.8,596.0 C91.9,598.0 91.6,607.0 90.8,612.0 C90.0,617.0 87.1,621.3 86.0,626.0 C84.9,630.7 85.2,637.3 84.0,640.0 C82.8,642.7 80.2,644.0 79.0,642.0 C77.8,640.0 77.2,633.7 77.0,628.0 C76.8,622.3 76.8,612.7 78.0,608.0 Z" fill="#F7F6F2" filter="url(#rough)"/>
<path d="M4.0,610.0 C5.0,609.8 7.0,613.3 9.0,616.0 C11.0,618.7 13.5,622.7 16.0,626.0 C18.5,629.3 21.7,632.9 24.0,636.0 C26.3,639.1 29.8,643.2 30.0,644.7 C30.2,646.2 27.2,646.2 25.0,644.7 C22.8,643.2 19.7,639.3 17.0,636.0 C14.3,632.7 11.3,628.2 9.0,625.0 C6.7,621.8 3.8,619.5 3.0,617.0 C2.2,614.5 3.0,610.2 4.0,610.0 Z" fill="#F7F6F2" filter="url(#rough)"/>
<path d="M30.0,628.0 C30.8,627.2 35.7,631.0 38.0,633.0 C40.3,635.0 43.7,638.2 44.0,640.0 C44.3,641.8 41.8,644.3 40.0,644.0 C38.2,643.7 34.7,640.7 33.0,638.0 C31.3,635.3 29.2,628.8 30.0,628.0 Z" fill="#F7F6F2" filter="url(#rough)"/>
</g>
<rect x="1.20" y="555.00" width="89.60" height="89.70" fill="none" stroke="#4A4444" stroke-width="0.8"/>
<line x1="91.00" y1="555.20" x2="70.00" y2="600.00" stroke="#222" stroke-width="0.6" stroke-dasharray="0.9,0.9"/>
<line x1="95.00" y1="644.50" x2="74.00" y2="628.00" stroke="#222" stroke-width="0.6" stroke-dasharray="0.9,0.9"/>
<clipPath id="k12"><rect x="95.0" y="555.0" width="89.70" height="89.70"/></clipPath>
<g clip-path="url(#k12)">
<rect x="95.00" y="555.00" width="89.70" height="89.70" fill="#F7F6F2"/>
<rect x="95.00" y="555.00" width="89.70" height="89.70" fill="#000" filter="url(#f120)"/>
<g filter="url(#soft)"><ellipse cx="184.7" cy="595.8" rx="4.9" ry="3.4" transform="rotate(39 184.7 595.8)" fill="#5A6488" fill-opacity="0.91"/><ellipse cx="162.3" cy="614.3" rx="4.4" ry="2.9" transform="rotate(122 162.3 614.3)" fill="#4A4A6A" fill-opacity="0.76"/><ellipse cx="113.8" cy="630.6" rx="3.5" ry="2.7" transform="rotate(19 113.8 630.6)" fill="#4E5A80" fill-opacity="0.85"/><ellipse cx="120.5" cy="622.9" rx="5.2" ry="3.2" transform="rotate(121 120.5 622.9)" fill="#4E5A80" fill-opacity="0.88"/><ellipse cx="146.6" cy="630.5" rx="3.9" ry="2.9" transform="rotate(104 146.6 630.5)" fill="#7080A8" fill-opacity="0.86"/><ellipse cx="137.5" cy="576.5" rx="4.0" ry="2.7" transform="rotate(178 137.5 576.5)" fill="#3E4A78" fill-opacity="0.90"/><ellipse cx="142.5" cy="619.4" rx="4.0" ry="3.1" transform="rotate(26 142.5 619.4)" fill="#4A4A6A" fill-opacity="0.84"/><ellipse cx="179.2" cy="598.1" rx="4.1" ry="3.6" transform="rotate(118 179.2 598.1)" fill="#3E4A78" fill-opacity="0.77"/><ellipse cx="138.5" cy="646.3" rx="5.5" ry="3.2" transform="rotate(139 138.5 646.3)" fill="#7080A8" fill-opacity="0.82"/><ellipse cx="94.9" cy="597.7" rx="4.7" ry="2.9" transform="rotate(131 94.9 597.7)" fill="#6A6A90" fill-opacity="0.88"/><ellipse cx="99.1" cy="594.7" rx="3.5" ry="3.3" transform="rotate(157 99.1 594.7)" fill="#5C5070" fill-opacity="0.79"/><ellipse cx="115.3" cy="573.5" rx="5.4" ry="2.6" transform="rotate(15 115.3 573.5)" fill="#7080A8" fill-opacity="0.81"/><ellipse cx="137.7" cy="584.0" rx="4.6" ry="3.3" transform="rotate(59 137.7 584.0)" fill="#7080A8" fill-opacity="0.86"/><ellipse cx="114.7" cy="561.9" rx="4.4" ry="3.0" transform="rotate(33 114.7 561.9)" fill="#6A6A90" fill-opacity="0.81"/><ellipse cx="169.5" cy="556.1" rx="4.7" ry="3.6" transform="rotate(170 169.5 556.1)" fill="#7080A8" fill-opacity="0.83"/><ellipse cx="105.5" cy="613.7" rx="5.0" ry="3.6" transform="rotate(112 105.5 613.7)" fill="#4A4A6A" fill-opacity="0.86"/><ellipse cx="108.3" cy="593.2" rx="4.0" ry="3.6" transform="rotate(52 108.3 593.2)" fill="#7080A8" fill-opacity="0.91"/><ellipse cx="143.6" cy="591.8" rx="4.0" ry="2.4" transform="rotate(146 143.6 591.8)" fill="#4A4A6A" fill-opacity="0.81"/><ellipse cx="167.4" cy="592.4" rx="3.7" ry="3.5" transform="rotate(161 167.4 592.4)" fill="#7080A8" fill-opacity="0.85"/><ellipse cx="154.9" cy="624.1" rx="4.6" ry="2.6" transform="rotate(166 154.9 624.1)" fill="#3E4A78" fill-opacity="0.81"/><ellipse cx="115.7" cy="596.2" rx="4.8" ry="3.6" transform="rotate(47 115.7 596.2)" fill="#5A6488" fill-opacity="0.86"/><ellipse cx="148.9" cy="617.4" rx="4.5" ry="3.3" transform="rotate(25 148.9 617.4)" fill="#4E5A80" fill-opacity="0.84"/><ellipse cx="173.6" cy="626.4" rx="5.0" ry="3.5" transform="rotate(46 173.6 626.4)" fill="#4E5A80" fill-opacity="0.79"/><ellipse cx="185.5" cy="561.5" rx="4.0" ry="2.9" transform="rotate(140 185.5 561.5)" fill="#6A6A90" fill-opacity="0.78"/><ellipse cx="155.5" cy="614.2" rx="4.5" ry="3.4" transform="rotate(176 155.5 614.2)" fill="#6A6A90" fill-opacity="0.77"/><ellipse cx="119.9" cy="610.4" rx="4.8" ry="2.8" transform="rotate(168 119.9 610.4)" fill="#4A4A6A" fill-opacity="0.82"/><ellipse cx="159.5" cy="614.8" rx="4.4" ry="2.6" transform="rotate(32 159.5 614.8)" fill="#3E4A78" fill-opacity="0.91"/><ellipse cx="149.9" cy="583.5" rx="4.1" ry="2.9" transform="rotate(36 149.9 583.5)" fill="#5A6488" fill-opacity="0.76"/><ellipse cx="183.9" cy="624.5" rx="5.1" ry="3.7" transform="rotate(26 183.9 624.5)" fill="#6A6A90" fill-opacity="0.90"/><ellipse cx="160.1" cy="578.7" rx="4.6" ry="3.6" transform="rotate(54 160.1 578.7)" fill="#6A6A90" fill-opacity="0.78"/><ellipse cx="161.7" cy="584.4" rx="5.0" ry="2.8" transform="rotate(80 161.7 584.4)" fill="#5C5070" fill-opacity="0.86"/><ellipse cx="96.0" cy="566.3" rx="5.0" ry="3.0" transform="rotate(176 96.0 566.3)" fill="#7080A8" fill-opacity="0.90"/><ellipse cx="166.3" cy="639.1" rx="4.7" ry="2.9" transform="rotate(173 166.3 639.1)" fill="#5A6488" fill-opacity="0.80"/><ellipse cx="103.3" cy="576.7" rx="5.3" ry="3.3" transform="rotate(8 103.3 576.7)" fill="#5A6488" fill-opacity="0.89"/><ellipse cx="186.5" cy="571.1" rx="4.0" ry="2.9" transform="rotate(19 186.5 571.1)" fill="#6A6A90" fill-opacity="0.87"/><ellipse cx="169.7" cy="578.3" rx="4.8" ry="2.7" transform="rotate(54 169.7 578.3)" fill="#4E5A80" fill-opacity="0.79"/><ellipse cx="120.4" cy="573.4" rx="5.2" ry="3.4" transform="rotate(106 120.4 573.4)" fill="#3E4A78" fill-opacity="0.89"/><ellipse cx="123.6" cy="560.9" rx="3.8" ry="3.0" transform="rotate(61 123.6 560.9)" fill="#4E5A80" fill-opacity="0.83"/><ellipse cx="167.0" cy="614.1" rx="5.0" ry="3.2" transform="rotate(48 167.0 614.1)" fill="#7080A8" fill-opacity="0.87"/><ellipse cx="186.6" cy="569.0" rx="4.0" ry="3.2" transform="rotate(113 186.6 569.0)" fill="#5C5070" fill-opacity="0.85"/><ellipse cx="161.1" cy="597.4" rx="4.5" ry="2.5" transform="rotate(9 161.1 597.4)" fill="#5A6488" fill-opacity="0.75"/><ellipse cx="143.2" cy="590.4" rx="4.9" ry="2.6" transform="rotate(178 143.2 590.4)" fill="#3E4A78" fill-opacity="0.91"/><ellipse cx="186.1" cy="622.1" rx="3.4" ry="2.7" transform="rotate(180 186.1 622.1)" fill="#7080A8" fill-opacity="0.87"/><ellipse cx="129.4" cy="633.4" rx="3.6" ry="3.4" transform="rotate(76 129.4 633.4)" fill="#5C5070" fill-opacity="0.83"/><ellipse cx="106.0" cy="555.4" rx="4.2" ry="3.7" transform="rotate(117 106.0 555.4)" fill="#5C5070" fill-opacity="0.85"/><ellipse cx="135.4" cy="614.2" rx="3.7" ry="3.1" transform="rotate(33 135.4 614.2)" fill="#4A4A6A" fill-opacity="0.80"/><ellipse cx="161.3" cy="553.4" rx="3.7" ry="3.5" transform="rotate(154 161.3 553.4)" fill="#6A6A90" fill-opacity="0.89"/><ellipse cx="183.3" cy="617.9" rx="3.4" ry="3.5" transform="rotate(123 183.3 617.9)" fill="#4A4A6A" fill-opacity="0.80"/><ellipse cx="140.4" cy="587.6" rx="4.6" ry="3.0" transform="rotate(68 140.4 587.6)" fill="#7080A8" fill-opacity="0.86"/><ellipse cx="95.0" cy="584.4" rx="4.5" ry="2.8" transform="rotate(153 95.0 584.4)" fill="#4A4A6A" fill-opacity="0.87"/><ellipse cx="110.1" cy="638.4" rx="4.5" ry="2.6" transform="rotate(38 110.1 638.4)" fill="#4A4A6A" fill-opacity="0.89"/><ellipse cx="114.9" cy="636.6" rx="3.5" ry="3.4" transform="rotate(114 114.9 636.6)" fill="#3E4A78" fill-opacity="0.81"/><ellipse cx="104.7" cy="614.7" rx="3.7" ry="3.4" transform="rotate(125 104.7 614.7)" fill="#3E4A78" fill-opacity="0.87"/><ellipse cx="163.4" cy="590.9" rx="5.1" ry="3.4" transform="rotate(29 163.4 590.9)" fill="#5C5070" fill-opacity="0.90"/><ellipse cx="155.8" cy="582.7" rx="4.6" ry="3.7" transform="rotate(162 155.8 582.7)" fill="#4E5A80" fill-opacity="0.81"/><ellipse cx="149.9" cy="610.0" rx="5.3" ry="2.9" transform="rotate(158 149.9 610.0)" fill="#3E4A78" fill-opacity="0.78"/><ellipse cx="104.6" cy="590.8" rx="4.8" ry="3.5" transform="rotate(12 104.6 590.8)" fill="#5C5070" fill-opacity="0.87"/><ellipse cx="169.9" cy="610.9" rx="4.2" ry="3.7" transform="rotate(166 169.9 610.9)" fill="#3E4A78" fill-opacity="0.92"/><ellipse cx="140.5" cy="585.7" rx="3.8" ry="3.1" transform="rotate(92 140.5 585.7)" fill="#6A6A90" fill-opacity="0.85"/><ellipse cx="129.1" cy="632.4" rx="4.4" ry="3.6" transform="rotate(8 129.1 632.4)" fill="#6A6A90" fill-opacity="0.91"/><ellipse cx="149.0" cy="568.4" rx="4.6" ry="2.5" transform="rotate(76 149.0 568.4)" fill="#5A6488" fill-opacity="0.81"/><ellipse cx="152.5" cy="566.8" rx="5.4" ry="2.8" transform="rotate(22 152.5 566.8)" fill="#6A6A90" fill-opacity="0.86"/><ellipse cx="149.4" cy="642.8" rx="3.7" ry="3.1" transform="rotate(98 149.4 642.8)" fill="#5A6488" fill-opacity="0.79"/><ellipse cx="183.3" cy="641.6" rx="4.3" ry="2.6" transform="rotate(119 183.3 641.6)" fill="#7080A8" fill-opacity="0.84"/><ellipse cx="173.6" cy="600.3" rx="3.6" ry="3.5" transform="rotate(42 173.6 600.3)" fill="#5C5070" fill-opacity="0.90"/><ellipse cx="125.9" cy="596.1" rx="5.1" ry="3.0" transform="rotate(36 125.9 596.1)" fill="#3E4A78" fill-opacity="0.79"/><ellipse cx="136.4" cy="602.8" rx="3.5" ry="3.6" transform="rotate(116 136.4 602.8)" fill="#4A4A6A" fill-opacity="0.91"/><ellipse cx="160.8" cy="567.3" rx="3.7" ry="2.9" transform="rotate(144 160.8 567.3)" fill="#4A4A6A" fill-opacity="0.82"/><ellipse cx="175.1" cy="573.0" rx="4.5" ry="2.9" transform="rotate(113 175.1 573.0)" fill="#4A4A6A" fill-opacity="0.85"/><ellipse cx="143.1" cy="635.7" rx="4.3" ry="3.2" transform="rotate(131 143.1 635.7)" fill="#4E5A80" fill-opacity="0.84"/><ellipse cx="176.4" cy="636.8" rx="4.4" ry="3.3" transform="rotate(40 176.4 636.8)" fill="#5A6488" fill-opacity="0.80"/><ellipse cx="173.0" cy="587.9" rx="3.9" ry="3.2" transform="rotate(54 173.0 587.9)" fill="#5C5070" fill-opacity="0.90"/><ellipse cx="96.0" cy="645.2" rx="5.3" ry="2.6" transform="rotate(119 96.0 645.2)" fill="#5C5070" fill-opacity="0.83"/><ellipse cx="105.2" cy="600.2" rx="3.8" ry="3.5" transform="rotate(28 105.2 600.2)" fill="#6A6A90" fill-opacity="0.82"/><ellipse cx="119.9" cy="597.0" rx="4.5" ry="3.0" transform="rotate(17 119.9 597.0)" fill="#3E4A78" fill-opacity="0.87"/><ellipse cx="106.6" cy="635.3" rx="3.6" ry="2.8" transform="rotate(76 106.6 635.3)" fill="#3E4A78" fill-opacity="0.85"/><ellipse cx="114.3" cy="626.4" rx="3.8" ry="2.6" transform="rotate(5 114.3 626.4)" fill="#7080A8" fill-opacity="0.82"/><ellipse cx="164.9" cy="575.0" rx="4.0" ry="3.4" transform="rotate(106 164.9 575.0)" fill="#5C5070" fill-opacity="0.81"/><ellipse cx="168.0" cy="578.0" rx="5.0" ry="3.4" transform="rotate(137 168.0 578.0)" fill="#4A4A6A" fill-opacity="0.84"/><ellipse cx="117.6" cy="568.0" rx="3.5" ry="3.2" transform="rotate(106 117.6 568.0)" fill="#5A6488" fill-opacity="0.76"/></g>
<path d="M95.0,566.0 C95.5,563.3 97.8,560.8 100.0,560.0 C102.2,559.2 106.3,559.7 108.0,561.0 C109.7,562.3 110.7,565.8 110.0,568.0 C109.3,570.2 106.2,572.7 104.0,574.0 C101.8,575.3 98.5,577.3 97.0,576.0 C95.5,574.7 94.5,568.7 95.0,566.0 Z" fill="#F7F6F2" filter="url(#rough)"/>
<path d="M100.0,580.0 C101.3,578.2 107.0,576.7 110.0,577.0 C113.0,577.3 117.7,580.2 118.0,582.0 C118.3,583.8 114.7,587.0 112.0,588.0 C109.3,589.0 104.0,589.3 102.0,588.0 C100.0,586.7 98.7,581.8 100.0,580.0 Z" fill="#F7F6F2" filter="url(#rough)"/>
<path d="M120.0,556.0 C121.3,555.3 127.0,556.7 128.0,558.0 C129.0,559.3 127.3,563.3 126.0,564.0 C124.7,564.7 121.0,563.3 120.0,562.0 C119.0,560.7 118.7,556.7 120.0,556.0 Z" fill="#F7F6F2" filter="url(#rough)"/>
</g>
<rect x="95.00" y="555.00" width="89.70" height="89.70" fill="none" stroke="#4A4444" stroke-width="0.8"/>
<clipPath id="k20"><rect x="197.5" y="369.0" width="89.70" height="89.50"/></clipPath>
<g clip-path="url(#k20)">
<rect x="197.50" y="369.00" width="89.70" height="89.50" fill="#F7F6F2"/>
<mask id="m200" maskUnits="userSpaceOnUse" x="192.5" y="364.0" width="99.69999999999999" height="99.5"><path d="M204,389 C212,379 228,372 240,370.7 C250,371 262,376 271,383.5 C279,392 285,405 286.7,419 C286,433 280,445 271,450.6 C266,452 262,452 256,451 L246,449 L236,447 L228,444 L226,420 L225,400 L215,396 L204,395 Z" fill="#fff" filter="url(#mblur)"/></mask>
<g mask="url(#m200)">
<rect x="197.50" y="369.00" width="89.70" height="89.50" fill="#000" filter="url(#f200)"/>
</g>
<mask id="m201" maskUnits="userSpaceOnUse" x="192.5" y="364.0" width="99.69999999999999" height="99.5"><path d="M192.5,394.0 C194.8,382.6 201.8,394.3 206.0,395.0 C210.2,395.7 214.3,396.8 218.0,398.0 C221.7,399.2 225.5,399.7 228.0,402.0 C230.5,404.3 232.3,407.7 233.0,412.0 C233.7,416.3 232.5,423.0 232.0,428.0 C231.5,433.0 231.3,438.3 230.0,442.0 C228.7,445.7 226.7,447.8 224.0,450.0 C221.3,452.2 217.3,452.8 214.0,455.0 C210.7,457.2 207.6,462.1 204.0,463.5 C200.4,464.9 194.4,475.1 192.5,463.5 C190.6,451.9 190.2,405.4 192.5,394.0 Z" fill="#fff" filter="url(#mblur)"/></mask>
<g mask="url(#m201)">
<rect x="197.50" y="369.00" width="89.70" height="89.50" fill="#000" filter="url(#f201)"/>
</g>
<mask id="m202" maskUnits="userSpaceOnUse" x="192.5" y="364.0" width="99.69999999999999" height="99.5"><path d="M222.0,449.0 C225.0,446.4 234.0,447.7 240.0,448.0 C246.0,448.3 253.7,450.3 258.0,451.0 C262.3,451.7 264.3,449.9 266.0,452.0 C267.7,454.1 275.3,461.6 268.0,463.5 C260.7,465.4 229.7,465.9 222.0,463.5 C214.3,461.1 219.0,451.6 222.0,449.0 Z" fill="#fff" filter="url(#mblur)"/></mask>
<g mask="url(#m202)">
<rect x="197.50" y="369.00" width="89.70" height="89.50" fill="#000" filter="url(#f202)"/>
</g>
<path d="M229.0,399.0 C231.3,397.2 236.7,396.8 240.0,397.0 C243.3,397.2 247.0,397.8 249.0,400.0 C251.0,402.2 251.8,405.8 252.0,410.0 C252.2,414.2 250.0,420.0 250.0,425.0 C250.0,430.0 252.3,436.3 252.0,440.0 C251.7,443.7 250.3,445.8 248.0,447.0 C245.7,448.2 240.5,448.2 238.0,447.0 C235.5,445.8 233.7,443.2 233.0,440.0 C232.3,436.8 234.5,431.7 234.0,428.0 C233.5,424.3 231.3,421.3 230.0,418.0 C228.7,414.7 226.2,411.2 226.0,408.0 C225.8,404.8 226.7,400.8 229.0,399.0 Z" fill="#F7F6F2" filter="url(#rough)"/>
<path d="M203.0,400.0 C204.2,399.0 209.5,400.3 212.0,401.0 C214.5,401.7 217.7,402.8 218.0,404.0 C218.3,405.2 216.2,407.5 214.0,408.0 C211.8,408.5 206.8,408.3 205.0,407.0 C203.2,405.7 201.8,401.0 203.0,400.0 Z" fill="#F7F6F2" filter="url(#rough)"/>
<path d="M212.0,440.0 C212.3,438.5 216.3,436.7 218.0,437.0 C219.7,437.3 222.3,440.5 222.0,442.0 C221.7,443.5 217.7,446.3 216.0,446.0 C214.3,445.7 211.7,441.5 212.0,440.0 Z" fill="#F7F6F2" filter="url(#rough)"/>
<ellipse cx="242.8" cy="422" rx="3.5" ry="4" fill="#4A3E44" filter="url(#soft)"/>
<path d="M236,434 C241,431 249,434 248,441 C247,446 243,448 240,446 C237,443 235,439 236,434 Z" fill="#3E3238" filter="url(#soft)"/>
</g>
<rect x="197.50" y="369.00" width="89.70" height="89.50" fill="none" stroke="#4A4444" stroke-width="0.8"/>
<line x1="268.00" y1="381.00" x2="291.30" y2="369.00" stroke="#222" stroke-width="0.6" stroke-dasharray="0.9,0.9"/>
<line x1="283.00" y1="440.00" x2="291.30" y2="458.50" stroke="#222" stroke-width="0.6" stroke-dasharray="0.9,0.9"/>
<clipPath id="k30"><rect x="291.3" y="369.0" width="89.70" height="89.50"/></clipPath>
<g clip-path="url(#k30)">
<rect x="291.30" y="369.00" width="89.70" height="89.50" fill="#F7F6F2"/>
<rect x="291.30" y="369.00" width="89.70" height="89.50" fill="#000" filter="url(#f300)"/>
<g filter="url(#soft)"><ellipse cx="379.2" cy="448.5" rx="3.0" ry="1.8" transform="rotate(60 379.2 448.5)" fill="#5A5470" fill-opacity="0.89"/><ellipse cx="290.9" cy="382.6" rx="3.2" ry="1.7" transform="rotate(118 290.9 382.6)" fill="#4A3A3A" fill-opacity="0.81"/><ellipse cx="295.0" cy="386.0" rx="2.2" ry="2.8" transform="rotate(170 295.0 386.0)" fill="#5A5470" fill-opacity="0.86"/><ellipse cx="327.7" cy="410.6" rx="2.7" ry="1.8" transform="rotate(32 327.7 410.6)" fill="#3A3A50" fill-opacity="0.77"/><ellipse cx="345.3" cy="442.0" rx="3.1" ry="1.8" transform="rotate(75 345.3 442.0)" fill="#4A4A66" fill-opacity="0.81"/><ellipse cx="382.2" cy="385.7" rx="3.1" ry="1.6" transform="rotate(120 382.2 385.7)" fill="#55556E" fill-opacity="0.86"/><ellipse cx="374.9" cy="460.2" rx="2.1" ry="2.2" transform="rotate(7 374.9 460.2)" fill="#3A3440" fill-opacity="0.76"/><ellipse cx="332.6" cy="386.8" rx="2.5" ry="1.6" transform="rotate(13 332.6 386.8)" fill="#5A5470" fill-opacity="0.89"/><ellipse cx="312.1" cy="373.8" rx="2.8" ry="2.4" transform="rotate(113 312.1 373.8)" fill="#55556E" fill-opacity="0.84"/><ellipse cx="356.7" cy="396.0" rx="3.1" ry="2.4" transform="rotate(154 356.7 396.0)" fill="#55556E" fill-opacity="0.84"/><ellipse cx="338.2" cy="435.6" rx="2.7" ry="1.5" transform="rotate(165 338.2 435.6)" fill="#2E2A36" fill-opacity="0.88"/><ellipse cx="371.8" cy="378.7" rx="2.1" ry="1.8" transform="rotate(16 371.8 378.7)" fill="#6A6A8A" fill-opacity="0.77"/><ellipse cx="364.2" cy="382.6" rx="1.9" ry="2.4" transform="rotate(75 364.2 382.6)" fill="#2E2A36" fill-opacity="0.92"/><ellipse cx="325.8" cy="417.6" rx="2.2" ry="1.7" transform="rotate(154 325.8 417.6)" fill="#2E2A36" fill-opacity="0.85"/><ellipse cx="353.8" cy="435.7" rx="2.8" ry="2.0" transform="rotate(127 353.8 435.7)" fill="#2E2A36" fill-opacity="0.83"/><ellipse cx="355.7" cy="367.7" rx="3.2" ry="1.9" transform="rotate(16 355.7 367.7)" fill="#2E2A36" fill-opacity="0.84"/><ellipse cx="378.1" cy="413.2" rx="2.4" ry="1.8" transform="rotate(68 378.1 413.2)" fill="#55556E" fill-opacity="0.80"/><ellipse cx="373.5" cy="379.5" rx="2.4" ry="2.5" transform="rotate(165 373.5 379.5)" fill="#55556E" fill-opacity="0.92"/><ellipse cx="305.7" cy="392.3" rx="3.2" ry="1.8" transform="rotate(95 305.7 392.3)" fill="#55556E" fill-opacity="0.76"/><ellipse cx="306.0" cy="382.6" rx="3.1" ry="1.9" transform="rotate(123 306.0 382.6)" fill="#6A6A8A" fill-opacity="0.75"/><ellipse cx="330.3" cy="378.1" rx="3.1" ry="2.1" transform="rotate(66 330.3 378.1)" fill="#4A4A66" fill-opacity="0.80"/><ellipse cx="360.0" cy="442.2" rx="2.6" ry="2.6" transform="rotate(129 360.0 442.2)" fill="#2E2A36" fill-opacity="0.86"/><ellipse cx="311.2" cy="420.1" rx="2.1" ry="2.3" transform="rotate(26 311.2 420.1)" fill="#3A3440" fill-opacity="0.80"/><ellipse cx="373.1" cy="387.6" rx="2.1" ry="1.8" transform="rotate(148 373.1 387.6)" fill="#4A3A3A" fill-opacity="0.85"/><ellipse cx="303.0" cy="389.3" rx="1.9" ry="2.7" transform="rotate(23 303.0 389.3)" fill="#3A3A50" fill-opacity="0.90"/><ellipse cx="352.8" cy="410.3" rx="2.1" ry="2.2" transform="rotate(163 352.8 410.3)" fill="#5A5470" fill-opacity="0.75"/><ellipse cx="355.3" cy="459.5" rx="2.7" ry="1.5" transform="rotate(75 355.3 459.5)" fill="#2E2A36" fill-opacity="0.77"/><ellipse cx="324.1" cy="389.9" rx="2.8" ry="2.6" transform="rotate(29 324.1 389.9)" fill="#2E2A36" fill-opacity="0.92"/><ellipse cx="300.3" cy="415.4" rx="2.9" ry="2.7" transform="rotate(85 300.3 415.4)" fill="#3A3440" fill-opacity="0.87"/><ellipse cx="319.5" cy="432.7" rx="2.8" ry="2.5" transform="rotate(111 319.5 432.7)" fill="#3A3A50" fill-opacity="0.82"/><ellipse cx="352.2" cy="414.0" rx="2.9" ry="1.7" transform="rotate(19 352.2 414.0)" fill="#4A3A3A" fill-opacity="0.89"/><ellipse cx="366.0" cy="417.8" rx="2.8" ry="1.7" transform="rotate(6 366.0 417.8)" fill="#3A3A50" fill-opacity="0.83"/><ellipse cx="341.2" cy="385.2" rx="2.2" ry="1.7" transform="rotate(158 341.2 385.2)" fill="#3A3A50" fill-opacity="0.80"/><ellipse cx="335.9" cy="453.5" rx="2.3" ry="2.4" transform="rotate(74 335.9 453.5)" fill="#5A5470" fill-opacity="0.88"/><ellipse cx="319.9" cy="420.6" rx="3.2" ry="2.0" transform="rotate(22 319.9 420.6)" fill="#6A6A8A" fill-opacity="0.89"/><ellipse cx="289.8" cy="438.2" rx="2.5" ry="1.6" transform="rotate(72 289.8 438.2)" fill="#3A3A50" fill-opacity="0.77"/><ellipse cx="377.7" cy="425.3" rx="1.9" ry="2.2" transform="rotate(149 377.7 425.3)" fill="#4A4A66" fill-opacity="0.79"/><ellipse cx="346.2" cy="387.2" rx="3.4" ry="2.0" transform="rotate(117 346.2 387.2)" fill="#4A3A3A" fill-opacity="0.87"/><ellipse cx="311.2" cy="423.0" rx="3.4" ry="1.9" transform="rotate(42 311.2 423.0)" fill="#5A5470" fill-opacity="0.91"/><ellipse cx="344.4" cy="383.8" rx="3.2" ry="2.8" transform="rotate(7 344.4 383.8)" fill="#6A6A8A" fill-opacity="0.91"/><ellipse cx="362.8" cy="419.8" rx="3.1" ry="2.2" transform="rotate(25 362.8 419.8)" fill="#3A3A50" fill-opacity="0.85"/><ellipse cx="310.5" cy="414.6" rx="3.3" ry="1.8" transform="rotate(53 310.5 414.6)" fill="#2E2A36" fill-opacity="0.77"/><ellipse cx="357.3" cy="421.0" rx="3.2" ry="1.8" transform="rotate(39 357.3 421.0)" fill="#55556E" fill-opacity="0.87"/><ellipse cx="325.9" cy="373.8" rx="2.9" ry="2.3" transform="rotate(173 325.9 373.8)" fill="#55556E" fill-opacity="0.76"/><ellipse cx="307.6" cy="395.8" rx="3.0" ry="1.9" transform="rotate(42 307.6 395.8)" fill="#5A5470" fill-opacity="0.89"/><ellipse cx="343.2" cy="393.5" rx="3.1" ry="2.0" transform="rotate(4 343.2 393.5)" fill="#5A5470" fill-opacity="0.82"/><ellipse cx="301.0" cy="428.1" rx="3.1" ry="1.6" transform="rotate(15 301.0 428.1)" fill="#6A6A8A" fill-opacity="0.81"/><ellipse cx="343.2" cy="423.7" rx="2.7" ry="2.1" transform="rotate(88 343.2 423.7)" fill="#6A6A8A" fill-opacity="0.81"/><ellipse cx="332.6" cy="370.7" rx="3.1" ry="1.7" transform="rotate(140 332.6 370.7)" fill="#4A3A3A" fill-opacity="0.84"/><ellipse cx="381.2" cy="417.5" rx="1.9" ry="2.0" transform="rotate(62 381.2 417.5)" fill="#5A5470" fill-opacity="0.79"/><ellipse cx="377.0" cy="438.3" rx="2.8" ry="2.7" transform="rotate(87 377.0 438.3)" fill="#6A6A8A" fill-opacity="0.83"/><ellipse cx="341.8" cy="370.4" rx="3.0" ry="2.5" transform="rotate(54 341.8 370.4)" fill="#4A4A66" fill-opacity="0.79"/><ellipse cx="331.6" cy="448.3" rx="3.3" ry="1.6" transform="rotate(40 331.6 448.3)" fill="#3A3440" fill-opacity="0.85"/><ellipse cx="380.4" cy="418.4" rx="2.4" ry="1.7" transform="rotate(160 380.4 418.4)" fill="#4A4A66" fill-opacity="0.91"/><ellipse cx="379.6" cy="431.7" rx="3.2" ry="2.6" transform="rotate(134 379.6 431.7)" fill="#3A3440" fill-opacity="0.89"/><ellipse cx="292.8" cy="429.1" rx="3.1" ry="1.7" transform="rotate(135 292.8 429.1)" fill="#3A3440" fill-opacity="0.80"/><ellipse cx="374.6" cy="458.9" rx="2.7" ry="2.4" transform="rotate(14 374.6 458.9)" fill="#2E2A36" fill-opacity="0.81"/><ellipse cx="322.2" cy="428.8" rx="3.2" ry="2.3" transform="rotate(161 322.2 428.8)" fill="#4A3A3A" fill-opacity="0.78"/><ellipse cx="362.2" cy="383.6" rx="2.8" ry="2.1" transform="rotate(106 362.2 383.6)" fill="#55556E" fill-opacity="0.86"/><ellipse cx="339.2" cy="390.5" rx="2.4" ry="1.6" transform="rotate(44 339.2 390.5)" fill="#4A4A66" fill-opacity="0.87"/><ellipse cx="334.4" cy="389.5" rx="2.4" ry="1.6" transform="rotate(69 334.4 389.5)" fill="#4A3A3A" fill-opacity="0.81"/><ellipse cx="367.1" cy="368.8" rx="2.1" ry="2.1" transform="rotate(26 367.1 368.8)" fill="#3A3440" fill-opacity="0.89"/><ellipse cx="379.9" cy="379.7" rx="2.0" ry="2.6" transform="rotate(100 379.9 379.7)" fill="#55556E" fill-opacity="0.77"/><ellipse cx="303.0" cy="440.3" rx="2.2" ry="2.2" transform="rotate(156 303.0 440.3)" fill="#5A5470" fill-opacity="0.82"/><ellipse cx="340.7" cy="428.6" rx="2.8" ry="2.2" transform="rotate(24 340.7 428.6)" fill="#4A3A3A" fill-opacity="0.90"/><ellipse cx="363.2" cy="387.6" rx="2.5" ry="2.3" transform="rotate(32 363.2 387.6)" fill="#3A3A50" fill-opacity="0.83"/><ellipse cx="344.0" cy="452.7" rx="2.3" ry="1.9" transform="rotate(107 344.0 452.7)" fill="#4A4A66" fill-opacity="0.91"/><ellipse cx="374.9" cy="376.6" rx="1.9" ry="2.2" transform="rotate(161 374.9 376.6)" fill="#4A3A3A" fill-opacity="0.84"/><ellipse cx="305.2" cy="386.7" rx="2.8" ry="2.7" transform="rotate(147 305.2 386.7)" fill="#2E2A36" fill-opacity="0.91"/><ellipse cx="331.9" cy="450.0" rx="3.0" ry="2.0" transform="rotate(100 331.9 450.0)" fill="#3A3440" fill-opacity="0.77"/><ellipse cx="363.2" cy="407.2" rx="2.6" ry="2.4" transform="rotate(147 363.2 407.2)" fill="#5A5470" fill-opacity="0.80"/><ellipse cx="348.6" cy="430.7" rx="2.6" ry="1.6" transform="rotate(129 348.6 430.7)" fill="#4A4A66" fill-opacity="0.83"/><ellipse cx="368.0" cy="436.6" rx="2.7" ry="2.4" transform="rotate(46 368.0 436.6)" fill="#4A3A3A" fill-opacity="0.80"/><ellipse cx="302.4" cy="423.5" rx="3.3" ry="2.1" transform="rotate(30 302.4 423.5)" fill="#2E2A36" fill-opacity="0.83"/><ellipse cx="382.9" cy="387.5" rx="2.3" ry="2.1" transform="rotate(57 382.9 387.5)" fill="#2E2A36" fill-opacity="0.91"/><ellipse cx="345.6" cy="454.1" rx="2.1" ry="1.8" transform="rotate(175 345.6 454.1)" fill="#3A3440" fill-opacity="0.88"/><ellipse cx="291.5" cy="445.6" rx="3.1" ry="1.6" transform="rotate(96 291.5 445.6)" fill="#3A3440" fill-opacity="0.81"/><ellipse cx="321.8" cy="393.3" rx="2.4" ry="2.3" transform="rotate(53 321.8 393.3)" fill="#3A3A50" fill-opacity="0.82"/><ellipse cx="297.9" cy="417.6" rx="3.2" ry="2.5" transform="rotate(75 297.9 417.6)" fill="#55556E" fill-opacity="0.81"/><ellipse cx="351.0" cy="460.3" rx="2.4" ry="2.1" transform="rotate(27 351.0 460.3)" fill="#55556E" fill-opacity="0.85"/><ellipse cx="358.4" cy="380.0" rx="1.9" ry="1.9" transform="rotate(19 358.4 380.0)" fill="#55556E" fill-opacity="0.76"/><ellipse cx="301.0" cy="403.0" rx="2.1" ry="1.7" transform="rotate(32 301.0 403.0)" fill="#4A4A66" fill-opacity="0.87"/><ellipse cx="314.8" cy="422.8" rx="3.4" ry="1.8" transform="rotate(96 314.8 422.8)" fill="#4A4A66" fill-opacity="0.90"/><ellipse cx="361.5" cy="427.9" rx="2.5" ry="2.5" transform="rotate(27 361.5 427.9)" fill="#55556E" fill-opacity="0.84"/><ellipse cx="321.1" cy="403.3" rx="3.3" ry="1.6" transform="rotate(10 321.1 403.3)" fill="#4A3A3A" fill-opacity="0.80"/><ellipse cx="373.9" cy="408.3" rx="1.8" ry="1.9" transform="rotate(50 373.9 408.3)" fill="#3A3440" fill-opacity="0.82"/><ellipse cx="298.6" cy="424.4" rx="2.2" ry="2.8" transform="rotate(136 298.6 424.4)" fill="#6A6A8A" fill-opacity="0.77"/><ellipse cx="300.8" cy="403.9" rx="2.1" ry="2.6" transform="rotate(154 300.8 403.9)" fill="#3A3A50" fill-opacity="0.91"/><ellipse cx="318.5" cy="432.7" rx="3.0" ry="2.7" transform="rotate(80 318.5 432.7)" fill="#55556E" fill-opacity="0.82"/><ellipse cx="359.4" cy="416.2" rx="2.4" ry="2.4" transform="rotate(106 359.4 416.2)" fill="#2E2A36" fill-opacity="0.86"/><ellipse cx="362.0" cy="458.7" rx="2.6" ry="1.9" transform="rotate(72 362.0 458.7)" fill="#4A4A66" fill-opacity="0.78"/><ellipse cx="368.9" cy="391.6" rx="2.0" ry="2.4" transform="rotate(58 368.9 391.6)" fill="#2E2A36" fill-opacity="0.89"/><ellipse cx="360.2" cy="389.8" rx="3.0" ry="1.9" transform="rotate(127 360.2 389.8)" fill="#5A5470" fill-opacity="0.89"/><ellipse cx="349.9" cy="424.0" rx="3.0" ry="2.4" transform="rotate(104 349.9 424.0)" fill="#6A6A8A" fill-opacity="0.88"/><ellipse cx="317.7" cy="408.6" rx="2.3" ry="2.3" transform="rotate(140 317.7 408.6)" fill="#4A3A3A" fill-opacity="0.80"/><ellipse cx="322.5" cy="438.4" rx="3.1" ry="2.4" transform="rotate(47 322.5 438.4)" fill="#4A4A66" fill-opacity="0.88"/><ellipse cx="379.7" cy="438.6" rx="2.9" ry="2.4" transform="rotate(119 379.7 438.6)" fill="#55556E" fill-opacity="0.89"/><ellipse cx="320.3" cy="417.0" rx="2.5" ry="1.5" transform="rotate(31 320.3 417.0)" fill="#3A3A50" fill-opacity="0.91"/><ellipse cx="329.8" cy="390.2" rx="3.3" ry="2.1" transform="rotate(37 329.8 390.2)" fill="#4A4A66" fill-opacity="0.88"/><ellipse cx="350.9" cy="457.5" rx="2.7" ry="1.7" transform="rotate(16 350.9 457.5)" fill="#3A3A50" fill-opacity="0.87"/><ellipse cx="359.1" cy="399.4" rx="2.2" ry="2.2" transform="rotate(62 359.1 399.4)" fill="#3A3440" fill-opacity="0.88"/><ellipse cx="357.9" cy="450.6" rx="2.7" ry="2.0" transform="rotate(2 357.9 450.6)" fill="#4A3A3A" fill-opacity="0.83"/><ellipse cx="343.1" cy="408.4" rx="1.8" ry="1.7" transform="rotate(8 343.1 408.4)" fill="#3A3440" fill-opacity="0.78"/><ellipse cx="353.1" cy="412.2" rx="3.0" ry="1.5" transform="rotate(3 353.1 412.2)" fill="#4A3A3A" fill-opacity="0.77"/><ellipse cx="312.1" cy="411.3" rx="3.2" ry="2.3" transform="rotate(97 312.1 411.3)" fill="#4A4A66" fill-opacity="0.90"/><ellipse cx="324.2" cy="401.7" rx="2.9" ry="2.3" transform="rotate(65 324.2 401.7)" fill="#4A4A66" fill-opacity="0.82"/><ellipse cx="363.6" cy="380.2" rx="3.4" ry="1.6" transform="rotate(64 363.6 380.2)" fill="#3A3A50" fill-opacity="0.88"/><ellipse cx="378.5" cy="402.7" rx="2.3" ry="1.7" transform="rotate(116 378.5 402.7)" fill="#4A4A66" fill-opacity="0.86"/><ellipse cx="295.1" cy="449.8" rx="2.3" ry="2.6" transform="rotate(40 295.1 449.8)" fill="#4A3A3A" fill-opacity="0.77"/><ellipse cx="335.2" cy="418.8" rx="2.8" ry="2.5" transform="rotate(9 335.2 418.8)" fill="#2E2A36" fill-opacity="0.82"/><ellipse cx="332.6" cy="371.8" rx="2.4" ry="1.9" transform="rotate(141 332.6 371.8)" fill="#4A4A66" fill-opacity="0.90"/><ellipse cx="315.1" cy="386.6" rx="2.5" ry="1.6" transform="rotate(20 315.1 386.6)" fill="#3A3440" fill-opacity="0.79"/><ellipse cx="367.9" cy="410.6" rx="2.1" ry="2.0" transform="rotate(150 367.9 410.6)" fill="#6A6A8A" fill-opacity="0.84"/><ellipse cx="300.2" cy="428.8" rx="3.4" ry="2.0" transform="rotate(93 300.2 428.8)" fill="#5A5470" fill-opacity="0.79"/><ellipse cx="319.0" cy="409.3" rx="2.8" ry="2.3" transform="rotate(64 319.0 409.3)" fill="#3A3A50" fill-opacity="0.78"/><ellipse cx="311.0" cy="397.5" rx="2.5" ry="1.9" transform="rotate(44 311.0 397.5)" fill="#4A4A66" fill-opacity="0.92"/><ellipse cx="357.8" cy="372.9" rx="3.0" ry="2.7" transform="rotate(169 357.8 372.9)" fill="#55556E" fill-opacity="0.82"/><ellipse cx="326.5" cy="388.7" rx="2.8" ry="2.2" transform="rotate(137 326.5 388.7)" fill="#2E2A36" fill-opacity="0.81"/><ellipse cx="294.1" cy="391.2" rx="3.1" ry="1.9" transform="rotate(178 294.1 391.2)" fill="#55556E" fill-opacity="0.82"/><ellipse cx="294.7" cy="448.7" rx="2.8" ry="2.8" transform="rotate(148 294.7 448.7)" fill="#3A3A50" fill-opacity="0.90"/><ellipse cx="374.0" cy="444.2" rx="3.1" ry="2.2" transform="rotate(117 374.0 444.2)" fill="#3A3A50" fill-opacity="0.83"/><ellipse cx="375.2" cy="389.4" rx="2.7" ry="2.2" transform="rotate(81 375.2 389.4)" fill="#4A3A3A" fill-opacity="0.86"/><ellipse cx="337.4" cy="399.9" rx="2.0" ry="1.6" transform="rotate(99 337.4 399.9)" fill="#55556E" fill-opacity="0.76"/><ellipse cx="310.9" cy="452.3" rx="2.2" ry="2.3" transform="rotate(48 310.9 452.3)" fill="#3A3440" fill-opacity="0.84"/><ellipse cx="345.0" cy="446.2" rx="2.5" ry="2.4" transform="rotate(42 345.0 446.2)" fill="#4A3A3A" fill-opacity="0.85"/><ellipse cx="360.1" cy="375.7" rx="2.8" ry="1.8" transform="rotate(66 360.1 375.7)" fill="#3A3440" fill-opacity="0.90"/><ellipse cx="330.2" cy="429.9" rx="2.5" ry="1.8" transform="rotate(92 330.2 429.9)" fill="#2E2A36" fill-opacity="0.77"/><ellipse cx="372.6" cy="408.8" rx="2.1" ry="2.0" transform="rotate(165 372.6 408.8)" fill="#5A5470" fill-opacity="0.92"/><ellipse cx="325.9" cy="459.0" rx="3.1" ry="2.1" transform="rotate(23 325.9 459.0)" fill="#6A6A8A" fill-opacity="0.89"/><ellipse cx="372.6" cy="446.8" rx="2.8" ry="2.7" transform="rotate(177 372.6 446.8)" fill="#4A4A66" fill-opacity="0.80"/><ellipse cx="371.2" cy="380.5" rx="2.7" ry="2.2" transform="rotate(106 371.2 380.5)" fill="#3A3A50" fill-opacity="0.76"/><ellipse cx="361.0" cy="424.6" rx="2.8" ry="1.6" transform="rotate(85 361.0 424.6)" fill="#4A3A3A" fill-opacity="0.86"/><ellipse cx="334.0" cy="453.7" rx="2.0" ry="2.7" transform="rotate(89 334.0 453.7)" fill="#5A5470" fill-opacity="0.86"/><ellipse cx="380.8" cy="378.7" rx="2.2" ry="1.8" transform="rotate(94 380.8 378.7)" fill="#55556E" fill-opacity="0.77"/><ellipse cx="348.7" cy="426.9" rx="3.0" ry="1.7" transform="rotate(46 348.7 426.9)" fill="#4A4A66" fill-opacity="0.86"/><ellipse cx="319.7" cy="374.0" rx="2.1" ry="1.8" transform="rotate(88 319.7 374.0)" fill="#6A6A8A" fill-opacity="0.79"/><ellipse cx="375.1" cy="450.1" rx="2.2" ry="2.2" transform="rotate(139 375.1 450.1)" fill="#4A3A3A" fill-opacity="0.89"/><ellipse cx="371.6" cy="376.7" rx="2.9" ry="2.2" transform="rotate(17 371.6 376.7)" fill="#4A3A3A" fill-opacity="0.83"/><ellipse cx="311.0" cy="449.5" rx="3.1" ry="2.0" transform="rotate(178 311.0 449.5)" fill="#2E2A36" fill-opacity="0.83"/><ellipse cx="294.6" cy="392.5" rx="2.2" ry="2.2" transform="rotate(41 294.6 392.5)" fill="#3A3A50" fill-opacity="0.77"/><ellipse cx="324.1" cy="405.9" rx="2.2" ry="2.7" transform="rotate(142 324.1 405.9)" fill="#3A3A50" fill-opacity="0.77"/><ellipse cx="329.3" cy="375.3" rx="3.2" ry="2.3" transform="rotate(140 329.3 375.3)" fill="#4A4A66" fill-opacity="0.78"/><ellipse cx="295.3" cy="419.8" rx="2.2" ry="1.8" transform="rotate(132 295.3 419.8)" fill="#3A3A50" fill-opacity="0.87"/><ellipse cx="371.4" cy="386.6" rx="2.8" ry="1.7" transform="rotate(75 371.4 386.6)" fill="#2E2A36" fill-opacity="0.79"/><ellipse cx="348.6" cy="421.0" rx="2.9" ry="2.4" transform="rotate(68 348.6 421.0)" fill="#55556E" fill-opacity="0.90"/><ellipse cx="361.0" cy="407.7" rx="2.7" ry="2.4" transform="rotate(12 361.0 407.7)" fill="#6A6A8A" fill-opacity="0.89"/><ellipse cx="337.8" cy="407.2" rx="3.3" ry="1.8" transform="rotate(23 337.8 407.2)" fill="#3A3440" fill-opacity="0.76"/><ellipse cx="317.4" cy="368.5" rx="3.0" ry="2.3" transform="rotate(20 317.4 368.5)" fill="#6A6A8A" fill-opacity="0.77"/><ellipse cx="370.4" cy="395.1" rx="3.0" ry="1.9" transform="rotate(177 370.4 395.1)" fill="#3A3440" fill-opacity="0.89"/><ellipse cx="295.5" cy="447.5" rx="2.2" ry="2.5" transform="rotate(48 295.5 447.5)" fill="#4A4A66" fill-opacity="0.83"/><ellipse cx="373.4" cy="428.7" rx="2.0" ry="2.8" transform="rotate(111 373.4 428.7)" fill="#3A3A50" fill-opacity="0.77"/><ellipse cx="352.0" cy="458.6" rx="3.1" ry="2.1" transform="rotate(112 352.0 458.6)" fill="#55556E" fill-opacity="0.88"/><ellipse cx="334.4" cy="381.2" rx="3.2" ry="2.2" transform="rotate(178 334.4 381.2)" fill="#55556E" fill-opacity="0.82"/><ellipse cx="322.8" cy="405.6" rx="2.6" ry="2.7" transform="rotate(77 322.8 405.6)" fill="#2E2A36" fill-opacity="0.85"/><ellipse cx="319.1" cy="417.7" rx="2.6" ry="1.9" transform="rotate(176 319.1 417.7)" fill="#5A5470" fill-opacity="0.79"/><ellipse cx="332.9" cy="399.2" rx="2.5" ry="2.3" transform="rotate(31 332.9 399.2)" fill="#4A4A66" fill-opacity="0.75"/><ellipse cx="361.8" cy="395.0" rx="3.2" ry="1.8" transform="rotate(56 361.8 395.0)" fill="#3A3440" fill-opacity="0.77"/><ellipse cx="338.9" cy="388.1" rx="2.3" ry="2.5" transform="rotate(32 338.9 388.1)" fill="#6A6A8A" fill-opacity="0.76"/><ellipse cx="298.5" cy="417.9" rx="2.0" ry="2.8" transform="rotate(95 298.5 417.9)" fill="#3A3A50" fill-opacity="0.85"/><ellipse cx="365.0" cy="399.5" rx="3.1" ry="2.2" transform="rotate(163 365.0 399.5)" fill="#3A3A50" fill-opacity="0.84"/><ellipse cx="381.7" cy="376.6" rx="3.1" ry="2.3" transform="rotate(128 381.7 376.6)" fill="#55556E" fill-opacity="0.87"/><ellipse cx="330.5" cy="395.3" rx="1.9" ry="2.6" transform="rotate(11 330.5 395.3)" fill="#4A3A3A" fill-opacity="0.92"/><ellipse cx="328.7" cy="401.2" rx="3.1" ry="1.9" transform="rotate(98 328.7 401.2)" fill="#5A5470" fill-opacity="0.90"/><ellipse cx="335.7" cy="424.6" rx="2.9" ry="2.2" transform="rotate(56 335.7 424.6)" fill="#5A5470" fill-opacity="0.78"/><ellipse cx="370.1" cy="441.8" rx="2.1" ry="1.8" transform="rotate(73 370.1 441.8)" fill="#6A6A8A" fill-opacity="0.80"/><ellipse cx="309.7" cy="457.7" rx="2.5" ry="1.5" transform="rotate(11 309.7 457.7)" fill="#3A3A50" fill-opacity="0.84"/><ellipse cx="320.0" cy="415.4" rx="3.1" ry="2.7" transform="rotate(110 320.0 415.4)" fill="#55556E" fill-opacity="0.87"/><ellipse cx="348.6" cy="369.5" rx="3.1" ry="1.9" transform="rotate(117 348.6 369.5)" fill="#5A5470" fill-opacity="0.75"/><ellipse cx="314.1" cy="425.0" rx="2.0" ry="2.6" transform="rotate(95 314.1 425.0)" fill="#5A5470" fill-opacity="0.82"/><ellipse cx="299.4" cy="449.7" rx="2.8" ry="1.8" transform="rotate(11 299.4 449.7)" fill="#3A3A50" fill-opacity="0.89"/><ellipse cx="290.7" cy="460.2" rx="2.8" ry="2.6" transform="rotate(99 290.7 460.2)" fill="#4A3A3A" fill-opacity="0.76"/><ellipse cx="349.0" cy="387.9" rx="2.0" ry="1.9" transform="rotate(15 349.0 387.9)" fill="#2E2A36" fill-opacity="0.84"/><ellipse cx="340.0" cy="409.1" rx="3.0" ry="2.6" transform="rotate(97 340.0 409.1)" fill="#2E2A36" fill-opacity="0.91"/><ellipse cx="363.5" cy="414.1" rx="3.3" ry="2.2" transform="rotate(180 363.5 414.1)" fill="#2E2A36" fill-opacity="0.76"/><ellipse cx="317.3" cy="458.8" rx="3.3" ry="1.9" transform="rotate(19 317.3 458.8)" fill="#2E2A36" fill-opacity="0.76"/><ellipse cx="346.4" cy="382.5" rx="3.4" ry="2.0" transform="rotate(18 346.4 382.5)" fill="#5A5470" fill-opacity="0.91"/><ellipse cx="348.0" cy="400.2" rx="2.9" ry="1.6" transform="rotate(95 348.0 400.2)" fill="#4A4A66" fill-opacity="0.82"/><ellipse cx="371.5" cy="404.0" rx="2.0" ry="2.3" transform="rotate(138 371.5 404.0)" fill="#4A4A66" fill-opacity="0.91"/><ellipse cx="380.6" cy="433.6" rx="2.3" ry="2.3" transform="rotate(109 380.6 433.6)" fill="#5A5470" fill-opacity="0.84"/><ellipse cx="380.6" cy="404.6" rx="2.8" ry="2.1" transform="rotate(17 380.6 404.6)" fill="#4A4A66" fill-opacity="0.80"/><ellipse cx="302.1" cy="391.0" rx="2.8" ry="2.2" transform="rotate(44 302.1 391.0)" fill="#4A3A3A" fill-opacity="0.80"/><ellipse cx="363.8" cy="445.2" rx="2.2" ry="1.5" transform="rotate(88 363.8 445.2)" fill="#3A3A50" fill-opacity="0.83"/><ellipse cx="336.4" cy="425.1" rx="3.4" ry="2.3" transform="rotate(37 336.4 425.1)" fill="#5A5470" fill-opacity="0.80"/><ellipse cx="296.7" cy="441.6" rx="2.9" ry="2.2" transform="rotate(51 296.7 441.6)" fill="#55556E" fill-opacity="0.91"/><ellipse cx="370.1" cy="374.7" rx="2.3" ry="1.6" transform="rotate(75 370.1 374.7)" fill="#4A4A66" fill-opacity="0.91"/><ellipse cx="360.3" cy="394.9" rx="2.2" ry="2.2" transform="rotate(125 360.3 394.9)" fill="#4A4A66" fill-opacity="0.76"/><ellipse cx="352.1" cy="399.4" rx="2.6" ry="1.7" transform="rotate(145 352.1 399.4)" fill="#3A3A50" fill-opacity="0.80"/><ellipse cx="307.7" cy="448.7" rx="1.9" ry="2.4" transform="rotate(112 307.7 448.7)" fill="#4A3A3A" fill-opacity="0.86"/><ellipse cx="318.6" cy="416.9" rx="3.1" ry="2.6" transform="rotate(148 318.6 416.9)" fill="#3A3A50" fill-opacity="0.77"/><ellipse cx="358.9" cy="454.1" rx="2.4" ry="2.4" transform="rotate(28 358.9 454.1)" fill="#4A4A66" fill-opacity="0.82"/><ellipse cx="326.0" cy="445.4" rx="2.9" ry="2.2" transform="rotate(169 326.0 445.4)" fill="#6A6A8A" fill-opacity="0.85"/><ellipse cx="304.8" cy="416.8" rx="2.4" ry="2.5" transform="rotate(151 304.8 416.8)" fill="#4A3A3A" fill-opacity="0.88"/><ellipse cx="291.4" cy="395.0" rx="2.1" ry="2.4" transform="rotate(120 291.4 395.0)" fill="#2E2A36" fill-opacity="0.81"/><ellipse cx="294.0" cy="407.8" rx="2.1" ry="1.9" transform="rotate(119 294.0 407.8)" fill="#5A5470" fill-opacity="0.76"/><ellipse cx="301.8" cy="446.5" rx="2.7" ry="1.7" transform="rotate(112 301.8 446.5)" fill="#6A6A8A" fill-opacity="0.83"/><ellipse cx="290.9" cy="429.1" rx="1.8" ry="1.6" transform="rotate(148 290.9 429.1)" fill="#3A3440" fill-opacity="0.77"/><ellipse cx="339.8" cy="458.3" rx="3.1" ry="1.7" transform="rotate(69 339.8 458.3)" fill="#55556E" fill-opacity="0.84"/><ellipse cx="372.3" cy="390.0" rx="2.2" ry="2.3" transform="rotate(91 372.3 390.0)" fill="#4A4A66" fill-opacity="0.85"/><ellipse cx="296.2" cy="429.2" rx="3.3" ry="2.7" transform="rotate(115 296.2 429.2)" fill="#3A3A50" fill-opacity="0.83"/><ellipse cx="318.9" cy="377.6" rx="3.0" ry="1.6" transform="rotate(92 318.9 377.6)" fill="#4A3A3A" fill-opacity="0.76"/><ellipse cx="340.3" cy="453.3" rx="1.9" ry="1.7" transform="rotate(137 340.3 453.3)" fill="#3A3A50" fill-opacity="0.83"/><ellipse cx="348.4" cy="406.8" rx="2.2" ry="1.9" transform="rotate(42 348.4 406.8)" fill="#55556E" fill-opacity="0.89"/><ellipse cx="342.7" cy="391.1" rx="3.2" ry="1.7" transform="rotate(138 342.7 391.1)" fill="#3A3440" fill-opacity="0.80"/><ellipse cx="374.3" cy="459.5" rx="3.2" ry="2.3" transform="rotate(149 374.3 459.5)" fill="#2E2A36" fill-opacity="0.90"/><ellipse cx="358.7" cy="447.6" rx="2.2" ry="2.3" transform="rotate(81 358.7 447.6)" fill="#5A5470" fill-opacity="0.80"/><ellipse cx="319.4" cy="397.7" rx="2.2" ry="2.0" transform="rotate(180 319.4 397.7)" fill="#2E2A36" fill-opacity="0.91"/><ellipse cx="315.1" cy="459.7" rx="3.4" ry="2.8" transform="rotate(94 315.1 459.7)" fill="#2E2A36" fill-opacity="0.85"/><ellipse cx="353.4" cy="374.0" rx="2.3" ry="2.5" transform="rotate(4 353.4 374.0)" fill="#6A6A8A" fill-opacity="0.88"/><ellipse cx="312.7" cy="413.2" rx="2.1" ry="2.8" transform="rotate(122 312.7 413.2)" fill="#2E2A36" fill-opacity="0.90"/><ellipse cx="347.6" cy="379.6" rx="1.8" ry="2.4" transform="rotate(11 347.6 379.6)" fill="#4A3A3A" fill-opacity="0.86"/><ellipse cx="375.5" cy="370.7" rx="3.1" ry="1.5" transform="rotate(149 375.5 370.7)" fill="#3A3A50" fill-opacity="0.85"/><ellipse cx="322.2" cy="443.8" rx="2.4" ry="2.8" transform="rotate(5 322.2 443.8)" fill="#5A5470" fill-opacity="0.87"/><ellipse cx="365.9" cy="397.4" rx="3.2" ry="1.6" transform="rotate(49 365.9 397.4)" fill="#4A4A66" fill-opacity="0.84"/><ellipse cx="363.7" cy="438.0" rx="2.0" ry="1.6" transform="rotate(48 363.7 438.0)" fill="#3A3A50" fill-opacity="0.82"/><ellipse cx="373.4" cy="388.4" rx="2.2" ry="2.3" transform="rotate(107 373.4 388.4)" fill="#55556E" fill-opacity="0.75"/><ellipse cx="321.6" cy="451.9" rx="1.9" ry="2.7" transform="rotate(25 321.6 451.9)" fill="#55556E" fill-opacity="0.89"/><ellipse cx="348.7" cy="456.4" rx="2.1" ry="1.6" transform="rotate(152 348.7 456.4)" fill="#3A3440" fill-opacity="0.90"/><ellipse cx="348.8" cy="446.6" rx="3.1" ry="2.8" transform="rotate(15 348.8 446.6)" fill="#4A4A66" fill-opacity="0.90"/><ellipse cx="374.4" cy="404.2" rx="3.1" ry="1.5" transform="rotate(126 374.4 404.2)" fill="#6A6A8A" fill-opacity="0.79"/><ellipse cx="309.6" cy="392.7" rx="2.2" ry="2.2" transform="rotate(79 309.6 392.7)" fill="#4A4A66" fill-opacity="0.78"/><ellipse cx="311.5" cy="370.4" rx="2.4" ry="2.2" transform="rotate(22 311.5 370.4)" fill="#55556E" fill-opacity="0.80"/><ellipse cx="382.1" cy="458.5" rx="2.9" ry="2.7" transform="rotate(144 382.1 458.5)" fill="#55556E" fill-opacity="0.81"/><ellipse cx="371.1" cy="405.3" rx="2.5" ry="2.1" transform="rotate(6 371.1 405.3)" fill="#5A5470" fill-opacity="0.90"/><ellipse cx="291.9" cy="428.9" rx="3.2" ry="1.8" transform="rotate(159 291.9 428.9)" fill="#3A3440" fill-opacity="0.80"/><ellipse cx="322.2" cy="438.6" rx="2.1" ry="2.8" transform="rotate(136 322.2 438.6)" fill="#5A5470" fill-opacity="0.86"/><ellipse cx="312.1" cy="390.7" rx="3.1" ry="2.7" transform="rotate(109 312.1 390.7)" fill="#4A3A3A" fill-opacity="0.88"/><ellipse cx="367.3" cy="367.9" rx="1.9" ry="1.9" transform="rotate(127 367.3 367.9)" fill="#55556E" fill-opacity="0.89"/><ellipse cx="318.7" cy="395.7" rx="2.4" ry="2.0" transform="rotate(62 318.7 395.7)" fill="#4A3A3A" fill-opacity="0.77"/><ellipse cx="322.1" cy="418.7" rx="3.3" ry="2.7" transform="rotate(143 322.1 418.7)" fill="#3A3A50" fill-opacity="0.91"/><ellipse cx="299.0" cy="386.8" rx="3.1" ry="1.9" transform="rotate(127 299.0 386.8)" fill="#3A3A50" fill-opacity="0.75"/></g>
<path d="M345.0,458.5 C345.0,456.4 349.5,450.1 352.0,446.0 C354.5,441.9 358.0,436.3 360.0,434.0 C362.0,431.7 363.7,431.0 364.0,432.0 C364.3,433.0 363.3,436.7 362.0,440.0 C360.7,443.3 357.7,448.9 356.0,452.0 C354.3,455.1 353.8,457.4 352.0,458.5 C350.2,459.6 345.0,460.6 345.0,458.5 Z" fill="#F7F6F2" filter="url(#rough)"/>
<path d="M372.0,369.0 L381.0,369.0 L381.0,381.0 Z" fill="#F7F6F2" filter="url(#rough)"/>
</g>
<rect x="291.30" y="369.00" width="89.70" height="89.50" fill="none" stroke="#4A4444" stroke-width="0.8"/>
<clipPath id="k21"><rect x="197.5" y="462.2" width="89.70" height="89.10"/></clipPath>
<g clip-path="url(#k21)">
<rect x="197.50" y="462.20" width="89.70" height="89.10" fill="#F7F6F2"/>
<mask id="m210" maskUnits="userSpaceOnUse" x="192.5" y="457.2" width="99.69999999999999" height="99.09999999999997"><path d="M192.5,457.2 C198.1,449.2 220.8,453.4 226.0,457.2 C231.2,461.0 225.3,472.9 224.0,480.0 C222.7,487.1 220.0,495.3 218.0,500.0 C216.0,504.7 216.2,507.2 212.0,508.0 C207.8,508.8 195.8,513.5 192.5,505.0 C189.2,496.5 186.9,465.2 192.5,457.2 Z" fill="#fff" filter="url(#mblur)"/></mask>
<g mask="url(#m210)">
<rect x="197.50" y="462.20" width="89.70" height="89.10" fill="#000" filter="url(#f210)"/>
</g>
<mask id="m211" maskUnits="userSpaceOnUse" x="192.5" y="457.2" width="99.69999999999999" height="99.09999999999997"><path d="M205.0,457.2 C211.0,455.4 240.2,454.7 248.0,457.2 C255.8,459.7 251.3,467.9 252.0,472.0 C252.7,476.1 253.0,478.3 252.0,482.0 C251.0,485.7 248.0,490.5 246.0,494.0 C244.0,497.5 239.3,501.0 240.0,503.0 C240.7,505.0 245.8,505.2 250.0,506.0 C254.2,506.8 260.7,506.7 265.0,508.0 C269.3,509.3 272.8,511.3 276.0,514.0 C279.2,516.7 281.3,521.0 284.0,524.0 C286.7,527.0 292.2,528.5 292.2,532.0 C292.2,535.5 287.4,541.0 284.0,545.0 C280.6,549.0 277.7,554.4 272.0,556.3 C266.3,558.2 255.3,558.5 250.0,556.3 C244.7,554.1 243.3,547.0 240.0,543.0 C236.7,539.0 233.3,535.5 230.0,532.0 C226.7,528.5 223.0,525.0 220.0,522.0 C217.0,519.0 214.5,516.3 212.0,514.0 C209.5,511.7 205.0,511.0 205.0,508.0 C205.0,505.0 210.2,500.7 212.0,496.0 C213.8,491.3 216.0,484.7 216.0,480.0 C216.0,475.3 213.8,471.8 212.0,468.0 C210.2,464.2 199.0,459.0 205.0,457.2 Z" fill="#fff" filter="url(#mblur)"/></mask>
<g mask="url(#m211)">
<rect x="197.50" y="462.20" width="89.70" height="89.10" fill="#000" filter="url(#f211)"/>
</g>
<path d="M256.0,520.0 C256.7,517.7 260.3,517.0 262.0,518.0 C263.7,519.0 264.7,523.0 266.0,526.0 C267.3,529.0 270.3,533.7 270.0,536.0 C269.7,538.3 266.0,540.7 264.0,540.0 C262.0,539.3 259.3,535.3 258.0,532.0 C256.7,528.7 255.3,522.3 256.0,520.0 Z" fill="#F7F6F2" filter="url(#rough)"/>
<path d="M222.0,512.0 C222.3,510.3 226.3,509.3 228.0,510.0 C229.7,510.7 232.3,514.3 232.0,516.0 C231.7,517.7 227.7,520.7 226.0,520.0 C224.3,519.3 221.7,513.7 222.0,512.0 Z" fill="#F7F6F2" filter="url(#rough)"/>
</g>
<rect x="197.50" y="462.20" width="89.70" height="89.10" fill="none" stroke="#4A4444" stroke-width="0.8"/>
<line x1="245.40" y1="498.00" x2="291.30" y2="462.20" stroke="#222" stroke-width="0.6" stroke-dasharray="0.9,0.9"/>
<line x1="251.00" y1="532.30" x2="291.30" y2="551.30" stroke="#222" stroke-width="0.6" stroke-dasharray="0.9,0.9"/>
<clipPath id="k31"><rect x="291.3" y="462.2" width="89.70" height="89.10"/></clipPath>
<g clip-path="url(#k31)">
<rect x="291.30" y="462.20" width="89.70" height="89.10" fill="#F7F6F2"/>
<rect x="291.30" y="462.20" width="89.70" height="89.10" fill="#000" filter="url(#f310)"/>
<g filter="url(#soft)"><ellipse cx="371.6" cy="492.7" rx="3.8" ry="2.9" transform="rotate(56 371.6 492.7)" fill="#5A6A9A" fill-opacity="0.89"/><ellipse cx="316.7" cy="539.3" rx="2.5" ry="2.8" transform="rotate(18 316.7 539.3)" fill="#5A4034" fill-opacity="0.87"/><ellipse cx="305.1" cy="500.2" rx="3.0" ry="2.2" transform="rotate(159 305.1 500.2)" fill="#7080B0" fill-opacity="0.91"/><ellipse cx="355.6" cy="477.2" rx="2.8" ry="2.9" transform="rotate(178 355.6 477.2)" fill="#7080B0" fill-opacity="0.85"/><ellipse cx="376.4" cy="553.2" rx="3.4" ry="1.8" transform="rotate(148 376.4 553.2)" fill="#5A6A9A" fill-opacity="0.91"/><ellipse cx="306.7" cy="538.4" rx="3.8" ry="2.9" transform="rotate(172 306.7 538.4)" fill="#7080B0" fill-opacity="0.89"/><ellipse cx="360.6" cy="518.5" rx="3.9" ry="2.3" transform="rotate(106 360.6 518.5)" fill="#7080B0" fill-opacity="0.92"/><ellipse cx="376.5" cy="525.3" rx="2.4" ry="2.2" transform="rotate(52 376.5 525.3)" fill="#3E3636" fill-opacity="0.89"/><ellipse cx="375.6" cy="511.6" rx="3.9" ry="2.1" transform="rotate(64 375.6 511.6)" fill="#4A5A8A" fill-opacity="0.90"/><ellipse cx="290.7" cy="478.0" rx="2.3" ry="2.8" transform="rotate(58 290.7 478.0)" fill="#5C4438" fill-opacity="0.88"/><ellipse cx="362.2" cy="507.2" rx="2.5" ry="1.6" transform="rotate(125 362.2 507.2)" fill="#6A4A3A" fill-opacity="0.87"/><ellipse cx="380.8" cy="485.1" rx="2.7" ry="2.9" transform="rotate(75 380.8 485.1)" fill="#6A4A3A" fill-opacity="0.93"/><ellipse cx="299.8" cy="470.3" rx="3.8" ry="2.2" transform="rotate(112 299.8 470.3)" fill="#6A4A3A" fill-opacity="0.85"/><ellipse cx="293.4" cy="542.2" rx="2.7" ry="1.8" transform="rotate(65 293.4 542.2)" fill="#5C4438" fill-opacity="0.95"/><ellipse cx="337.9" cy="546.6" rx="3.9" ry="2.0" transform="rotate(21 337.9 546.6)" fill="#4A5A8A" fill-opacity="0.91"/><ellipse cx="367.8" cy="510.0" rx="3.1" ry="1.6" transform="rotate(30 367.8 510.0)" fill="#5C4438" fill-opacity="0.84"/><ellipse cx="309.0" cy="524.6" rx="3.5" ry="2.2" transform="rotate(156 309.0 524.6)" fill="#5C4438" fill-opacity="0.92"/><ellipse cx="351.4" cy="492.7" rx="2.9" ry="1.9" transform="rotate(116 351.4 492.7)" fill="#5C4438" fill-opacity="0.90"/><ellipse cx="299.3" cy="483.0" rx="4.0" ry="2.7" transform="rotate(12 299.3 483.0)" fill="#3E3636" fill-opacity="0.93"/><ellipse cx="375.2" cy="463.5" rx="3.6" ry="2.4" transform="rotate(63 375.2 463.5)" fill="#6A4A3A" fill-opacity="0.91"/><ellipse cx="318.7" cy="537.5" rx="3.1" ry="2.3" transform="rotate(86 318.7 537.5)" fill="#6A4A3A" fill-opacity="0.82"/><ellipse cx="348.4" cy="472.7" rx="4.1" ry="2.6" transform="rotate(33 348.4 472.7)" fill="#7A5A48" fill-opacity="0.83"/><ellipse cx="292.1" cy="479.8" rx="4.0" ry="2.6" transform="rotate(130 292.1 479.8)" fill="#6A4A3A" fill-opacity="0.89"/><ellipse cx="380.4" cy="531.0" rx="3.9" ry="2.3" transform="rotate(141 380.4 531.0)" fill="#5A4034" fill-opacity="0.94"/><ellipse cx="372.7" cy="517.4" rx="2.9" ry="2.4" transform="rotate(104 372.7 517.4)" fill="#6A4A3A" fill-opacity="0.92"/><ellipse cx="339.1" cy="519.9" rx="4.0" ry="1.9" transform="rotate(2 339.1 519.9)" fill="#7080B0" fill-opacity="0.89"/><ellipse cx="380.9" cy="520.5" rx="3.5" ry="2.3" transform="rotate(76 380.9 520.5)" fill="#3E3636" fill-opacity="0.86"/><ellipse cx="332.8" cy="469.0" rx="3.2" ry="2.5" transform="rotate(124 332.8 469.0)" fill="#4A3A34" fill-opacity="0.85"/><ellipse cx="308.8" cy="493.6" rx="2.9" ry="2.9" transform="rotate(38 308.8 493.6)" fill="#6A4A3A" fill-opacity="0.85"/><ellipse cx="344.4" cy="497.2" rx="3.9" ry="2.3" transform="rotate(157 344.4 497.2)" fill="#6A4A3A" fill-opacity="0.93"/><ellipse cx="290.7" cy="466.4" rx="3.8" ry="2.6" transform="rotate(76 290.7 466.4)" fill="#6A4A3A" fill-opacity="0.93"/><ellipse cx="364.2" cy="525.1" rx="3.7" ry="2.5" transform="rotate(137 364.2 525.1)" fill="#7080B0" fill-opacity="0.90"/><ellipse cx="293.1" cy="552.3" rx="2.2" ry="2.3" transform="rotate(68 293.1 552.3)" fill="#4A3A34" fill-opacity="0.92"/><ellipse cx="371.6" cy="546.4" rx="2.7" ry="2.2" transform="rotate(18 371.6 546.4)" fill="#3E3636" fill-opacity="0.95"/><ellipse cx="379.6" cy="481.6" rx="3.6" ry="2.4" transform="rotate(138 379.6 481.6)" fill="#4A3A34" fill-opacity="0.89"/><ellipse cx="327.0" cy="463.3" rx="3.1" ry="2.8" transform="rotate(57 327.0 463.3)" fill="#6A4A3A" fill-opacity="0.83"/><ellipse cx="305.6" cy="549.0" rx="2.6" ry="2.7" transform="rotate(152 305.6 549.0)" fill="#6A4A3A" fill-opacity="0.91"/><ellipse cx="316.4" cy="520.3" rx="4.2" ry="2.9" transform="rotate(153 316.4 520.3)" fill="#3E3636" fill-opacity="0.87"/><ellipse cx="372.3" cy="502.9" rx="3.0" ry="2.3" transform="rotate(152 372.3 502.9)" fill="#7A5A48" fill-opacity="0.89"/><ellipse cx="309.3" cy="530.8" rx="2.8" ry="2.6" transform="rotate(180 309.3 530.8)" fill="#5C4438" fill-opacity="0.88"/><ellipse cx="325.8" cy="475.7" rx="3.8" ry="2.1" transform="rotate(71 325.8 475.7)" fill="#6A4A3A" fill-opacity="0.83"/><ellipse cx="356.5" cy="495.9" rx="3.3" ry="2.2" transform="rotate(76 356.5 495.9)" fill="#5A6A9A" fill-opacity="0.93"/><ellipse cx="346.9" cy="544.9" rx="3.6" ry="2.1" transform="rotate(141 346.9 544.9)" fill="#6A4A3A" fill-opacity="0.92"/><ellipse cx="355.7" cy="534.8" rx="3.6" ry="2.1" transform="rotate(158 355.7 534.8)" fill="#6A4A3A" fill-opacity="0.83"/><ellipse cx="347.0" cy="551.1" rx="3.4" ry="3.0" transform="rotate(87 347.0 551.1)" fill="#6A4A3A" fill-opacity="0.90"/><ellipse cx="336.7" cy="519.6" rx="2.2" ry="2.5" transform="rotate(149 336.7 519.6)" fill="#5A4034" fill-opacity="0.92"/><ellipse cx="340.8" cy="475.6" rx="3.3" ry="2.0" transform="rotate(146 340.8 475.6)" fill="#4A5A8A" fill-opacity="0.89"/><ellipse cx="307.3" cy="478.7" rx="3.9" ry="2.9" transform="rotate(79 307.3 478.7)" fill="#6A4A3A" fill-opacity="0.94"/><ellipse cx="330.0" cy="542.5" rx="2.6" ry="3.0" transform="rotate(103 330.0 542.5)" fill="#7A5A48" fill-opacity="0.90"/><ellipse cx="373.9" cy="466.8" rx="3.1" ry="2.3" transform="rotate(94 373.9 466.8)" fill="#4A5A8A" fill-opacity="0.94"/><ellipse cx="291.7" cy="523.6" rx="2.4" ry="2.8" transform="rotate(96 291.7 523.6)" fill="#5A4034" fill-opacity="0.84"/><ellipse cx="352.6" cy="491.9" rx="2.5" ry="1.8" transform="rotate(54 352.6 491.9)" fill="#5C4438" fill-opacity="0.91"/><ellipse cx="335.5" cy="531.8" rx="2.5" ry="1.9" transform="rotate(111 335.5 531.8)" fill="#5C4438" fill-opacity="0.91"/><ellipse cx="377.8" cy="521.4" rx="3.2" ry="1.8" transform="rotate(86 377.8 521.4)" fill="#4A3A34" fill-opacity="0.95"/><ellipse cx="308.5" cy="496.8" rx="4.0" ry="2.8" transform="rotate(75 308.5 496.8)" fill="#3E3636" fill-opacity="0.85"/><ellipse cx="342.6" cy="465.7" rx="3.2" ry="2.3" transform="rotate(79 342.6 465.7)" fill="#3E3636" fill-opacity="0.89"/><ellipse cx="361.4" cy="517.7" rx="2.7" ry="2.2" transform="rotate(44 361.4 517.7)" fill="#4A3A34" fill-opacity="0.86"/><ellipse cx="373.7" cy="523.6" rx="2.7" ry="2.0" transform="rotate(17 373.7 523.6)" fill="#4A3A34" fill-opacity="0.92"/><ellipse cx="339.8" cy="533.6" rx="3.4" ry="2.5" transform="rotate(23 339.8 533.6)" fill="#4A5A8A" fill-opacity="0.90"/><ellipse cx="363.2" cy="520.6" rx="2.6" ry="1.7" transform="rotate(117 363.2 520.6)" fill="#7A5A48" fill-opacity="0.92"/><ellipse cx="354.8" cy="535.2" rx="4.2" ry="2.2" transform="rotate(108 354.8 535.2)" fill="#6A4A3A" fill-opacity="0.88"/><ellipse cx="350.2" cy="467.5" rx="2.7" ry="3.0" transform="rotate(112 350.2 467.5)" fill="#7A5A48" fill-opacity="0.84"/><ellipse cx="359.7" cy="498.2" rx="3.2" ry="2.4" transform="rotate(82 359.7 498.2)" fill="#3E3636" fill-opacity="0.93"/><ellipse cx="375.8" cy="510.5" rx="2.9" ry="2.2" transform="rotate(96 375.8 510.5)" fill="#3E3636" fill-opacity="0.85"/><ellipse cx="322.2" cy="473.5" rx="3.1" ry="2.4" transform="rotate(179 322.2 473.5)" fill="#6A4A3A" fill-opacity="0.86"/><ellipse cx="379.6" cy="486.3" rx="3.0" ry="1.8" transform="rotate(165 379.6 486.3)" fill="#7080B0" fill-opacity="0.88"/><ellipse cx="368.2" cy="512.0" rx="4.2" ry="2.8" transform="rotate(165 368.2 512.0)" fill="#5A6A9A" fill-opacity="0.83"/><ellipse cx="317.3" cy="527.0" rx="3.0" ry="2.5" transform="rotate(176 317.3 527.0)" fill="#6A4A3A" fill-opacity="0.90"/><ellipse cx="305.2" cy="500.2" rx="3.0" ry="2.2" transform="rotate(65 305.2 500.2)" fill="#4A3A34" fill-opacity="0.93"/><ellipse cx="310.9" cy="536.2" rx="3.1" ry="1.8" transform="rotate(13 310.9 536.2)" fill="#5C4438" fill-opacity="0.86"/><ellipse cx="318.1" cy="485.2" rx="4.1" ry="2.7" transform="rotate(133 318.1 485.2)" fill="#4A3A34" fill-opacity="0.85"/><ellipse cx="370.0" cy="480.8" rx="4.1" ry="1.8" transform="rotate(74 370.0 480.8)" fill="#5C4438" fill-opacity="0.84"/><ellipse cx="305.9" cy="535.1" rx="2.8" ry="2.0" transform="rotate(179 305.9 535.1)" fill="#4A3A34" fill-opacity="0.95"/><ellipse cx="332.9" cy="494.1" rx="2.8" ry="1.6" transform="rotate(35 332.9 494.1)" fill="#5A4034" fill-opacity="0.87"/><ellipse cx="296.5" cy="473.1" rx="3.7" ry="1.8" transform="rotate(149 296.5 473.1)" fill="#5A4034" fill-opacity="0.89"/><ellipse cx="307.1" cy="541.7" rx="4.2" ry="1.6" transform="rotate(53 307.1 541.7)" fill="#5A6A9A" fill-opacity="0.88"/><ellipse cx="347.7" cy="468.5" rx="3.7" ry="1.9" transform="rotate(76 347.7 468.5)" fill="#3E3636" fill-opacity="0.95"/><ellipse cx="340.3" cy="503.4" rx="3.3" ry="2.5" transform="rotate(174 340.3 503.4)" fill="#3E3636" fill-opacity="0.83"/><ellipse cx="303.2" cy="544.1" rx="3.4" ry="2.1" transform="rotate(134 303.2 544.1)" fill="#5A6A9A" fill-opacity="0.87"/><ellipse cx="372.5" cy="512.7" rx="3.6" ry="2.4" transform="rotate(51 372.5 512.7)" fill="#6A4A3A" fill-opacity="0.90"/><ellipse cx="354.8" cy="486.0" rx="2.6" ry="1.8" transform="rotate(134 354.8 486.0)" fill="#5A6A9A" fill-opacity="0.90"/><ellipse cx="381.0" cy="494.6" rx="2.9" ry="1.9" transform="rotate(137 381.0 494.6)" fill="#6A4A3A" fill-opacity="0.84"/><ellipse cx="359.3" cy="462.5" rx="2.4" ry="2.2" transform="rotate(35 359.3 462.5)" fill="#5C4438" fill-opacity="0.86"/><ellipse cx="352.7" cy="547.2" rx="2.9" ry="1.8" transform="rotate(39 352.7 547.2)" fill="#5A4034" fill-opacity="0.86"/><ellipse cx="320.6" cy="515.6" rx="3.8" ry="2.2" transform="rotate(155 320.6 515.6)" fill="#5A4034" fill-opacity="0.88"/><ellipse cx="304.0" cy="543.8" rx="2.3" ry="2.4" transform="rotate(139 304.0 543.8)" fill="#3E3636" fill-opacity="0.87"/><ellipse cx="382.5" cy="535.0" rx="2.8" ry="2.7" transform="rotate(12 382.5 535.0)" fill="#7A5A48" fill-opacity="0.94"/><ellipse cx="301.5" cy="542.5" rx="3.2" ry="2.2" transform="rotate(30 301.5 542.5)" fill="#6A4A3A" fill-opacity="0.94"/><ellipse cx="367.3" cy="544.5" rx="3.3" ry="2.7" transform="rotate(178 367.3 544.5)" fill="#5C4438" fill-opacity="0.93"/><ellipse cx="308.4" cy="483.7" rx="3.7" ry="2.4" transform="rotate(15 308.4 483.7)" fill="#4A3A34" fill-opacity="0.85"/><ellipse cx="312.2" cy="475.9" rx="3.2" ry="2.8" transform="rotate(68 312.2 475.9)" fill="#3E3636" fill-opacity="0.92"/><ellipse cx="349.3" cy="498.5" rx="3.8" ry="2.1" transform="rotate(20 349.3 498.5)" fill="#5C4438" fill-opacity="0.87"/><ellipse cx="289.6" cy="538.2" rx="3.2" ry="2.2" transform="rotate(21 289.6 538.2)" fill="#7080B0" fill-opacity="0.87"/><ellipse cx="382.4" cy="512.5" rx="2.7" ry="2.0" transform="rotate(55 382.4 512.5)" fill="#3E3636" fill-opacity="0.92"/><ellipse cx="333.8" cy="504.0" rx="3.7" ry="3.0" transform="rotate(83 333.8 504.0)" fill="#4A3A34" fill-opacity="0.88"/><ellipse cx="313.2" cy="497.2" rx="3.0" ry="2.9" transform="rotate(35 313.2 497.2)" fill="#3E3636" fill-opacity="0.93"/><ellipse cx="376.1" cy="503.4" rx="3.1" ry="2.3" transform="rotate(152 376.1 503.4)" fill="#6A4A3A" fill-opacity="0.94"/><ellipse cx="291.9" cy="547.9" rx="2.9" ry="2.1" transform="rotate(114 291.9 547.9)" fill="#4A3A34" fill-opacity="0.87"/><ellipse cx="333.4" cy="506.9" rx="2.3" ry="2.2" transform="rotate(161 333.4 506.9)" fill="#5A4034" fill-opacity="0.92"/><ellipse cx="300.8" cy="498.2" rx="3.3" ry="2.8" transform="rotate(40 300.8 498.2)" fill="#4A3A34" fill-opacity="0.90"/><ellipse cx="358.2" cy="468.4" rx="3.0" ry="2.0" transform="rotate(42 358.2 468.4)" fill="#7A5A48" fill-opacity="0.84"/><ellipse cx="321.9" cy="466.3" rx="2.6" ry="1.8" transform="rotate(130 321.9 466.3)" fill="#7A5A48" fill-opacity="0.86"/><ellipse cx="370.3" cy="501.2" rx="2.4" ry="3.0" transform="rotate(128 370.3 501.2)" fill="#3E3636" fill-opacity="0.82"/><ellipse cx="331.6" cy="527.8" rx="4.0" ry="2.5" transform="rotate(70 331.6 527.8)" fill="#5C4438" fill-opacity="0.93"/><ellipse cx="296.0" cy="482.7" rx="4.0" ry="1.9" transform="rotate(114 296.0 482.7)" fill="#6A4A3A" fill-opacity="0.87"/><ellipse cx="299.9" cy="522.9" rx="3.0" ry="2.6" transform="rotate(61 299.9 522.9)" fill="#7A5A48" fill-opacity="0.83"/><ellipse cx="340.9" cy="522.9" rx="3.1" ry="2.3" transform="rotate(2 340.9 522.9)" fill="#7A5A48" fill-opacity="0.90"/><ellipse cx="295.6" cy="465.6" rx="3.1" ry="2.4" transform="rotate(98 295.6 465.6)" fill="#6A4A3A" fill-opacity="0.87"/><ellipse cx="339.6" cy="499.0" rx="3.1" ry="1.7" transform="rotate(45 339.6 499.0)" fill="#5A4034" fill-opacity="0.84"/><ellipse cx="327.7" cy="481.7" rx="3.2" ry="2.7" transform="rotate(55 327.7 481.7)" fill="#7A5A48" fill-opacity="0.88"/><ellipse cx="293.4" cy="536.1" rx="3.2" ry="2.2" transform="rotate(177 293.4 536.1)" fill="#7A5A48" fill-opacity="0.85"/><ellipse cx="316.3" cy="545.4" rx="2.9" ry="2.0" transform="rotate(107 316.3 545.4)" fill="#4A5A8A" fill-opacity="0.88"/><ellipse cx="309.8" cy="532.2" rx="4.1" ry="2.9" transform="rotate(131 309.8 532.2)" fill="#5A6A9A" fill-opacity="0.87"/><ellipse cx="338.0" cy="540.9" rx="2.2" ry="2.7" transform="rotate(52 338.0 540.9)" fill="#3E3636" fill-opacity="0.94"/><ellipse cx="348.8" cy="513.1" rx="2.2" ry="2.1" transform="rotate(35 348.8 513.1)" fill="#6A4A3A" fill-opacity="0.91"/><ellipse cx="357.5" cy="474.1" rx="3.6" ry="2.6" transform="rotate(138 357.5 474.1)" fill="#4A3A34" fill-opacity="0.89"/><ellipse cx="326.3" cy="501.9" rx="4.1" ry="1.9" transform="rotate(170 326.3 501.9)" fill="#7A5A48" fill-opacity="0.86"/><ellipse cx="364.4" cy="522.8" rx="4.2" ry="1.8" transform="rotate(26 364.4 522.8)" fill="#7A5A48" fill-opacity="0.91"/><ellipse cx="302.4" cy="470.5" rx="2.5" ry="2.6" transform="rotate(95 302.4 470.5)" fill="#5C4438" fill-opacity="0.86"/><ellipse cx="308.0" cy="485.6" rx="2.4" ry="1.9" transform="rotate(82 308.0 485.6)" fill="#6A4A3A" fill-opacity="0.87"/><ellipse cx="301.2" cy="523.2" rx="2.9" ry="1.6" transform="rotate(87 301.2 523.2)" fill="#5A4034" fill-opacity="0.84"/><ellipse cx="373.9" cy="498.0" rx="3.0" ry="1.6" transform="rotate(106 373.9 498.0)" fill="#3E3636" fill-opacity="0.88"/><ellipse cx="324.4" cy="484.9" rx="2.4" ry="1.9" transform="rotate(125 324.4 484.9)" fill="#7080B0" fill-opacity="0.82"/><ellipse cx="331.2" cy="530.2" rx="2.2" ry="2.7" transform="rotate(164 331.2 530.2)" fill="#3E3636" fill-opacity="0.91"/><ellipse cx="333.0" cy="488.6" rx="3.6" ry="2.7" transform="rotate(130 333.0 488.6)" fill="#5C4438" fill-opacity="0.88"/><ellipse cx="382.2" cy="512.0" rx="4.1" ry="2.8" transform="rotate(82 382.2 512.0)" fill="#3E3636" fill-opacity="0.84"/><ellipse cx="314.7" cy="517.1" rx="3.1" ry="2.8" transform="rotate(13 314.7 517.1)" fill="#3E3636" fill-opacity="0.87"/><ellipse cx="323.3" cy="522.6" rx="3.0" ry="2.3" transform="rotate(26 323.3 522.6)" fill="#3E3636" fill-opacity="0.90"/><ellipse cx="350.1" cy="496.9" rx="3.8" ry="2.3" transform="rotate(149 350.1 496.9)" fill="#5A4034" fill-opacity="0.85"/><ellipse cx="378.0" cy="498.8" rx="2.4" ry="2.5" transform="rotate(177 378.0 498.8)" fill="#5C4438" fill-opacity="0.88"/><ellipse cx="306.5" cy="477.0" rx="3.4" ry="2.2" transform="rotate(45 306.5 477.0)" fill="#5C4438" fill-opacity="0.82"/><ellipse cx="298.1" cy="533.7" rx="3.9" ry="2.3" transform="rotate(87 298.1 533.7)" fill="#3E3636" fill-opacity="0.90"/><ellipse cx="362.1" cy="523.4" rx="3.3" ry="2.4" transform="rotate(73 362.1 523.4)" fill="#4A5A8A" fill-opacity="0.84"/><ellipse cx="354.0" cy="525.5" rx="3.4" ry="3.0" transform="rotate(80 354.0 525.5)" fill="#4A5A8A" fill-opacity="0.85"/><ellipse cx="370.3" cy="548.1" rx="2.7" ry="1.9" transform="rotate(34 370.3 548.1)" fill="#5A4034" fill-opacity="0.83"/><ellipse cx="370.7" cy="473.9" rx="2.8" ry="2.7" transform="rotate(119 370.7 473.9)" fill="#3E3636" fill-opacity="0.84"/><ellipse cx="347.4" cy="527.1" rx="2.4" ry="2.5" transform="rotate(90 347.4 527.1)" fill="#3E3636" fill-opacity="0.83"/><ellipse cx="330.8" cy="502.3" rx="2.3" ry="2.6" transform="rotate(46 330.8 502.3)" fill="#5C4438" fill-opacity="0.86"/><ellipse cx="378.2" cy="478.0" rx="3.6" ry="2.7" transform="rotate(106 378.2 478.0)" fill="#5C4438" fill-opacity="0.90"/><ellipse cx="375.9" cy="476.5" rx="2.6" ry="1.8" transform="rotate(5 375.9 476.5)" fill="#3E3636" fill-opacity="0.91"/><ellipse cx="350.7" cy="526.1" rx="4.0" ry="2.7" transform="rotate(174 350.7 526.1)" fill="#4A3A34" fill-opacity="0.93"/><ellipse cx="314.8" cy="499.0" rx="2.9" ry="2.7" transform="rotate(117 314.8 499.0)" fill="#5C4438" fill-opacity="0.93"/><ellipse cx="366.2" cy="532.0" rx="3.1" ry="2.6" transform="rotate(33 366.2 532.0)" fill="#5A6A9A" fill-opacity="0.89"/><ellipse cx="346.3" cy="536.5" rx="4.0" ry="2.9" transform="rotate(108 346.3 536.5)" fill="#5C4438" fill-opacity="0.84"/><ellipse cx="329.5" cy="525.8" rx="3.4" ry="2.4" transform="rotate(92 329.5 525.8)" fill="#5A4034" fill-opacity="0.94"/><ellipse cx="308.9" cy="546.5" rx="2.3" ry="1.7" transform="rotate(13 308.9 546.5)" fill="#5A4034" fill-opacity="0.88"/><ellipse cx="293.5" cy="525.2" rx="3.8" ry="1.6" transform="rotate(35 293.5 525.2)" fill="#5C4438" fill-opacity="0.93"/><ellipse cx="349.1" cy="552.3" rx="2.7" ry="1.8" transform="rotate(146 349.1 552.3)" fill="#5C4438" fill-opacity="0.84"/><ellipse cx="307.7" cy="478.9" rx="3.9" ry="1.9" transform="rotate(132 307.7 478.9)" fill="#6A4A3A" fill-opacity="0.83"/><ellipse cx="355.5" cy="495.5" rx="2.9" ry="2.9" transform="rotate(126 355.5 495.5)" fill="#3E3636" fill-opacity="0.94"/><ellipse cx="299.5" cy="509.0" rx="3.1" ry="1.9" transform="rotate(143 299.5 509.0)" fill="#7A5A48" fill-opacity="0.87"/><ellipse cx="378.8" cy="467.4" rx="3.6" ry="2.4" transform="rotate(41 378.8 467.4)" fill="#3E3636" fill-opacity="0.91"/><ellipse cx="298.9" cy="463.0" rx="2.6" ry="2.5" transform="rotate(67 298.9 463.0)" fill="#5A4034" fill-opacity="0.91"/><ellipse cx="341.2" cy="535.1" rx="3.0" ry="2.8" transform="rotate(64 341.2 535.1)" fill="#4A3A34" fill-opacity="0.93"/><ellipse cx="299.1" cy="533.9" rx="3.0" ry="1.9" transform="rotate(179 299.1 533.9)" fill="#5A4034" fill-opacity="0.83"/><ellipse cx="303.9" cy="461.7" rx="3.7" ry="2.7" transform="rotate(146 303.9 461.7)" fill="#3E3636" fill-opacity="0.94"/><ellipse cx="348.5" cy="475.9" rx="2.8" ry="1.9" transform="rotate(63 348.5 475.9)" fill="#4A3A34" fill-opacity="0.83"/><ellipse cx="340.1" cy="511.2" rx="2.7" ry="1.7" transform="rotate(176 340.1 511.2)" fill="#5C4438" fill-opacity="0.91"/><ellipse cx="380.6" cy="506.0" rx="3.2" ry="2.9" transform="rotate(127 380.6 506.0)" fill="#4A3A34" fill-opacity="0.92"/><ellipse cx="340.4" cy="500.6" rx="3.3" ry="2.5" transform="rotate(19 340.4 500.6)" fill="#7A5A48" fill-opacity="0.93"/><ellipse cx="321.5" cy="475.5" rx="4.2" ry="2.7" transform="rotate(43 321.5 475.5)" fill="#7A5A48" fill-opacity="0.88"/><ellipse cx="322.4" cy="515.8" rx="3.0" ry="2.1" transform="rotate(76 322.4 515.8)" fill="#4A3A34" fill-opacity="0.83"/><ellipse cx="377.8" cy="496.6" rx="2.7" ry="2.8" transform="rotate(129 377.8 496.6)" fill="#4A3A34" fill-opacity="0.94"/><ellipse cx="327.2" cy="477.6" rx="3.0" ry="2.7" transform="rotate(42 327.2 477.6)" fill="#5A4034" fill-opacity="0.93"/><ellipse cx="332.2" cy="472.2" rx="3.3" ry="2.1" transform="rotate(76 332.2 472.2)" fill="#5A6A9A" fill-opacity="0.88"/><ellipse cx="339.3" cy="539.8" rx="3.7" ry="2.0" transform="rotate(88 339.3 539.8)" fill="#5A6A9A" fill-opacity="0.88"/><ellipse cx="346.9" cy="464.8" rx="3.7" ry="1.6" transform="rotate(2 346.9 464.8)" fill="#5A4034" fill-opacity="0.83"/><ellipse cx="361.2" cy="549.0" rx="3.7" ry="2.8" transform="rotate(178 361.2 549.0)" fill="#4A3A34" fill-opacity="0.86"/><ellipse cx="304.9" cy="523.2" rx="3.4" ry="1.8" transform="rotate(7 304.9 523.2)" fill="#3E3636" fill-opacity="0.94"/><ellipse cx="311.2" cy="479.1" rx="3.4" ry="2.0" transform="rotate(84 311.2 479.1)" fill="#3E3636" fill-opacity="0.91"/></g>
</g>
<rect x="291.30" y="462.20" width="89.70" height="89.10" fill="none" stroke="#4A4444" stroke-width="0.8"/>
<clipPath id="k22"><rect x="197.5" y="555.0" width="89.70" height="89.70"/></clipPath>
<g clip-path="url(#k22)">
<rect x="197.50" y="555.00" width="89.70" height="89.70" fill="#F7F6F2"/>
<mask id="m220" maskUnits="userSpaceOnUse" x="192.5" y="550.0" width="99.69999999999999" height="99.70000000000005"><path d="M200.0,572.0 C201.0,569.3 206.3,567.7 210.0,566.0 C213.7,564.3 217.3,563.0 222.0,562.0 C226.7,561.0 232.5,561.0 238.0,560.0 C243.5,559.0 249.7,557.7 255.0,556.0 C260.3,554.3 263.8,551.0 270.0,550.0 C276.2,549.0 288.5,543.7 292.2,550.0 C295.9,556.3 294.2,581.0 292.2,588.0 C290.2,595.0 283.7,591.0 280.0,592.0 C276.3,593.0 273.0,594.0 270.0,594.0 C267.0,594.0 265.3,593.2 262.0,592.0 C258.7,590.8 253.7,588.7 250.0,587.0 C246.3,585.3 243.7,583.5 240.0,582.0 C236.3,580.5 232.2,578.3 228.0,578.0 C223.8,577.7 219.0,579.3 215.0,580.0 C211.0,580.7 206.5,583.3 204.0,582.0 C201.5,580.7 199.0,574.7 200.0,572.0 Z" fill="#fff" filter="url(#mblur)"/></mask>
<g mask="url(#m220)">
<rect x="197.50" y="555.00" width="89.70" height="89.70" fill="#000" filter="url(#f220)"/>
</g>
<mask id="m221" maskUnits="userSpaceOnUse" x="192.5" y="550.0" width="99.69999999999999" height="99.70000000000005"><path d="M212.0,635.0 C214.2,632.0 220.7,633.2 225.0,632.0 C229.3,630.8 234.2,629.5 238.0,628.0 C241.8,626.5 245.0,624.7 248.0,623.0 C251.0,621.3 253.5,619.8 256.0,618.0 C258.5,616.2 261.3,611.3 263.0,612.0 C264.7,612.7 265.5,615.7 266.0,622.0 C266.5,628.3 275.0,645.1 266.0,649.7 C257.0,654.3 221.0,652.2 212.0,649.7 C203.0,647.2 209.8,638.0 212.0,635.0 Z" fill="#fff" filter="url(#mblur)"/></mask>
<g mask="url(#m221)">
<rect x="197.50" y="555.00" width="89.70" height="89.70" fill="#000" filter="url(#f221)"/>
</g>
<mask id="m222" maskUnits="userSpaceOnUse" x="192.5" y="550.0" width="99.69999999999999" height="99.70000000000005"><path d="M262.0,608.0 C263.3,603.0 267.0,602.3 270.0,600.0 C273.0,597.7 276.3,595.7 280.0,594.0 C283.7,592.3 290.2,580.7 292.2,590.0 C294.2,599.3 296.9,639.8 292.2,649.7 C287.5,659.7 269.0,653.0 264.0,649.7 C259.0,646.4 262.3,637.0 262.0,630.0 C261.7,623.0 260.7,613.0 262.0,608.0 Z M192.5,630.0 C194.8,626.4 202.4,627.3 206.0,628.0 C209.6,628.7 212.7,630.4 214.0,634.0 C215.3,637.6 217.6,647.1 214.0,649.7 C210.4,652.3 196.1,653.0 192.5,649.7 C188.9,646.4 190.2,633.6 192.5,630.0 Z" fill="#fff" filter="url(#mblur)"/></mask>
<g mask="url(#m222)">
<rect x="197.50" y="555.00" width="89.70" height="89.70" fill="#000" filter="url(#f222)"/>
</g>
</g>
<rect x="197.50" y="555.00" width="89.70" height="89.70" fill="none" stroke="#4A4444" stroke-width="0.8"/>
<line x1="255.00" y1="590.00" x2="291.30" y2="644.70" stroke="#222" stroke-width="0.6" stroke-dasharray="0.9,0.9"/>
<clipPath id="k32"><rect x="291.3" y="555.0" width="89.70" height="89.70"/></clipPath>
<g clip-path="url(#k32)">
<rect x="291.30" y="555.00" width="89.70" height="89.70" fill="#F7F6F2"/>
<rect x="291.30" y="555.00" width="89.70" height="89.70" fill="#000" filter="url(#f320)"/>
<g filter="url(#soft)"><ellipse cx="355.9" cy="637.4" rx="1.8" ry="2.5" transform="rotate(148 355.9 637.4)" fill="#3A3A50" fill-opacity="0.94"/><ellipse cx="313.6" cy="559.0" rx="2.9" ry="2.0" transform="rotate(79 313.6 559.0)" fill="#6A6A8A" fill-opacity="0.90"/><ellipse cx="359.3" cy="579.1" rx="2.5" ry="1.7" transform="rotate(49 359.3 579.1)" fill="#55556E" fill-opacity="0.85"/><ellipse cx="316.3" cy="584.0" rx="3.0" ry="1.7" transform="rotate(15 316.3 584.0)" fill="#4A4A66" fill-opacity="0.91"/><ellipse cx="298.7" cy="570.0" rx="2.8" ry="2.0" transform="rotate(100 298.7 570.0)" fill="#4A3A34" fill-opacity="0.84"/><ellipse cx="331.2" cy="575.5" rx="3.0" ry="2.0" transform="rotate(28 331.2 575.5)" fill="#2E2A36" fill-opacity="0.85"/><ellipse cx="372.9" cy="573.0" rx="2.0" ry="1.8" transform="rotate(24 372.9 573.0)" fill="#4A3A3A" fill-opacity="0.88"/><ellipse cx="331.7" cy="589.0" rx="2.7" ry="1.8" transform="rotate(94 331.7 589.0)" fill="#3A3440" fill-opacity="0.91"/><ellipse cx="325.5" cy="643.8" rx="2.8" ry="1.7" transform="rotate(6 325.5 643.8)" fill="#4A3A3A" fill-opacity="0.88"/><ellipse cx="295.5" cy="561.8" rx="2.6" ry="2.3" transform="rotate(89 295.5 561.8)" fill="#2E2A36" fill-opacity="0.88"/><ellipse cx="366.5" cy="573.2" rx="3.0" ry="2.3" transform="rotate(21 366.5 573.2)" fill="#2E2A36" fill-opacity="0.92"/><ellipse cx="309.2" cy="564.9" rx="1.8" ry="2.1" transform="rotate(160 309.2 564.9)" fill="#6A6A8A" fill-opacity="0.94"/><ellipse cx="382.4" cy="629.2" rx="1.8" ry="2.1" transform="rotate(36 382.4 629.2)" fill="#6A6A8A" fill-opacity="0.84"/><ellipse cx="293.2" cy="645.5" rx="2.5" ry="1.8" transform="rotate(30 293.2 645.5)" fill="#4A3A34" fill-opacity="0.85"/><ellipse cx="338.9" cy="614.8" rx="2.9" ry="1.9" transform="rotate(158 338.9 614.8)" fill="#4A3A3A" fill-opacity="0.82"/><ellipse cx="380.5" cy="556.2" rx="2.2" ry="2.6" transform="rotate(167 380.5 556.2)" fill="#4A4A66" fill-opacity="0.83"/><ellipse cx="343.3" cy="605.0" rx="2.7" ry="2.0" transform="rotate(9 343.3 605.0)" fill="#4A3A3A" fill-opacity="0.94"/><ellipse cx="362.9" cy="596.3" rx="2.6" ry="1.8" transform="rotate(64 362.9 596.3)" fill="#4A3A34" fill-opacity="0.80"/><ellipse cx="328.2" cy="590.5" rx="3.1" ry="2.1" transform="rotate(27 328.2 590.5)" fill="#3A2E2A" fill-opacity="0.87"/><ellipse cx="327.5" cy="631.9" rx="2.0" ry="2.5" transform="rotate(50 327.5 631.9)" fill="#2E2A36" fill-opacity="0.85"/><ellipse cx="380.0" cy="602.5" rx="2.2" ry="1.9" transform="rotate(15 380.0 602.5)" fill="#55556E" fill-opacity="0.87"/><ellipse cx="342.0" cy="636.0" rx="2.4" ry="1.5" transform="rotate(108 342.0 636.0)" fill="#4A4A66" fill-opacity="0.89"/><ellipse cx="378.8" cy="609.2" rx="2.5" ry="1.6" transform="rotate(107 378.8 609.2)" fill="#3A3440" fill-opacity="0.83"/><ellipse cx="309.5" cy="564.2" rx="2.1" ry="2.4" transform="rotate(176 309.5 564.2)" fill="#4A3A34" fill-opacity="0.89"/><ellipse cx="328.4" cy="558.0" rx="2.2" ry="2.0" transform="rotate(7 328.4 558.0)" fill="#4A4A66" fill-opacity="0.95"/><ellipse cx="297.7" cy="590.8" rx="3.1" ry="1.9" transform="rotate(30 297.7 590.8)" fill="#4A3A34" fill-opacity="0.92"/><ellipse cx="316.9" cy="638.8" rx="2.9" ry="2.4" transform="rotate(91 316.9 638.8)" fill="#4A3A34" fill-opacity="0.94"/><ellipse cx="302.1" cy="569.7" rx="2.9" ry="2.0" transform="rotate(153 302.1 569.7)" fill="#3A3A50" fill-opacity="0.81"/><ellipse cx="300.1" cy="621.1" rx="2.2" ry="1.9" transform="rotate(111 300.1 621.1)" fill="#3A3A50" fill-opacity="0.80"/><ellipse cx="369.8" cy="610.0" rx="2.3" ry="2.5" transform="rotate(105 369.8 610.0)" fill="#4A3A34" fill-opacity="0.81"/><ellipse cx="360.8" cy="617.2" rx="2.5" ry="2.0" transform="rotate(165 360.8 617.2)" fill="#55556E" fill-opacity="0.82"/><ellipse cx="329.0" cy="623.9" rx="2.3" ry="2.4" transform="rotate(141 329.0 623.9)" fill="#55556E" fill-opacity="0.81"/><ellipse cx="352.3" cy="636.2" rx="2.8" ry="2.4" transform="rotate(176 352.3 636.2)" fill="#55556E" fill-opacity="0.83"/><ellipse cx="364.9" cy="633.7" rx="3.1" ry="1.7" transform="rotate(170 364.9 633.7)" fill="#4A4A66" fill-opacity="0.88"/><ellipse cx="347.5" cy="585.3" rx="2.4" ry="1.6" transform="rotate(63 347.5 585.3)" fill="#2E2A36" fill-opacity="0.84"/><ellipse cx="290.3" cy="595.7" rx="2.0" ry="2.0" transform="rotate(145 290.3 595.7)" fill="#2E2A36" fill-opacity="0.94"/><ellipse cx="341.8" cy="601.7" rx="3.0" ry="1.7" transform="rotate(0 341.8 601.7)" fill="#3A2E2A" fill-opacity="0.81"/><ellipse cx="354.7" cy="642.7" rx="2.8" ry="1.7" transform="rotate(80 354.7 642.7)" fill="#4A4A66" fill-opacity="0.81"/><ellipse cx="378.3" cy="569.2" rx="2.2" ry="2.1" transform="rotate(104 378.3 569.2)" fill="#5A5470" fill-opacity="0.92"/><ellipse cx="298.4" cy="595.9" rx="1.9" ry="2.1" transform="rotate(64 298.4 595.9)" fill="#2E2A36" fill-opacity="0.91"/><ellipse cx="346.7" cy="621.4" rx="2.4" ry="1.7" transform="rotate(58 346.7 621.4)" fill="#6A6A8A" fill-opacity="0.88"/><ellipse cx="305.7" cy="560.3" rx="2.5" ry="2.4" transform="rotate(122 305.7 560.3)" fill="#3A2E2A" fill-opacity="0.81"/><ellipse cx="330.6" cy="581.1" rx="2.1" ry="2.5" transform="rotate(154 330.6 581.1)" fill="#4A3A3A" fill-opacity="0.81"/><ellipse cx="359.1" cy="588.2" rx="2.2" ry="2.2" transform="rotate(144 359.1 588.2)" fill="#6A6A8A" fill-opacity="0.92"/><ellipse cx="354.5" cy="614.7" rx="2.7" ry="2.4" transform="rotate(126 354.5 614.7)" fill="#4A3A3A" fill-opacity="0.94"/><ellipse cx="330.7" cy="579.3" rx="3.0" ry="2.4" transform="rotate(40 330.7 579.3)" fill="#4A4A66" fill-opacity="0.88"/><ellipse cx="304.2" cy="604.0" rx="3.1" ry="2.3" transform="rotate(118 304.2 604.0)" fill="#4A3A34" fill-opacity="0.84"/><ellipse cx="372.6" cy="588.0" rx="2.5" ry="1.7" transform="rotate(103 372.6 588.0)" fill="#3A3440" fill-opacity="0.91"/><ellipse cx="357.4" cy="570.7" rx="1.9" ry="2.3" transform="rotate(47 357.4 570.7)" fill="#2E2A36" fill-opacity="0.93"/><ellipse cx="295.3" cy="626.6" rx="2.3" ry="2.1" transform="rotate(75 295.3 626.6)" fill="#3A3440" fill-opacity="0.90"/><ellipse cx="374.4" cy="619.6" rx="2.9" ry="2.4" transform="rotate(89 374.4 619.6)" fill="#3A2E2A" fill-opacity="0.85"/><ellipse cx="312.6" cy="623.6" rx="2.6" ry="1.8" transform="rotate(34 312.6 623.6)" fill="#6A6A8A" fill-opacity="0.83"/><ellipse cx="343.5" cy="574.0" rx="2.9" ry="1.6" transform="rotate(55 343.5 574.0)" fill="#3A3440" fill-opacity="0.81"/><ellipse cx="340.5" cy="557.5" rx="2.8" ry="1.6" transform="rotate(40 340.5 557.5)" fill="#5A5470" fill-opacity="0.82"/><ellipse cx="359.4" cy="554.4" rx="2.5" ry="2.0" transform="rotate(45 359.4 554.4)" fill="#4A3A3A" fill-opacity="0.86"/><ellipse cx="341.8" cy="638.1" rx="2.9" ry="2.0" transform="rotate(177 341.8 638.1)" fill="#3A2E2A" fill-opacity="0.82"/><ellipse cx="356.7" cy="597.0" rx="2.9" ry="2.0" transform="rotate(19 356.7 597.0)" fill="#5A5470" fill-opacity="0.92"/><ellipse cx="315.4" cy="636.7" rx="2.7" ry="2.6" transform="rotate(91 315.4 636.7)" fill="#6A6A8A" fill-opacity="0.82"/><ellipse cx="313.1" cy="611.9" rx="2.5" ry="2.0" transform="rotate(70 313.1 611.9)" fill="#6A6A8A" fill-opacity="0.81"/><ellipse cx="359.8" cy="564.3" rx="2.6" ry="2.0" transform="rotate(37 359.8 564.3)" fill="#3A3440" fill-opacity="0.80"/><ellipse cx="328.8" cy="588.5" rx="2.1" ry="2.2" transform="rotate(162 328.8 588.5)" fill="#4A3A34" fill-opacity="0.91"/><ellipse cx="329.5" cy="559.5" rx="2.7" ry="2.5" transform="rotate(84 329.5 559.5)" fill="#6A6A8A" fill-opacity="0.95"/><ellipse cx="342.2" cy="579.8" rx="2.6" ry="1.6" transform="rotate(7 342.2 579.8)" fill="#4A4A66" fill-opacity="0.94"/><ellipse cx="383.0" cy="622.3" rx="3.1" ry="2.1" transform="rotate(26 383.0 622.3)" fill="#5A5470" fill-opacity="0.90"/><ellipse cx="368.7" cy="555.4" rx="3.1" ry="2.1" transform="rotate(91 368.7 555.4)" fill="#3A3A50" fill-opacity="0.88"/><ellipse cx="299.5" cy="586.7" rx="2.7" ry="1.8" transform="rotate(168 299.5 586.7)" fill="#4A3A3A" fill-opacity="0.95"/><ellipse cx="330.8" cy="615.8" rx="2.1" ry="2.4" transform="rotate(175 330.8 615.8)" fill="#2E2A36" fill-opacity="0.90"/><ellipse cx="309.4" cy="575.1" rx="2.9" ry="2.1" transform="rotate(20 309.4 575.1)" fill="#55556E" fill-opacity="0.80"/><ellipse cx="319.3" cy="636.8" rx="2.6" ry="1.5" transform="rotate(105 319.3 636.8)" fill="#3A2E2A" fill-opacity="0.91"/><ellipse cx="330.6" cy="641.5" rx="2.9" ry="1.7" transform="rotate(120 330.6 641.5)" fill="#3A3440" fill-opacity="0.87"/><ellipse cx="348.5" cy="561.6" rx="2.8" ry="1.5" transform="rotate(88 348.5 561.6)" fill="#4A3A3A" fill-opacity="0.84"/><ellipse cx="316.7" cy="565.2" rx="2.7" ry="1.5" transform="rotate(156 316.7 565.2)" fill="#4A3A3A" fill-opacity="0.89"/><ellipse cx="381.9" cy="574.2" rx="2.1" ry="2.2" transform="rotate(76 381.9 574.2)" fill="#4A3A34" fill-opacity="0.93"/><ellipse cx="375.4" cy="595.1" rx="2.5" ry="2.2" transform="rotate(28 375.4 595.1)" fill="#4A4A66" fill-opacity="0.84"/><ellipse cx="364.4" cy="597.5" rx="2.8" ry="2.0" transform="rotate(127 364.4 597.5)" fill="#5A5470" fill-opacity="0.83"/><ellipse cx="360.2" cy="571.2" rx="3.1" ry="2.3" transform="rotate(128 360.2 571.2)" fill="#4A4A66" fill-opacity="0.94"/><ellipse cx="372.0" cy="563.7" rx="1.9" ry="2.1" transform="rotate(43 372.0 563.7)" fill="#3A3440" fill-opacity="0.93"/><ellipse cx="378.8" cy="606.2" rx="1.9" ry="2.6" transform="rotate(13 378.8 606.2)" fill="#55556E" fill-opacity="0.83"/><ellipse cx="315.7" cy="641.8" rx="2.0" ry="2.5" transform="rotate(108 315.7 641.8)" fill="#6A6A8A" fill-opacity="0.82"/><ellipse cx="371.3" cy="625.1" rx="3.0" ry="1.9" transform="rotate(153 371.3 625.1)" fill="#4A4A66" fill-opacity="0.85"/><ellipse cx="330.9" cy="620.7" rx="2.7" ry="2.0" transform="rotate(163 330.9 620.7)" fill="#5A5470" fill-opacity="0.90"/><ellipse cx="348.6" cy="608.1" rx="1.9" ry="2.2" transform="rotate(82 348.6 608.1)" fill="#3A3A50" fill-opacity="0.80"/><ellipse cx="375.1" cy="619.8" rx="2.7" ry="1.9" transform="rotate(79 375.1 619.8)" fill="#5A5470" fill-opacity="0.92"/><ellipse cx="311.2" cy="626.4" rx="2.1" ry="2.2" transform="rotate(122 311.2 626.4)" fill="#55556E" fill-opacity="0.81"/><ellipse cx="303.8" cy="586.8" rx="2.5" ry="2.6" transform="rotate(122 303.8 586.8)" fill="#4A3A34" fill-opacity="0.88"/><ellipse cx="298.8" cy="569.7" rx="2.6" ry="1.8" transform="rotate(115 298.8 569.7)" fill="#3A3440" fill-opacity="0.84"/><ellipse cx="354.8" cy="599.7" rx="3.1" ry="2.1" transform="rotate(134 354.8 599.7)" fill="#5A5470" fill-opacity="0.92"/><ellipse cx="310.4" cy="577.8" rx="1.9" ry="1.9" transform="rotate(28 310.4 577.8)" fill="#4A3A34" fill-opacity="0.85"/><ellipse cx="299.8" cy="640.4" rx="2.7" ry="1.7" transform="rotate(112 299.8 640.4)" fill="#3A3440" fill-opacity="0.91"/><ellipse cx="298.7" cy="564.0" rx="2.5" ry="2.5" transform="rotate(115 298.7 564.0)" fill="#4A4A66" fill-opacity="0.82"/><ellipse cx="367.9" cy="558.9" rx="2.7" ry="1.5" transform="rotate(140 367.9 558.9)" fill="#4A3A3A" fill-opacity="0.91"/><ellipse cx="346.6" cy="639.1" rx="2.5" ry="1.8" transform="rotate(13 346.6 639.1)" fill="#4A4A66" fill-opacity="0.83"/><ellipse cx="317.5" cy="582.8" rx="3.0" ry="1.6" transform="rotate(170 317.5 582.8)" fill="#3A3440" fill-opacity="0.91"/><ellipse cx="302.1" cy="601.3" rx="2.5" ry="2.0" transform="rotate(87 302.1 601.3)" fill="#3A3440" fill-opacity="0.85"/><ellipse cx="296.3" cy="637.0" rx="2.3" ry="1.8" transform="rotate(75 296.3 637.0)" fill="#5A5470" fill-opacity="0.84"/><ellipse cx="310.7" cy="624.1" rx="2.1" ry="2.0" transform="rotate(164 310.7 624.1)" fill="#4A3A34" fill-opacity="0.85"/><ellipse cx="361.3" cy="631.3" rx="2.3" ry="2.2" transform="rotate(137 361.3 631.3)" fill="#3A2E2A" fill-opacity="0.93"/><ellipse cx="300.8" cy="626.9" rx="2.0" ry="1.5" transform="rotate(93 300.8 626.9)" fill="#2E2A36" fill-opacity="0.82"/><ellipse cx="347.4" cy="595.9" rx="2.0" ry="2.3" transform="rotate(175 347.4 595.9)" fill="#3A3440" fill-opacity="0.85"/><ellipse cx="361.7" cy="632.6" rx="2.3" ry="1.6" transform="rotate(121 361.7 632.6)" fill="#3A3A50" fill-opacity="0.87"/><ellipse cx="373.3" cy="626.0" rx="2.1" ry="1.9" transform="rotate(123 373.3 626.0)" fill="#5A5470" fill-opacity="0.81"/><ellipse cx="374.4" cy="618.3" rx="2.0" ry="1.7" transform="rotate(158 374.4 618.3)" fill="#5A5470" fill-opacity="0.85"/><ellipse cx="305.7" cy="581.9" rx="2.4" ry="2.1" transform="rotate(10 305.7 581.9)" fill="#4A3A3A" fill-opacity="0.90"/><ellipse cx="338.3" cy="619.6" rx="2.1" ry="2.0" transform="rotate(39 338.3 619.6)" fill="#3A3A50" fill-opacity="0.87"/><ellipse cx="373.7" cy="643.5" rx="2.0" ry="2.2" transform="rotate(173 373.7 643.5)" fill="#4A3A3A" fill-opacity="0.85"/><ellipse cx="363.7" cy="572.9" rx="2.8" ry="1.9" transform="rotate(70 363.7 572.9)" fill="#2E2A36" fill-opacity="0.86"/><ellipse cx="325.1" cy="601.1" rx="3.2" ry="1.9" transform="rotate(154 325.1 601.1)" fill="#2E2A36" fill-opacity="0.95"/><ellipse cx="318.0" cy="612.4" rx="2.9" ry="2.3" transform="rotate(97 318.0 612.4)" fill="#3A3A50" fill-opacity="0.86"/><ellipse cx="291.3" cy="610.8" rx="2.3" ry="1.7" transform="rotate(103 291.3 610.8)" fill="#4A3A3A" fill-opacity="0.80"/><ellipse cx="353.5" cy="603.1" rx="2.0" ry="2.5" transform="rotate(90 353.5 603.1)" fill="#2E2A36" fill-opacity="0.88"/><ellipse cx="304.8" cy="572.8" rx="2.3" ry="1.6" transform="rotate(155 304.8 572.8)" fill="#6A6A8A" fill-opacity="0.80"/><ellipse cx="306.3" cy="561.4" rx="2.6" ry="1.9" transform="rotate(66 306.3 561.4)" fill="#4A4A66" fill-opacity="0.80"/><ellipse cx="381.7" cy="594.7" rx="2.6" ry="2.2" transform="rotate(28 381.7 594.7)" fill="#55556E" fill-opacity="0.92"/><ellipse cx="303.7" cy="577.1" rx="3.0" ry="2.0" transform="rotate(133 303.7 577.1)" fill="#55556E" fill-opacity="0.87"/><ellipse cx="320.2" cy="626.7" rx="3.1" ry="1.7" transform="rotate(135 320.2 626.7)" fill="#6A6A8A" fill-opacity="0.86"/><ellipse cx="328.1" cy="589.8" rx="3.1" ry="2.2" transform="rotate(127 328.1 589.8)" fill="#5A5470" fill-opacity="0.90"/><ellipse cx="312.4" cy="578.6" rx="2.4" ry="2.1" transform="rotate(62 312.4 578.6)" fill="#5A5470" fill-opacity="0.92"/><ellipse cx="350.8" cy="620.1" rx="2.8" ry="1.7" transform="rotate(29 350.8 620.1)" fill="#2E2A36" fill-opacity="0.81"/><ellipse cx="323.2" cy="556.9" rx="2.0" ry="2.2" transform="rotate(50 323.2 556.9)" fill="#3A2E2A" fill-opacity="0.80"/><ellipse cx="314.3" cy="593.5" rx="2.7" ry="2.3" transform="rotate(71 314.3 593.5)" fill="#3A3A50" fill-opacity="0.95"/><ellipse cx="351.5" cy="578.4" rx="2.9" ry="1.8" transform="rotate(92 351.5 578.4)" fill="#4A3A3A" fill-opacity="0.89"/><ellipse cx="318.9" cy="600.5" rx="2.5" ry="1.5" transform="rotate(176 318.9 600.5)" fill="#4A3A34" fill-opacity="0.81"/><ellipse cx="340.3" cy="629.9" rx="2.0" ry="2.5" transform="rotate(63 340.3 629.9)" fill="#4A3A34" fill-opacity="0.95"/><ellipse cx="369.1" cy="560.5" rx="2.6" ry="2.4" transform="rotate(81 369.1 560.5)" fill="#5A5470" fill-opacity="0.82"/><ellipse cx="293.5" cy="646.0" rx="2.6" ry="1.6" transform="rotate(38 293.5 646.0)" fill="#3A3A50" fill-opacity="0.91"/><ellipse cx="331.5" cy="578.3" rx="3.2" ry="1.7" transform="rotate(17 331.5 578.3)" fill="#3A3A50" fill-opacity="0.84"/><ellipse cx="308.9" cy="587.2" rx="3.1" ry="2.6" transform="rotate(43 308.9 587.2)" fill="#4A3A34" fill-opacity="0.85"/><ellipse cx="335.2" cy="617.7" rx="2.0" ry="1.6" transform="rotate(88 335.2 617.7)" fill="#4A3A34" fill-opacity="0.92"/><ellipse cx="355.1" cy="638.1" rx="2.0" ry="2.1" transform="rotate(110 355.1 638.1)" fill="#4A4A66" fill-opacity="0.95"/><ellipse cx="302.9" cy="627.1" rx="1.8" ry="2.4" transform="rotate(40 302.9 627.1)" fill="#6A6A8A" fill-opacity="0.82"/><ellipse cx="343.4" cy="629.7" rx="2.5" ry="1.7" transform="rotate(119 343.4 629.7)" fill="#3A2E2A" fill-opacity="0.93"/><ellipse cx="334.8" cy="619.6" rx="3.0" ry="2.3" transform="rotate(135 334.8 619.6)" fill="#5A5470" fill-opacity="0.87"/><ellipse cx="295.4" cy="596.7" rx="2.7" ry="1.8" transform="rotate(62 295.4 596.7)" fill="#5A5470" fill-opacity="0.80"/><ellipse cx="308.0" cy="589.6" rx="3.2" ry="2.4" transform="rotate(169 308.0 589.6)" fill="#55556E" fill-opacity="0.84"/><ellipse cx="318.9" cy="580.5" rx="3.1" ry="2.1" transform="rotate(53 318.9 580.5)" fill="#3A2E2A" fill-opacity="0.84"/><ellipse cx="291.2" cy="577.7" rx="3.1" ry="1.6" transform="rotate(3 291.2 577.7)" fill="#4A3A3A" fill-opacity="0.93"/><ellipse cx="310.3" cy="599.2" rx="3.2" ry="1.7" transform="rotate(13 310.3 599.2)" fill="#5A5470" fill-opacity="0.85"/><ellipse cx="289.6" cy="573.2" rx="2.7" ry="2.5" transform="rotate(75 289.6 573.2)" fill="#2E2A36" fill-opacity="0.80"/><ellipse cx="300.6" cy="637.3" rx="2.1" ry="2.5" transform="rotate(41 300.6 637.3)" fill="#55556E" fill-opacity="0.94"/><ellipse cx="332.0" cy="609.1" rx="2.1" ry="1.9" transform="rotate(99 332.0 609.1)" fill="#4A3A34" fill-opacity="0.80"/><ellipse cx="298.1" cy="636.2" rx="2.7" ry="2.1" transform="rotate(125 298.1 636.2)" fill="#5A5470" fill-opacity="0.84"/><ellipse cx="345.6" cy="576.2" rx="2.6" ry="1.7" transform="rotate(178 345.6 576.2)" fill="#55556E" fill-opacity="0.87"/><ellipse cx="324.3" cy="576.0" rx="2.6" ry="1.8" transform="rotate(94 324.3 576.0)" fill="#3A2E2A" fill-opacity="0.93"/><ellipse cx="334.1" cy="619.5" rx="2.1" ry="2.5" transform="rotate(1 334.1 619.5)" fill="#5A5470" fill-opacity="0.91"/><ellipse cx="296.7" cy="569.7" rx="2.2" ry="2.3" transform="rotate(39 296.7 569.7)" fill="#2E2A36" fill-opacity="0.92"/><ellipse cx="358.1" cy="604.8" rx="2.6" ry="2.2" transform="rotate(141 358.1 604.8)" fill="#2E2A36" fill-opacity="0.81"/><ellipse cx="303.6" cy="562.8" rx="2.2" ry="2.4" transform="rotate(151 303.6 562.8)" fill="#3A3440" fill-opacity="0.90"/><ellipse cx="324.6" cy="618.0" rx="2.1" ry="2.5" transform="rotate(114 324.6 618.0)" fill="#4A3A3A" fill-opacity="0.87"/><ellipse cx="379.3" cy="631.2" rx="3.2" ry="1.5" transform="rotate(176 379.3 631.2)" fill="#4A3A34" fill-opacity="0.89"/><ellipse cx="340.9" cy="584.4" rx="2.5" ry="1.9" transform="rotate(16 340.9 584.4)" fill="#55556E" fill-opacity="0.92"/><ellipse cx="314.5" cy="570.2" rx="2.4" ry="2.3" transform="rotate(10 314.5 570.2)" fill="#4A3A34" fill-opacity="0.91"/><ellipse cx="376.0" cy="561.4" rx="3.2" ry="2.2" transform="rotate(74 376.0 561.4)" fill="#4A3A3A" fill-opacity="0.90"/><ellipse cx="321.9" cy="563.5" rx="2.8" ry="2.0" transform="rotate(124 321.9 563.5)" fill="#3A3A50" fill-opacity="0.81"/><ellipse cx="334.5" cy="599.2" rx="2.8" ry="2.0" transform="rotate(48 334.5 599.2)" fill="#55556E" fill-opacity="0.88"/><ellipse cx="289.5" cy="599.5" rx="2.0" ry="2.2" transform="rotate(86 289.5 599.5)" fill="#2E2A36" fill-opacity="0.94"/><ellipse cx="370.3" cy="594.8" rx="2.6" ry="2.1" transform="rotate(138 370.3 594.8)" fill="#4A3A34" fill-opacity="0.85"/><ellipse cx="318.9" cy="634.4" rx="2.9" ry="2.1" transform="rotate(46 318.9 634.4)" fill="#4A3A3A" fill-opacity="0.94"/><ellipse cx="318.9" cy="618.5" rx="2.1" ry="1.9" transform="rotate(117 318.9 618.5)" fill="#3A2E2A" fill-opacity="0.82"/><ellipse cx="336.8" cy="578.3" rx="2.1" ry="2.1" transform="rotate(124 336.8 578.3)" fill="#4A4A66" fill-opacity="0.80"/><ellipse cx="373.3" cy="642.9" rx="1.8" ry="2.1" transform="rotate(61 373.3 642.9)" fill="#2E2A36" fill-opacity="0.94"/><ellipse cx="363.0" cy="603.5" rx="2.2" ry="2.0" transform="rotate(24 363.0 603.5)" fill="#4A4A66" fill-opacity="0.85"/><ellipse cx="364.8" cy="643.3" rx="2.5" ry="2.5" transform="rotate(61 364.8 643.3)" fill="#6A6A8A" fill-opacity="0.87"/><ellipse cx="326.7" cy="555.8" rx="3.2" ry="1.5" transform="rotate(143 326.7 555.8)" fill="#55556E" fill-opacity="0.94"/><ellipse cx="330.5" cy="585.1" rx="1.9" ry="1.8" transform="rotate(39 330.5 585.1)" fill="#3A3A50" fill-opacity="0.86"/><ellipse cx="342.6" cy="554.6" rx="2.8" ry="1.9" transform="rotate(92 342.6 554.6)" fill="#3A2E2A" fill-opacity="0.87"/><ellipse cx="358.4" cy="615.0" rx="2.8" ry="1.9" transform="rotate(104 358.4 615.0)" fill="#4A3A34" fill-opacity="0.95"/><ellipse cx="378.8" cy="567.4" rx="3.0" ry="2.3" transform="rotate(11 378.8 567.4)" fill="#55556E" fill-opacity="0.87"/><ellipse cx="307.0" cy="594.8" rx="2.2" ry="2.3" transform="rotate(142 307.0 594.8)" fill="#3A3440" fill-opacity="0.91"/><ellipse cx="334.6" cy="629.0" rx="2.0" ry="2.3" transform="rotate(164 334.6 629.0)" fill="#3A2E2A" fill-opacity="0.82"/><ellipse cx="371.5" cy="633.0" rx="1.8" ry="2.6" transform="rotate(45 371.5 633.0)" fill="#3A2E2A" fill-opacity="0.86"/><ellipse cx="352.7" cy="616.6" rx="1.8" ry="2.4" transform="rotate(133 352.7 616.6)" fill="#4A4A66" fill-opacity="0.95"/><ellipse cx="361.6" cy="559.4" rx="2.1" ry="2.3" transform="rotate(98 361.6 559.4)" fill="#3A3440" fill-opacity="0.84"/><ellipse cx="311.0" cy="557.7" rx="2.5" ry="1.8" transform="rotate(177 311.0 557.7)" fill="#5A5470" fill-opacity="0.92"/><ellipse cx="329.9" cy="620.9" rx="3.1" ry="1.5" transform="rotate(164 329.9 620.9)" fill="#4A3A3A" fill-opacity="0.80"/><ellipse cx="343.5" cy="566.6" rx="2.2" ry="1.9" transform="rotate(34 343.5 566.6)" fill="#3A3440" fill-opacity="0.92"/><ellipse cx="325.1" cy="627.3" rx="2.7" ry="2.3" transform="rotate(101 325.1 627.3)" fill="#5A5470" fill-opacity="0.94"/><ellipse cx="362.7" cy="633.0" rx="2.2" ry="1.8" transform="rotate(155 362.7 633.0)" fill="#3A2E2A" fill-opacity="0.88"/><ellipse cx="312.7" cy="570.6" rx="2.3" ry="2.3" transform="rotate(89 312.7 570.6)" fill="#6A6A8A" fill-opacity="0.95"/><ellipse cx="295.3" cy="569.9" rx="2.0" ry="2.2" transform="rotate(19 295.3 569.9)" fill="#4A4A66" fill-opacity="0.89"/><ellipse cx="310.6" cy="577.2" rx="2.5" ry="2.4" transform="rotate(124 310.6 577.2)" fill="#5A5470" fill-opacity="0.90"/><ellipse cx="381.6" cy="619.6" rx="2.3" ry="1.9" transform="rotate(97 381.6 619.6)" fill="#4A3A34" fill-opacity="0.91"/><ellipse cx="379.2" cy="606.4" rx="3.1" ry="2.1" transform="rotate(24 379.2 606.4)" fill="#3A2E2A" fill-opacity="0.87"/><ellipse cx="311.8" cy="630.4" rx="2.2" ry="2.5" transform="rotate(138 311.8 630.4)" fill="#4A4A66" fill-opacity="0.90"/><ellipse cx="336.2" cy="594.5" rx="2.9" ry="1.8" transform="rotate(47 336.2 594.5)" fill="#4A3A34" fill-opacity="0.82"/><ellipse cx="360.8" cy="622.3" rx="2.5" ry="1.7" transform="rotate(79 360.8 622.3)" fill="#5A5470" fill-opacity="0.86"/><ellipse cx="326.3" cy="578.9" rx="2.5" ry="2.4" transform="rotate(16 326.3 578.9)" fill="#5A5470" fill-opacity="0.84"/><ellipse cx="375.3" cy="637.4" rx="1.9" ry="2.5" transform="rotate(124 375.3 637.4)" fill="#55556E" fill-opacity="0.89"/><ellipse cx="299.6" cy="623.9" rx="2.1" ry="2.0" transform="rotate(52 299.6 623.9)" fill="#4A4A66" fill-opacity="0.81"/><ellipse cx="308.0" cy="563.9" rx="3.0" ry="2.2" transform="rotate(118 308.0 563.9)" fill="#2E2A36" fill-opacity="0.93"/><ellipse cx="316.0" cy="616.7" rx="2.6" ry="2.1" transform="rotate(84 316.0 616.7)" fill="#3A3440" fill-opacity="0.81"/><ellipse cx="316.2" cy="586.3" rx="2.3" ry="2.2" transform="rotate(44 316.2 586.3)" fill="#4A4A66" fill-opacity="0.95"/><ellipse cx="347.3" cy="570.6" rx="2.0" ry="2.3" transform="rotate(77 347.3 570.6)" fill="#6A6A8A" fill-opacity="0.94"/><ellipse cx="382.6" cy="558.6" rx="2.5" ry="2.2" transform="rotate(12 382.6 558.6)" fill="#4A3A34" fill-opacity="0.94"/><ellipse cx="310.8" cy="570.8" rx="2.8" ry="1.7" transform="rotate(123 310.8 570.8)" fill="#2E2A36" fill-opacity="0.85"/><ellipse cx="303.7" cy="555.4" rx="2.5" ry="2.6" transform="rotate(172 303.7 555.4)" fill="#4A3A3A" fill-opacity="0.94"/><ellipse cx="312.2" cy="588.0" rx="2.0" ry="1.7" transform="rotate(28 312.2 588.0)" fill="#5A5470" fill-opacity="0.81"/><ellipse cx="329.6" cy="581.0" rx="1.9" ry="2.2" transform="rotate(101 329.6 581.0)" fill="#2E2A36" fill-opacity="0.83"/><ellipse cx="294.0" cy="571.9" rx="3.2" ry="2.4" transform="rotate(17 294.0 571.9)" fill="#55556E" fill-opacity="0.92"/><ellipse cx="310.4" cy="622.6" rx="2.8" ry="2.1" transform="rotate(127 310.4 622.6)" fill="#2E2A36" fill-opacity="0.94"/><ellipse cx="380.2" cy="580.5" rx="2.2" ry="2.1" transform="rotate(165 380.2 580.5)" fill="#6A6A8A" fill-opacity="0.85"/><ellipse cx="299.4" cy="577.0" rx="3.0" ry="2.4" transform="rotate(7 299.4 577.0)" fill="#4A3A34" fill-opacity="0.92"/><ellipse cx="341.4" cy="618.5" rx="2.4" ry="2.4" transform="rotate(156 341.4 618.5)" fill="#3A3440" fill-opacity="0.93"/><ellipse cx="291.7" cy="640.4" rx="2.5" ry="1.7" transform="rotate(166 291.7 640.4)" fill="#6A6A8A" fill-opacity="0.84"/><ellipse cx="307.2" cy="601.9" rx="2.6" ry="1.6" transform="rotate(25 307.2 601.9)" fill="#55556E" fill-opacity="0.80"/><ellipse cx="374.5" cy="578.0" rx="1.9" ry="1.8" transform="rotate(37 374.5 578.0)" fill="#6A6A8A" fill-opacity="0.89"/><ellipse cx="353.7" cy="603.1" rx="2.8" ry="2.0" transform="rotate(43 353.7 603.1)" fill="#5A5470" fill-opacity="0.87"/><ellipse cx="344.3" cy="566.8" rx="2.0" ry="2.3" transform="rotate(124 344.3 566.8)" fill="#6A6A8A" fill-opacity="0.82"/><ellipse cx="358.1" cy="608.4" rx="2.1" ry="2.0" transform="rotate(85 358.1 608.4)" fill="#6A6A8A" fill-opacity="0.89"/><ellipse cx="303.8" cy="568.1" rx="2.2" ry="1.7" transform="rotate(9 303.8 568.1)" fill="#6A6A8A" fill-opacity="0.89"/><ellipse cx="316.5" cy="582.7" rx="1.9" ry="2.5" transform="rotate(165 316.5 582.7)" fill="#6A6A8A" fill-opacity="0.90"/><ellipse cx="372.0" cy="555.9" rx="3.0" ry="2.0" transform="rotate(136 372.0 555.9)" fill="#4A3A3A" fill-opacity="0.91"/><ellipse cx="325.1" cy="645.8" rx="2.0" ry="1.7" transform="rotate(161 325.1 645.8)" fill="#3A3A50" fill-opacity="0.82"/><ellipse cx="360.6" cy="628.4" rx="2.8" ry="1.6" transform="rotate(134 360.6 628.4)" fill="#2E2A36" fill-opacity="0.90"/><ellipse cx="343.9" cy="571.5" rx="2.3" ry="2.0" transform="rotate(22 343.9 571.5)" fill="#3A3440" fill-opacity="0.93"/><ellipse cx="374.5" cy="620.9" rx="3.0" ry="1.8" transform="rotate(167 374.5 620.9)" fill="#3A2E2A" fill-opacity="0.91"/><ellipse cx="377.7" cy="627.9" rx="2.1" ry="1.6" transform="rotate(62 377.7 627.9)" fill="#6A6A8A" fill-opacity="0.85"/><ellipse cx="299.9" cy="576.6" rx="3.0" ry="1.9" transform="rotate(107 299.9 576.6)" fill="#3A3440" fill-opacity="0.84"/><ellipse cx="317.7" cy="591.5" rx="2.7" ry="2.5" transform="rotate(105 317.7 591.5)" fill="#55556E" fill-opacity="0.87"/><ellipse cx="360.3" cy="643.1" rx="3.0" ry="2.3" transform="rotate(29 360.3 643.1)" fill="#55556E" fill-opacity="0.80"/><ellipse cx="311.8" cy="566.1" rx="3.1" ry="1.8" transform="rotate(137 311.8 566.1)" fill="#3A3440" fill-opacity="0.89"/><ellipse cx="380.1" cy="614.0" rx="2.7" ry="1.5" transform="rotate(33 380.1 614.0)" fill="#4A3A3A" fill-opacity="0.93"/><ellipse cx="317.5" cy="602.5" rx="2.6" ry="2.1" transform="rotate(1 317.5 602.5)" fill="#2E2A36" fill-opacity="0.94"/><ellipse cx="312.4" cy="604.4" rx="2.3" ry="2.5" transform="rotate(126 312.4 604.4)" fill="#55556E" fill-opacity="0.86"/><ellipse cx="315.7" cy="646.2" rx="2.5" ry="1.6" transform="rotate(46 315.7 646.2)" fill="#3A3A50" fill-opacity="0.81"/><ellipse cx="355.7" cy="555.5" rx="1.9" ry="2.5" transform="rotate(24 355.7 555.5)" fill="#2E2A36" fill-opacity="0.92"/><ellipse cx="292.7" cy="556.0" rx="2.3" ry="2.6" transform="rotate(103 292.7 556.0)" fill="#5A5470" fill-opacity="0.91"/><ellipse cx="343.9" cy="597.4" rx="2.1" ry="1.5" transform="rotate(18 343.9 597.4)" fill="#6A6A8A" fill-opacity="0.87"/><ellipse cx="340.8" cy="612.0" rx="2.1" ry="1.8" transform="rotate(177 340.8 612.0)" fill="#5A5470" fill-opacity="0.84"/><ellipse cx="363.8" cy="573.1" rx="2.2" ry="2.0" transform="rotate(135 363.8 573.1)" fill="#5A5470" fill-opacity="0.82"/><ellipse cx="349.3" cy="632.4" rx="1.8" ry="2.3" transform="rotate(78 349.3 632.4)" fill="#6A6A8A" fill-opacity="0.81"/><ellipse cx="331.8" cy="616.5" rx="2.4" ry="1.6" transform="rotate(69 331.8 616.5)" fill="#3A3A50" fill-opacity="0.87"/><ellipse cx="332.5" cy="556.0" rx="2.7" ry="2.2" transform="rotate(99 332.5 556.0)" fill="#55556E" fill-opacity="0.84"/><ellipse cx="331.9" cy="571.6" rx="2.9" ry="2.3" transform="rotate(76 331.9 571.6)" fill="#4A3A34" fill-opacity="0.89"/><ellipse cx="357.3" cy="625.8" rx="2.8" ry="1.6" transform="rotate(30 357.3 625.8)" fill="#5A5470" fill-opacity="0.92"/><ellipse cx="325.1" cy="625.8" rx="1.9" ry="1.9" transform="rotate(57 325.1 625.8)" fill="#3A3440" fill-opacity="0.92"/><ellipse cx="329.3" cy="571.0" rx="1.8" ry="2.5" transform="rotate(18 329.3 571.0)" fill="#5A5470" fill-opacity="0.87"/><ellipse cx="302.3" cy="612.3" rx="2.1" ry="2.4" transform="rotate(47 302.3 612.3)" fill="#55556E" fill-opacity="0.86"/><ellipse cx="337.4" cy="628.4" rx="1.9" ry="2.4" transform="rotate(120 337.4 628.4)" fill="#3A2E2A" fill-opacity="0.91"/><ellipse cx="363.6" cy="642.8" rx="2.2" ry="2.6" transform="rotate(55 363.6 642.8)" fill="#3A3440" fill-opacity="0.94"/><ellipse cx="315.6" cy="580.2" rx="2.6" ry="2.2" transform="rotate(87 315.6 580.2)" fill="#2E2A36" fill-opacity="0.80"/><ellipse cx="337.7" cy="629.7" rx="2.9" ry="1.8" transform="rotate(81 337.7 629.7)" fill="#3A2E2A" fill-opacity="0.91"/><ellipse cx="364.9" cy="615.9" rx="2.7" ry="2.0" transform="rotate(78 364.9 615.9)" fill="#2E2A36" fill-opacity="0.82"/><ellipse cx="340.6" cy="600.9" rx="3.2" ry="2.0" transform="rotate(135 340.6 600.9)" fill="#3A3A50" fill-opacity="0.90"/><ellipse cx="338.8" cy="611.4" rx="2.5" ry="2.6" transform="rotate(50 338.8 611.4)" fill="#55556E" fill-opacity="0.94"/><ellipse cx="310.8" cy="633.9" rx="1.8" ry="2.0" transform="rotate(168 310.8 633.9)" fill="#4A3A34" fill-opacity="0.83"/><ellipse cx="372.2" cy="610.9" rx="2.7" ry="1.9" transform="rotate(46 372.2 610.9)" fill="#55556E" fill-opacity="0.88"/><ellipse cx="361.9" cy="644.0" rx="3.0" ry="2.2" transform="rotate(79 361.9 644.0)" fill="#3A3440" fill-opacity="0.81"/><ellipse cx="358.4" cy="596.9" rx="1.9" ry="1.6" transform="rotate(91 358.4 596.9)" fill="#2E2A36" fill-opacity="0.91"/><ellipse cx="376.4" cy="623.7" rx="3.1" ry="1.8" transform="rotate(53 376.4 623.7)" fill="#4A3A34" fill-opacity="0.86"/><ellipse cx="294.2" cy="561.2" rx="2.7" ry="2.2" transform="rotate(131 294.2 561.2)" fill="#3A2E2A" fill-opacity="0.83"/><ellipse cx="309.6" cy="582.0" rx="2.9" ry="2.6" transform="rotate(108 309.6 582.0)" fill="#4A3A3A" fill-opacity="0.93"/><ellipse cx="376.3" cy="579.2" rx="2.3" ry="2.4" transform="rotate(95 376.3 579.2)" fill="#5A5470" fill-opacity="0.80"/><ellipse cx="302.4" cy="625.5" rx="1.8" ry="2.2" transform="rotate(96 302.4 625.5)" fill="#3A3440" fill-opacity="0.88"/><ellipse cx="333.1" cy="627.2" rx="2.4" ry="2.3" transform="rotate(172 333.1 627.2)" fill="#3A3A50" fill-opacity="0.91"/><ellipse cx="321.9" cy="609.3" rx="1.9" ry="1.7" transform="rotate(59 321.9 609.3)" fill="#3A3440" fill-opacity="0.82"/><ellipse cx="349.8" cy="628.7" rx="2.7" ry="2.5" transform="rotate(49 349.8 628.7)" fill="#6A6A8A" fill-opacity="0.83"/><ellipse cx="338.2" cy="640.9" rx="3.0" ry="2.3" transform="rotate(31 338.2 640.9)" fill="#4A3A34" fill-opacity="0.92"/><ellipse cx="371.3" cy="602.4" rx="2.2" ry="2.2" transform="rotate(57 371.3 602.4)" fill="#4A3A3A" fill-opacity="0.93"/><ellipse cx="291.8" cy="609.5" rx="3.1" ry="2.1" transform="rotate(94 291.8 609.5)" fill="#4A3A3A" fill-opacity="0.94"/><ellipse cx="306.0" cy="576.1" rx="2.1" ry="1.8" transform="rotate(129 306.0 576.1)" fill="#55556E" fill-opacity="0.86"/></g>
<path d="M320.0,641.0 C320.2,638.5 323.8,633.8 326.0,630.0 C328.2,626.2 330.5,622.0 333.0,618.0 C335.5,614.0 338.3,609.7 341.0,606.0 C343.7,602.3 346.5,599.3 349.0,596.0 C351.5,592.7 354.0,588.7 356.0,586.0 C358.0,583.3 360.7,579.3 361.0,580.0 C361.3,580.7 359.7,586.3 358.0,590.0 C356.3,593.7 353.3,598.0 351.0,602.0 C348.7,606.0 346.5,609.8 344.0,614.0 C341.5,618.2 338.5,623.0 336.0,627.0 C333.5,631.0 330.8,635.0 329.0,638.0 C327.2,641.0 326.5,644.2 325.0,644.7 C323.5,645.2 319.8,643.5 320.0,641.0 Z" fill="#F7F6F2" filter="url(#rough)"/>
<path d="M346.0,612.0 C346.7,610.5 349.7,607.8 352.0,606.0 C354.3,604.2 357.7,602.3 360.0,601.0 C362.3,599.7 365.7,597.5 366.0,598.0 C366.3,598.5 364.0,602.0 362.0,604.0 C360.0,606.0 356.3,608.2 354.0,610.0 C351.7,611.8 349.3,614.7 348.0,615.0 C346.7,615.3 345.3,613.5 346.0,612.0 Z" fill="#F7F6F2" filter="url(#rough)"/>
</g>
<rect x="291.30" y="555.00" width="89.70" height="89.70" fill="none" stroke="#4A4444" stroke-width="0.8"/></svg></body></html>
